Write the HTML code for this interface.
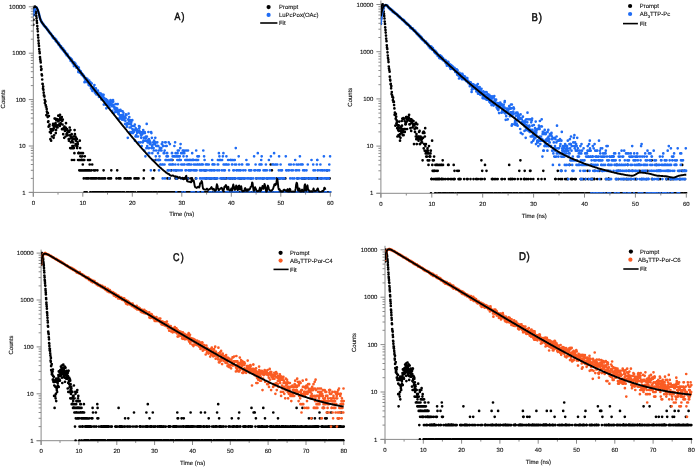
<!DOCTYPE html>
<html><head><meta charset="utf-8"><style>
html,body{margin:0;padding:0;background:#fff;}
svg{display:block;font-family:"Liberation Sans",sans-serif;will-change:transform;text-rendering:geometricPrecision;}
</style></head><body>
<svg width="696" height="467" viewBox="0 0 696 467">
<rect width="696" height="467" fill="#fff"/>
<path d="M33.3 5.5V196.7" stroke="#8a8a8a" stroke-width="1" fill="none"/><path d="M28.8 192.4H330.3" stroke="#8a8a8a" stroke-width="1" fill="none"/><path d="M28.8 192.4H33.3M30.8 178.4H33.3M30.8 170.3H33.3M30.8 164.5H33.3M30.8 160H33.3M30.8 156.3H33.3M30.8 153.2H33.3M30.8 150.5H33.3M30.8 148.1H33.3M28.8 146H33.3M30.8 132H33.3M30.8 123.9H33.3M30.8 118.1H33.3M30.8 113.6H33.3M30.8 109.9H33.3M30.8 106.8H33.3M30.8 104.1H33.3M30.8 101.7H33.3M28.8 99.6H33.3M30.8 85.6H33.3M30.8 77.5H33.3M30.8 71.7H33.3M30.8 67.2H33.3M30.8 63.5H33.3M30.8 60.4H33.3M30.8 57.7H33.3M30.8 55.3H33.3M28.8 53.2H33.3M30.8 39.2H33.3M30.8 31.1H33.3M30.8 25.3H33.3M30.8 20.8H33.3M30.8 17.1H33.3M30.8 14H33.3M30.8 11.3H33.3M30.8 8.9H33.3M28.8 6.8H33.3M33.3 192.4V196.7M58 192.4V194.6M82.8 192.4V196.7M107.5 192.4V194.6M132.3 192.4V196.7M157.1 192.4V194.6M181.8 192.4V196.7M206.6 192.4V194.6M231.3 192.4V196.7M256.1 192.4V194.6M280.8 192.4V196.7M305.6 192.4V194.6M330.3 192.4V196.7" stroke="#8a8a8a" stroke-width="1" fill="none"/><g font-size="6" fill="#111" stroke="#111" stroke-width="0.12"><text x="25.7" y="194.5" text-anchor="end">1</text><text x="25.7" y="148.1" text-anchor="end">10</text><text x="25.7" y="101.7" text-anchor="end">100</text><text x="25.7" y="55.3" text-anchor="end">1000</text><text x="25.7" y="8.9" text-anchor="end">10000</text><text x="33.3" y="204.6" text-anchor="middle">0</text><text x="82.8" y="204.6" text-anchor="middle">10</text><text x="132.3" y="204.6" text-anchor="middle">20</text><text x="181.8" y="204.6" text-anchor="middle">30</text><text x="231.3" y="204.6" text-anchor="middle">40</text><text x="280.8" y="204.6" text-anchor="middle">50</text><text x="330.3" y="204.6" text-anchor="middle">60</text><text x="181.8" y="216.1" text-anchor="middle">Time (ns)</text><text transform="translate(5.1 98.9) rotate(-90)" text-anchor="middle">Counts</text></g><clipPath id="c0"><rect x="33.3" y="2.5" width="298.5" height="189.9"/></clipPath><g clip-path="url(#c0)"><path d="M33.3 24.8h0M33.5 19.8h0M33.8 15h0M34 10.8h0M34.3 9.1h0M34.5 7.8h0M34.8 7h0M35 6.7h0M35.3 7.2h0M35.5 9h0M35.8 11.5h0M36 13.4h0M36.3 16.1h0M36.5 18.2h0M36.8 20.8h0M37 22.9h0M37.3 26.1h0M37.5 28.8h0M37.8 31.3h0M38 35.1h0M38.2 37.6h0M38.5 40.7h0M38.7 43.4h0M39 45.9h0M39.2 49.2h0M39.5 51.7h0M39.7 53.2h0M40 57.2h0M40.2 59.2h0M40.5 60.9h0M40.7 62.5h0M41 66.7h0M41.2 69.9h0M41.5 69h0M41.7 74.4h0M42 75.5h0M42.2 79.5h0M42.5 83.9h0M42.7 84.1h0M43 88.7h0M43.2 86.5h0M43.4 89.8h0M43.7 92.7h0M43.9 95.4h0M44.2 95.6h0M44.4 96.6h0M44.7 99.8h0M44.9 103.1h0M45.2 101.1h0M45.4 101.5h0M45.7 105.1h0M45.9 106.5h0M46.2 106.8h0M46.4 115.2h0M46.7 108.9h0M46.9 111.6h0M47.2 112.4h0M47.4 113.2h0M47.7 117.1h0M47.9 113.2h0M48.1 121.9h0M48.4 121.3h0M48.6 126.7h0M48.9 116.1h0M49.1 126h0M49.4 126h0M49.6 124.5h0M49.9 132h0M50.1 132h0M50.4 139.2h0M50.6 129.2h0M50.9 133.1h0M51.1 140.7h0M51.4 131h0M51.6 131h0M51.9 136.5h0M52.1 130.1h0M52.4 129.2h0M52.6 130.1h0M52.9 125.3h0M53.1 123.9h0M53.3 130.1h0M53.6 137.8h0M53.8 128.4h0M54.1 135.3h0M54.3 126.7h0M54.6 118.6h0M54.8 123.9h0M55.1 118.6h0M55.3 125.3h0M55.6 123.2h0M55.8 133.1h0M56.1 130.1h0M56.3 120.2h0M56.6 119.1h0M56.8 127.5h0M57.1 126.7h0M57.3 125.3h0M57.6 127.5h0M57.8 119.6h0M58 121.3h0M58.3 115.7h0M58.5 120.8h0M58.8 120.8h0M59 119.6h0M59.3 124.5h0M59.5 123.9h0M59.8 126h0M60 114.8h0M60.3 117.6h0M60.5 123.2h0M60.8 123.9h0M61 119.1h0M61.3 120.2h0M61.5 120.8h0M61.8 117.1h0M62 129.2h0M62.3 120.8h0M62.5 124.5h0M62.8 119.6h0M63 129.2h0M63.2 134.2h0M63.5 128.4h0M63.7 129.2h0M64 127.5h0M64.2 137.8h0M64.5 126.7h0M64.7 129.2h0M65 131h0M65.2 128.4h0M65.5 136.5h0M65.7 127.5h0M66 123.2h0M66.2 130.1h0M66.5 134.2h0M66.7 134.2h0M67 129.2h0M67.2 133.1h0M67.5 135.3h0M67.7 135.3h0M67.9 132h0M68.2 131h0M68.4 131h0M68.7 139.2h0M68.9 140.7h0M69.2 132h0M69.4 139.2h0M69.7 127.5h0M69.9 135.3h0M70.2 148.1h0M70.4 130.1h0M70.7 136.5h0M70.9 142.3h0M71.2 137.8h0M71.4 148.1h0M71.7 134.2h0M71.9 160h0M72.2 140.7h0M72.4 146h0M72.7 148.1h0M72.9 139.2h0M73.1 142.3h0M73.4 136.5h0M73.6 146h0M73.9 148.1h0M74.1 160h0M74.4 153.2h0M74.6 130.1h0M74.9 134.2h0M75.1 139.2h0M75.4 136.5h0M75.6 144.1h0M75.9 140.7h0M76.1 137.8h0M76.4 146h0M76.6 139.2h0M76.9 139.2h0M77.1 148.1h0M77.4 146h0M77.6 142.3h0M77.8 144.1h0M78.1 160h0M78.3 153.2h0M78.6 153.2h0M78.8 153.2h0M79.1 153.2h0M79.3 170.3h0M79.6 160h0M79.8 140.7h0M80.1 148.1h0M80.3 156.3h0M80.6 153.2h0M80.8 170.3h0M81.1 160h0M81.3 160h0M81.6 160h0M81.8 153.2h0M82.1 170.3h0M82.3 156.3h0M82.6 160h0M82.8 164.5h0M83 153.2h0M83.3 160h0M83.8 178.4h0M84 170.3h0M84.3 160h0M84.5 192.4h0M84.8 156.3h0M85 192.4h0M85.3 170.3h0M85.5 170.3h0M85.8 170.3h0M86 178.4h0M86.3 192.4h0M86.5 170.3h0M86.8 192.4h0M87 178.4h0M87.3 178.4h0M87.5 170.3h0M87.8 170.3h0M88 160h0M88.2 178.4h0M88.5 178.4h0M88.7 170.3h0M89 170.3h0M89.2 170.3h0M89.5 170.3h0M89.7 164.5h0M90 160h0M90.2 192.4h0M90.7 178.4h0M91 192.4h0M91.5 170.3h0M91.7 178.4h0M92 178.4h0M92.2 164.5h0M92.7 192.4h0M92.9 178.4h0M93.2 192.4h0M93.4 178.4h0M93.7 178.4h0M93.9 170.3h0M94.2 178.4h0M94.4 192.4h0M94.7 178.4h0M94.9 192.4h0M95.2 170.3h0M95.4 192.4h0M95.9 178.4h0M96.2 178.4h0M96.4 192.4h0M96.7 192.4h0M96.9 192.4h0M97.2 192.4h0M97.4 170.3h0M97.7 192.4h0M97.9 192.4h0M98.4 178.4h0M98.6 192.4h0M98.9 192.4h0M99.1 178.4h0M99.4 178.4h0M99.9 192.4h0M100.1 192.4h0M100.6 192.4h0M101.1 178.4h0M101.6 192.4h0M102.6 192.4h0M102.8 178.4h0M103.6 170.3h0M103.8 192.4h0M104.1 178.4h0M105.1 178.4h0M105.3 192.4h0M105.6 192.4h0M106.1 192.4h0M106.8 192.4h0M107.1 192.4h0M107.3 192.4h0M108.3 178.4h0M108.5 192.4h0M108.8 192.4h0M109.5 178.4h0M109.8 192.4h0M110 192.4h0M110.3 192.4h0M110.8 178.4h0M111 178.4h0M111.3 170.3h0M111.8 192.4h0M112 192.4h0M112.3 192.4h0M112.5 192.4h0M113 192.4h0M113.7 192.4h0M114 192.4h0M114.2 192.4h0M115 192.4h0M115.5 192.4h0M115.7 192.4h0M116.2 192.4h0M116.5 178.4h0M117 192.4h0M117.2 170.3h0M117.7 192.4h0M117.9 192.4h0M118.7 192.4h0M118.9 178.4h0M119.2 178.4h0M119.4 192.4h0M119.7 192.4h0M119.9 178.4h0M120.2 192.4h0M120.4 178.4h0M121.2 192.4h0M122.9 192.4h0M123.1 192.4h0M123.4 192.4h0M123.6 192.4h0M124.1 192.4h0M124.6 178.4h0M125.4 178.4h0M126.6 192.4h0M126.9 192.4h0M127.3 178.4h0M127.6 178.4h0M127.8 192.4h0M128.6 192.4h0M128.8 192.4h0M129.1 178.4h0M129.6 178.4h0M130.3 192.4h0M130.6 178.4h0M131.1 192.4h0M131.3 192.4h0M131.8 192.4h0M132.3 192.4h0M132.5 192.4h0M133.8 192.4h0M134.5 178.4h0M135.3 192.4h0M135.8 178.4h0M137 178.4h0M138 192.4h0M138.2 192.4h0M138.5 178.4h0M139.2 192.4h0M139.5 192.4h0M139.7 192.4h0M140.2 192.4h0M140.5 192.4h0M140.7 192.4h0M141.2 192.4h0M141.7 192.4h0M142.2 192.4h0M142.4 192.4h0M143.4 192.4h0M143.7 178.4h0M143.9 170.3h0M144.2 192.4h0M144.9 192.4h0M145.2 192.4h0M145.7 192.4h0M146.2 192.4h0M147.6 192.4h0M148.1 192.4h0M148.4 192.4h0M148.6 192.4h0M149.4 192.4h0M149.6 192.4h0M150.4 192.4h0M150.6 192.4h0M150.9 192.4h0M151.1 192.4h0M151.9 192.4h0M152.6 178.4h0M153.1 192.4h0M153.3 178.4h0M153.8 192.4h0M154.3 170.3h0M154.6 192.4h0M155.3 192.4h0M155.6 160h0M156.1 192.4h0M156.3 192.4h0M158.3 192.4h0M158.5 192.4h0M158.8 160h0M159.3 192.4h0M160 192.4h0M160.3 192.4h0M160.5 192.4h0M160.8 192.4h0M161 192.4h0M161.3 192.4h0M162 192.4h0M162.7 192.4h0M163 192.4h0M163.2 192.4h0M163.5 192.4h0M163.7 192.4h0M164.5 192.4h0M164.7 192.4h0M165.2 192.4h0M165.5 192.4h0M165.7 192.4h0M166.2 192.4h0M166.5 192.4h0M166.7 192.4h0M166.9 192.4h0M167.4 178.4h0M167.7 192.4h0M168.2 192.4h0M168.4 192.4h0M168.7 192.4h0M169.2 192.4h0M169.7 178.4h0M169.9 192.4h0M170.2 192.4h0M170.4 192.4h0M170.7 192.4h0M170.9 192.4h0M171.2 170.3h0M171.9 192.4h0M172.4 160h0M172.6 192.4h0M173.4 192.4h0M174.1 192.4h0M175.1 192.4h0M175.4 192.4h0M175.6 178.4h0M176.1 170.3h0M176.4 192.4h0M176.9 178.4h0M177.3 178.4h0M178.1 192.4h0M178.6 192.4h0M178.8 192.4h0M179.8 192.4h0M180.6 192.4h0M180.8 192.4h0M181.1 192.4h0M181.3 192.4h0M181.6 192.4h0M182.3 192.4h0M182.8 192.4h0M183 178.4h0M183.3 192.4h0M184 192.4h0M184.8 178.4h0M185.3 192.4h0M185.5 178.4h0M185.8 192.4h0M186.3 192.4h0M186.5 192.4h0M187.2 192.4h0M187.5 192.4h0M187.7 178.4h0M188.5 178.4h0M188.7 192.4h0M189.2 192.4h0M189.5 192.4h0M189.7 192.4h0M190 192.4h0M190.2 192.4h0M190.5 192.4h0M191.2 178.4h0M191.9 192.4h0M192.2 192.4h0M192.4 192.4h0M192.7 192.4h0M192.9 192.4h0M194.7 192.4h0M195.2 192.4h0M195.4 192.4h0M195.9 178.4h0M196.2 192.4h0M197.4 192.4h0M198.4 192.4h0M198.9 192.4h0M200.1 192.4h0M200.4 192.4h0M200.6 192.4h0M200.9 192.4h0M201.1 192.4h0M202.1 192.4h0M202.6 192.4h0M202.8 192.4h0M203.3 192.4h0M203.6 192.4h0M203.8 192.4h0M204.1 192.4h0M204.6 192.4h0M204.8 192.4h0M205.1 170.3h0M205.6 178.4h0M205.8 192.4h0M206.1 192.4h0M206.3 178.4h0M207 192.4h0M208 192.4h0M208.3 192.4h0M209 192.4h0M209.3 192.4h0M209.5 192.4h0M209.8 178.4h0M210.5 192.4h0M210.8 192.4h0M211 192.4h0M211.3 178.4h0M211.5 192.4h0M212 192.4h0M212.5 192.4h0M212.7 192.4h0M214.2 192.4h0M214.5 178.4h0M215 192.4h0M215.7 192.4h0M216 178.4h0M216.2 178.4h0M216.4 178.4h0M217.2 192.4h0M217.4 192.4h0M217.9 192.4h0M218.2 192.4h0M220.2 192.4h0M220.4 192.4h0M220.7 192.4h0M221.2 192.4h0M221.6 192.4h0M221.9 178.4h0M222.1 192.4h0M222.4 192.4h0M222.6 192.4h0M222.9 192.4h0M223.6 192.4h0M223.9 192.4h0M224.1 178.4h0M224.4 192.4h0M224.6 192.4h0M225.4 192.4h0M225.9 178.4h0M226.1 192.4h0M227.3 192.4h0M227.8 192.4h0M228.3 192.4h0M228.6 192.4h0M229.6 192.4h0M229.8 192.4h0M230.1 178.4h0M230.3 192.4h0M230.8 192.4h0M231.1 192.4h0M231.3 192.4h0M231.8 192.4h0M232.5 178.4h0M233 192.4h0M233.8 192.4h0M234.8 192.4h0M235 178.4h0M235.8 192.4h0M236 192.4h0M237.7 192.4h0M238 192.4h0M238.2 192.4h0M238.5 192.4h0M238.7 192.4h0M239 192.4h0M239.7 178.4h0M240.2 192.4h0M240.7 192.4h0M241.4 178.4h0M242.2 192.4h0M243.9 192.4h0M244.2 178.4h0M244.7 192.4h0M244.9 192.4h0M245.2 192.4h0M245.7 192.4h0M246.1 192.4h0M246.4 192.4h0M246.9 192.4h0M248.1 192.4h0M248.6 192.4h0M249.1 192.4h0M249.6 192.4h0M249.9 192.4h0M250.1 192.4h0M250.4 192.4h0M250.9 178.4h0M251.6 192.4h0M252.3 192.4h0M252.6 192.4h0M253.6 192.4h0M253.8 192.4h0M254.3 192.4h0M254.8 192.4h0M255.6 192.4h0M256.1 192.4h0M256.3 192.4h0M256.5 178.4h0M256.8 192.4h0M257.3 192.4h0M257.8 192.4h0M258 192.4h0M258.3 192.4h0M258.5 192.4h0M259.3 192.4h0M259.5 192.4h0M260 192.4h0M260.3 192.4h0M260.5 192.4h0M262 192.4h0M262.5 192.4h0M262.7 192.4h0M263 178.4h0M263.2 192.4h0M264.2 192.4h0M265 192.4h0M265.7 192.4h0M265.9 192.4h0M266.2 192.4h0M266.4 192.4h0M266.9 192.4h0M267.2 178.4h0M267.9 192.4h0M268.2 192.4h0M268.7 192.4h0M268.9 192.4h0M269.7 192.4h0M270.4 192.4h0M270.7 164.5h0M270.9 192.4h0M271.4 192.4h0M271.6 192.4h0M271.9 170.3h0M272.4 192.4h0M273.1 192.4h0M273.4 192.4h0M273.9 192.4h0M274.4 192.4h0M275.4 192.4h0M275.6 192.4h0M276.6 178.4h0M276.8 192.4h0M277.3 192.4h0M277.6 192.4h0M278.1 178.4h0M278.8 192.4h0M279.6 192.4h0M279.8 178.4h0M280.1 192.4h0M280.3 192.4h0M281.3 192.4h0M281.5 192.4h0M281.8 192.4h0M282.3 192.4h0M282.8 192.4h0M283 178.4h0M283.8 178.4h0M285.3 178.4h0M285.5 192.4h0M286 192.4h0M286.7 192.4h0M287 192.4h0M288 192.4h0M288.7 192.4h0M289 192.4h0M289.5 192.4h0M290.2 192.4h0M290.5 192.4h0M290.9 192.4h0M291.4 192.4h0M292.4 192.4h0M293.4 192.4h0M293.7 192.4h0M293.9 192.4h0M294.2 192.4h0M294.4 192.4h0M295.2 192.4h0M295.7 192.4h0M295.9 192.4h0M296.6 192.4h0M297.6 178.4h0M298.4 192.4h0M298.6 192.4h0M299.1 192.4h0M299.4 192.4h0M299.6 192.4h0M301.1 192.4h0M302.1 178.4h0M302.8 192.4h0M303.1 178.4h0M303.8 192.4h0M304.6 192.4h0M305.1 178.4h0M306.8 192.4h0M307 192.4h0M307.3 192.4h0M308 192.4h0M308.5 192.4h0M308.8 178.4h0M309 192.4h0M310 192.4h0M310.7 192.4h0M311 192.4h0M311.2 192.4h0M311.5 178.4h0M311.7 192.4h0M312 178.4h0M312.2 192.4h0M312.7 192.4h0M313 192.4h0M313.2 192.4h0M313.5 192.4h0M314 192.4h0M314.2 192.4h0M314.7 192.4h0M315 192.4h0M315.5 178.4h0M315.7 192.4h0M315.9 178.4h0M316.2 192.4h0M316.4 192.4h0M316.9 192.4h0M317.4 192.4h0M317.7 178.4h0M317.9 192.4h0M318.7 192.4h0M318.9 192.4h0M319.2 192.4h0M319.7 192.4h0M319.9 192.4h0M320.2 192.4h0M320.4 192.4h0M320.6 192.4h0M321.1 178.4h0M321.9 192.4h0M322.1 192.4h0M322.6 192.4h0M322.9 192.4h0M323.6 192.4h0M324.1 192.4h0M324.6 192.4h0M324.9 192.4h0M325.6 192.4h0M325.8 192.4h0M326.6 178.4h0M326.8 192.4h0M327.1 170.3h0M327.6 192.4h0M328.1 192.4h0M329.1 192.4h0M329.3 192.4h0M329.6 178.4h0M329.8 192.4h0M330.1 192.4h0M330.3 192.4h0" stroke="#000" stroke-width="2.7" stroke-linecap="round" fill="none"/><path d="M33.3 15.2h0M33.5 13.3h0M33.8 11.9h0M34 11.1h0M34.3 10.1h0M34.5 9.9h0M34.8 9.1h0M35 8.7h0M35.3 8.2h0M35.5 7.8h0M35.8 7.9h0M36 7.7h0M36.3 7.9h0M36.5 7.8h0M36.8 7.9h0M37 8.9h0M37.3 9.3h0M37.5 9.7h0M37.8 10.2h0M38 10.7h0M38.2 11.5h0M38.5 12.3h0M38.7 13.4h0M39 14.1h0M39.2 15h0M39.5 16.4h0M39.7 17.2h0M40 18h0M40.2 18.7h0M40.5 19.7h0M40.7 19.8h0M41 20.8h0M41.2 20.9h0M41.5 22.1h0M41.7 22.1h0M42 22.4h0M42.2 23h0M42.5 23.4h0M42.7 23.9h0M43 24.1h0M43.2 23.9h0M43.4 24.7h0M43.7 25.2h0M43.9 25.6h0M44.2 26h0M44.4 25.8h0M44.7 26.3h0M44.9 26.7h0M45.2 26.9h0M45.4 27h0M45.7 27.5h0M45.9 27.1h0M46.2 27.9h0M46.4 28.5h0M46.7 28.4h0M46.9 29.1h0M47.2 29.3h0M47.4 29.7h0M47.7 29.6h0M47.9 29.8h0M48.1 30.2h0M48.4 31.1h0M48.6 31.1h0M48.9 31.7h0M49.1 31.6h0M49.4 32.5h0M49.6 32.8h0M49.9 32.9h0M50.1 33.5h0M50.4 33.7h0M50.6 33.7h0M50.9 33.7h0M51.1 34.2h0M51.4 34.8h0M51.6 35.2h0M51.9 35.4h0M52.1 36.2h0M52.4 36.7h0M52.6 36.6h0M52.9 36h0M53.1 37.9h0M53.3 37.7h0M53.6 38.2h0M53.8 38.6h0M54.1 38.4h0M54.3 37.8h0M54.6 38.4h0M54.8 38.8h0M55.1 38.9h0M55.3 39.2h0M55.6 40.8h0M55.8 41h0M56.1 39.6h0M56.3 40.9h0M56.6 41.9h0M56.8 41h0M57.1 41.8h0M57.3 42.1h0M57.6 42.1h0M57.8 42.9h0M58 42.8h0M58.3 42.8h0M58.5 44.5h0M58.8 43.4h0M59 43.7h0M59.3 45.3h0M59.5 45h0M59.8 45.4h0M60 45.6h0M60.3 46.3h0M60.5 47.2h0M60.8 47.3h0M61 46.2h0M61.3 47.7h0M61.5 48.4h0M61.8 48.7h0M62 49.2h0M62.3 48.1h0M62.5 48.1h0M62.8 49.3h0M63 49.6h0M63.2 48.9h0M63.5 50.8h0M63.7 50.3h0M64 50.1h0M64.2 51.8h0M64.5 51.4h0M64.7 51.3h0M65 51.1h0M65.2 52.1h0M65.5 53.5h0M65.7 53.8h0M66 53.5h0M66.2 53.4h0M66.5 55.2h0M66.7 54.6h0M67 55h0M67.2 53.8h0M67.5 54.7h0M67.7 55.9h0M67.9 55.5h0M68.2 56.1h0M68.4 56.7h0M68.7 57.3h0M68.9 57.4h0M69.2 57.9h0M69.4 57.7h0M69.7 57.5h0M69.9 58.7h0M70.2 59.3h0M70.4 58.1h0M70.7 60.9h0M70.9 58.8h0M71.2 59.6h0M71.4 60.6h0M71.7 59.4h0M71.9 60.6h0M72.2 60.7h0M72.4 61.9h0M72.7 63h0M72.9 63.5h0M73.1 63h0M73.4 62.7h0M73.6 63.8h0M73.9 66.1h0M74.1 62.4h0M74.4 63.1h0M74.6 62.9h0M74.9 65.8h0M75.1 64.1h0M75.4 63.7h0M75.6 66h0M75.9 65.7h0M76.1 66.6h0M76.4 67.7h0M76.6 66.4h0M76.9 65.8h0M77.1 67.6h0M77.4 67.9h0M77.6 67h0M77.8 67.5h0M78.1 67.9h0M78.3 72.1h0M78.6 70.5h0M78.8 67.7h0M79.1 70.7h0M79.3 69.8h0M79.6 70.5h0M79.8 71.2h0M80.1 72.8h0M80.3 71.5h0M80.6 72.9h0M80.8 71.4h0M81.1 73.3h0M81.3 74.1h0M81.6 73.2h0M81.8 74.9h0M82.1 74h0M82.3 74.6h0M82.6 74.2h0M82.8 75.4h0M83 75.9h0M83.3 75.2h0M83.5 76.4h0M83.8 76.3h0M84 76h0M84.3 77.7h0M84.5 82.2h0M84.8 77.9h0M85 79.4h0M85.3 77.9h0M85.5 78.6h0M85.8 79.7h0M86 78.4h0M86.3 81.9h0M86.5 79.9h0M86.8 80.7h0M87 80.1h0M87.3 78.9h0M87.5 82h0M87.8 82h0M88 81.6h0M88.2 81.2h0M88.5 83.7h0M88.7 85h0M89 82.7h0M89.2 80.7h0M89.5 85.5h0M89.7 84.4h0M90 83.4h0M90.2 85h0M90.5 82.4h0M90.7 83.3h0M91 88.2h0M91.2 87.3h0M91.5 87.9h0M91.7 83.4h0M92 89.5h0M92.2 89h0M92.5 91h0M92.7 88.6h0M92.9 87h0M93.2 89h0M93.4 86.9h0M93.7 86.9h0M93.9 89.1h0M94.2 88.4h0M94.4 85h0M94.7 89.8h0M94.9 92.5h0M95.2 90.8h0M95.4 89.6h0M95.7 93.4h0M95.9 88.4h0M96.2 91.6h0M96.4 94.5h0M96.7 93.1h0M96.9 92h0M97.2 91.4h0M97.4 92.8h0M97.7 93.6h0M97.9 90.6h0M98.1 94.2h0M98.4 92.8h0M98.6 95.1h0M98.9 96.8h0M99.1 96.3h0M99.4 96.3h0M99.6 93.1h0M99.9 93.4h0M100.1 94.9h0M100.4 94.6h0M100.6 93.3h0M100.9 96.6h0M101.1 96.8h0M101.4 99.4h0M101.6 97.1h0M101.9 97.9h0M102.1 95.4h0M102.4 94.5h0M102.6 96.3h0M102.8 98.6h0M103.1 94.8h0M103.3 95.9h0M103.6 94.8h0M103.8 104.6h0M104.1 98h0M104.3 100.6h0M104.6 100.4h0M104.8 99h0M105.1 100.4h0M105.3 101.1h0M105.6 104.6h0M105.8 99h0M106.1 102.2h0M106.3 108.3h0M106.6 101.7h0M106.8 100.8h0M107.1 103.8h0M107.3 100.2h0M107.5 103.8h0M107.8 104.1h0M108 105.4h0M108.3 107.1h0M108.5 104.1h0M108.8 101.9h0M109 102.9h0M109.3 102.4h0M109.5 107.7h0M109.8 105.1h0M110 104.6h0M110.3 101.3h0M110.5 100h0M110.8 104.4h0M111 101.3h0M111.3 104.4h0M111.5 103.6h0M111.8 104.9h0M112 106.2h0M112.3 110.9h0M112.5 105.9h0M112.7 105.7h0M113 100h0M113.2 101.7h0M113.5 104.9h0M113.7 106.5h0M114 113.2h0M114.2 107.7h0M114.5 107.7h0M114.7 108.9h0M115 107.7h0M115.2 109.6h0M115.5 111.6h0M115.7 104.1h0M116 111.3h0M116.2 108.6h0M116.5 108h0M116.7 112h0M117 110.6h0M117.2 108.6h0M117.5 112h0M117.7 104.1h0M117.9 118.6h0M118.2 112.8h0M118.4 114h0M118.7 113.6h0M118.9 111.6h0M119.2 119.1h0M119.4 110.2h0M119.7 115.2h0M119.9 118.6h0M120.2 117.1h0M120.4 109.9h0M120.7 117.1h0M120.9 117.1h0M121.2 110.9h0M121.4 115.2h0M121.7 116.1h0M121.9 119.6h0M122.2 117.6h0M122.4 119.6h0M122.6 111.3h0M122.9 117.1h0M123.1 115.2h0M123.4 112.8h0M123.6 117.6h0M123.9 117.1h0M124.1 118.6h0M124.4 120.2h0M124.6 118.6h0M124.9 116.6h0M125.1 123.9h0M125.4 120.8h0M125.6 118.1h0M125.9 114.4h0M126.1 124.5h0M126.4 115.2h0M126.6 124.5h0M126.9 126.7h0M127.1 124.5h0M127.3 123.2h0M127.6 123.9h0M127.8 137.8h0M128.1 119.6h0M128.3 119.6h0M128.6 113.6h0M128.8 123.9h0M129.1 121.3h0M129.3 117.1h0M129.6 127.5h0M129.8 132h0M130.1 120.2h0M130.3 123.9h0M130.6 127.5h0M130.8 133.1h0M131.1 123.9h0M131.3 121.9h0M131.6 126h0M131.8 126h0M132.1 132h0M132.3 120.2h0M132.5 129.2h0M132.8 130.1h0M133 133.1h0M133.3 130.1h0M133.5 131h0M133.8 132h0M134 126h0M134.3 130.1h0M134.5 126h0M134.8 124.5h0M135 140.7h0M135.3 130.1h0M135.5 136.5h0M135.8 128.4h0M136 135.3h0M136.3 129.2h0M136.5 129.2h0M136.8 136.5h0M137 132h0M137.2 133.1h0M137.5 131h0M137.7 131h0M138 136.5h0M138.2 131h0M138.5 142.3h0M138.7 132h0M139 126h0M139.2 128.4h0M139.5 131h0M139.7 126.7h0M140 133.1h0M140.2 133.1h0M140.5 142.3h0M140.7 132h0M141 135.3h0M141.2 137.8h0M141.5 135.3h0M141.7 146h0M142 134.2h0M142.2 134.2h0M142.4 132h0M142.7 142.3h0M142.9 142.3h0M143.2 130.1h0M143.4 140.7h0M143.7 133.1h0M143.9 137.8h0M144.2 137.8h0M144.4 150.5h0M144.7 132h0M144.9 133.1h0M145.2 140.7h0M145.4 156.3h0M145.7 140.7h0M145.9 136.5h0M146.2 137.8h0M146.4 148.1h0M146.7 123.9h0M146.9 136.5h0M147.2 146h0M147.4 140.7h0M147.6 142.3h0M147.9 142.3h0M148.1 148.1h0M148.4 132h0M148.6 153.2h0M148.9 139.2h0M149.1 148.1h0M149.4 153.2h0M149.6 140.7h0M149.9 144.1h0M150.1 142.3h0M150.4 142.3h0M150.6 144.1h0M150.9 170.3h0M151.1 132h0M151.4 133.1h0M151.6 148.1h0M151.9 137.8h0M152.1 146h0M152.3 153.2h0M152.8 160h0M153.1 142.3h0M153.3 144.1h0M153.6 148.1h0M153.8 150.5h0M154.1 140.7h0M154.3 144.1h0M154.6 144.1h0M154.8 144.1h0M155.1 142.3h0M155.3 137.8h0M155.6 142.3h0M155.8 156.3h0M156.1 150.5h0M156.3 146h0M156.6 160h0M156.8 146h0M157.1 146h0M157.3 142.3h0M157.5 160h0M157.8 146h0M158 153.2h0M158.3 146h0M158.5 160h0M158.8 150.5h0M159 170.3h0M159.3 160h0M159.5 156.3h0M159.8 148.1h0M160 160h0M160.3 164.5h0M160.5 148.1h0M160.8 164.5h0M161 150.5h0M161.3 148.1h0M161.5 150.5h0M161.8 144.1h0M162 144.1h0M162.2 164.5h0M162.5 142.3h0M162.7 178.4h0M163 164.5h0M163.2 146h0M163.5 146h0M163.7 153.2h0M164 153.2h0M164.2 153.2h0M164.5 164.5h0M164.7 150.5h0M165 178.4h0M165.2 142.3h0M165.5 160h0M165.7 142.3h0M166 146h0M166.2 160h0M166.5 156.3h0M166.7 146h0M166.9 153.2h0M167.2 153.2h0M167.4 156.3h0M167.7 170.3h0M167.9 156.3h0M168.2 160h0M168.4 170.3h0M168.7 142.3h0M168.9 170.3h0M169.2 178.4h0M169.4 164.5h0M169.7 160h0M169.9 144.1h0M170.2 164.5h0M170.4 170.3h0M170.7 160h0M170.9 160h0M171.2 164.5h0M171.4 160h0M171.7 160h0M171.9 153.2h0M172.1 153.2h0M172.4 164.5h0M172.6 156.3h0M172.9 164.5h0M173.1 164.5h0M173.4 170.3h0M173.6 156.3h0M173.9 156.3h0M174.1 156.3h0M174.4 146h0M174.6 170.3h0M174.9 156.3h0M175.1 142.3h0M175.4 164.5h0M175.6 153.2h0M175.9 170.3h0M176.1 192.4h0M176.4 156.3h0M176.6 178.4h0M176.9 170.3h0M177.1 156.3h0M177.3 160h0M177.6 153.2h0M177.8 150.5h0M178.1 170.3h0M178.3 164.5h0M178.6 156.3h0M178.8 150.5h0M179.1 160h0M179.3 160h0M179.6 160h0M179.8 156.3h0M180.1 170.3h0M180.3 148.1h0M180.6 144.1h0M180.8 160h0M181.1 153.2h0M181.3 164.5h0M181.6 178.4h0M181.8 170.3h0M182 153.2h0M182.3 192.4h0M182.5 164.5h0M182.8 150.5h0M183.3 150.5h0M183.5 156.3h0M183.8 153.2h0M184 164.5h0M184.3 153.2h0M184.5 164.5h0M184.8 192.4h0M185 150.5h0M185.3 160h0M185.5 170.3h0M185.8 170.3h0M186 170.3h0M186.3 160h0M186.5 150.5h0M186.8 156.3h0M187 160h0M187.2 164.5h0M187.5 178.4h0M187.7 160h0M188 150.5h0M188.2 164.5h0M188.5 170.3h0M188.7 164.5h0M189 160h0M189.2 164.5h0M189.5 170.3h0M189.7 164.5h0M190 160h0M190.2 160h0M190.5 170.3h0M190.7 170.3h0M191 170.3h0M191.2 164.5h0M191.5 192.4h0M191.7 192.4h0M191.9 160h0M192.2 153.2h0M192.4 160h0M192.7 192.4h0M192.9 160h0M193.2 170.3h0M193.4 160h0M193.7 160h0M193.9 164.5h0M194.2 192.4h0M194.4 170.3h0M194.7 170.3h0M194.9 170.3h0M195.2 164.5h0M195.4 170.3h0M195.7 170.3h0M195.9 160h0M196.2 150.5h0M196.4 178.4h0M196.6 170.3h0M196.9 160h0M197.1 164.5h0M197.4 156.3h0M197.6 164.5h0M197.9 192.4h0M198.1 160h0M198.4 156.3h0M198.6 192.4h0M198.9 156.3h0M199.1 164.5h0M199.4 164.5h0M199.9 170.3h0M200.1 178.4h0M200.4 178.4h0M200.6 178.4h0M200.9 170.3h0M201.1 164.5h0M201.4 164.5h0M201.6 170.3h0M201.8 170.3h0M202.1 192.4h0M202.3 178.4h0M202.6 164.5h0M202.8 164.5h0M203.1 192.4h0M203.3 150.5h0M203.6 170.3h0M203.8 178.4h0M204.1 156.3h0M204.3 170.3h0M204.6 160h0M204.8 178.4h0M205.1 170.3h0M205.3 170.3h0M205.6 178.4h0M205.8 164.5h0M206.1 164.5h0M206.3 170.3h0M206.8 170.3h0M207 164.5h0M207.3 178.4h0M207.5 164.5h0M207.8 178.4h0M208.3 178.4h0M208.5 178.4h0M208.8 164.5h0M209 178.4h0M209.3 170.3h0M209.5 192.4h0M209.8 178.4h0M210 178.4h0M210.8 170.3h0M211 178.4h0M211.3 170.3h0M211.5 192.4h0M211.7 178.4h0M212 170.3h0M212.2 160h0M212.5 164.5h0M212.7 164.5h0M213.2 164.5h0M213.5 178.4h0M213.7 170.3h0M214 164.5h0M214.2 192.4h0M214.5 164.5h0M214.7 170.3h0M215 192.4h0M215.2 192.4h0M215.5 178.4h0M216 192.4h0M216.2 178.4h0M216.4 178.4h0M216.7 192.4h0M216.9 178.4h0M217.2 170.3h0M217.4 178.4h0M217.7 164.5h0M217.9 160h0M218.2 164.5h0M218.4 192.4h0M218.9 153.2h0M219.2 170.3h0M219.4 156.3h0M219.7 192.4h0M219.9 160h0M220.2 160h0M220.4 178.4h0M220.7 178.4h0M220.9 178.4h0M221.2 192.4h0M221.6 192.4h0M221.9 170.3h0M222.1 160h0M222.6 178.4h0M222.9 156.3h0M223.4 153.2h0M223.6 164.5h0M223.9 170.3h0M224.1 164.5h0M224.4 178.4h0M224.6 178.4h0M224.9 170.3h0M225.1 178.4h0M225.6 164.5h0M225.9 192.4h0M226.1 164.5h0M226.4 156.3h0M226.6 192.4h0M226.8 164.5h0M227.3 192.4h0M227.6 192.4h0M227.8 178.4h0M228.1 160h0M228.3 192.4h0M228.6 164.5h0M228.8 178.4h0M229.1 170.3h0M229.8 178.4h0M230.1 192.4h0M230.3 160h0M230.6 160h0M231.1 178.4h0M231.5 178.4h0M231.8 160h0M232 164.5h0M232.3 164.5h0M232.5 192.4h0M232.8 178.4h0M233 160h0M233.3 170.3h0M233.5 192.4h0M233.8 178.4h0M234 170.3h0M234.3 192.4h0M234.5 192.4h0M234.8 160h0M235 164.5h0M235.3 192.4h0M235.5 178.4h0M235.8 148.1h0M236.2 164.5h0M236.5 170.3h0M236.7 170.3h0M237 170.3h0M237.2 192.4h0M238 178.4h0M238.2 192.4h0M238.5 170.3h0M238.7 156.3h0M239 178.4h0M239.2 164.5h0M239.5 178.4h0M239.7 170.3h0M240 178.4h0M240.2 178.4h0M240.5 178.4h0M240.7 170.3h0M241 178.4h0M241.2 192.4h0M241.4 192.4h0M241.7 178.4h0M241.9 164.5h0M242.2 164.5h0M242.4 178.4h0M242.7 192.4h0M242.9 192.4h0M243.2 170.3h0M243.7 178.4h0M243.9 192.4h0M244.2 178.4h0M244.4 192.4h0M244.7 192.4h0M244.9 178.4h0M245.4 170.3h0M245.9 192.4h0M246.4 160h0M246.6 192.4h0M246.9 164.5h0M247.1 178.4h0M247.4 164.5h0M247.6 178.4h0M247.9 178.4h0M248.1 178.4h0M248.4 178.4h0M248.6 164.5h0M248.9 178.4h0M249.1 170.3h0M249.4 192.4h0M249.6 170.3h0M249.9 170.3h0M250.1 192.4h0M250.4 170.3h0M250.6 170.3h0M250.9 178.4h0M251.1 178.4h0M251.3 170.3h0M251.6 178.4h0M252.6 192.4h0M253.1 192.4h0M253.3 178.4h0M253.6 192.4h0M253.8 192.4h0M254.1 156.3h0M254.3 170.3h0M254.6 192.4h0M254.8 170.3h0M255.1 170.3h0M255.3 192.4h0M255.6 164.5h0M256.3 178.4h0M256.8 192.4h0M257 192.4h0M257.5 170.3h0M257.8 153.2h0M258 192.4h0M258.3 192.4h0M258.5 192.4h0M258.8 178.4h0M259 170.3h0M259.3 170.3h0M259.5 164.5h0M259.8 170.3h0M260 164.5h0M260.3 178.4h0M260.5 178.4h0M260.8 178.4h0M261 164.5h0M261.2 160h0M261.5 164.5h0M261.7 156.3h0M262 192.4h0M262.2 192.4h0M262.5 192.4h0M262.7 178.4h0M263 192.4h0M263.5 170.3h0M263.7 192.4h0M264 178.4h0M264.2 192.4h0M264.5 178.4h0M264.7 170.3h0M265.2 192.4h0M265.5 170.3h0M265.7 192.4h0M265.9 164.5h0M266.2 192.4h0M266.4 192.4h0M266.7 178.4h0M266.9 170.3h0M267.2 192.4h0M267.4 192.4h0M267.9 178.4h0M268.4 192.4h0M268.7 178.4h0M268.9 160h0M269.2 192.4h0M269.4 178.4h0M269.7 178.4h0M269.9 170.3h0M270.2 178.4h0M270.4 192.4h0M270.7 178.4h0M270.9 156.3h0M271.1 178.4h0M271.6 178.4h0M271.9 192.4h0M272.1 178.4h0M272.4 192.4h0M272.6 164.5h0M272.9 164.5h0M273.1 178.4h0M273.4 164.5h0M273.6 178.4h0M273.9 178.4h0M274.1 153.2h0M274.4 178.4h0M274.6 192.4h0M275.1 192.4h0M275.4 164.5h0M275.6 192.4h0M276.1 164.5h0M276.3 192.4h0M276.8 192.4h0M277.1 192.4h0M277.3 164.5h0M277.6 192.4h0M277.8 178.4h0M278.1 178.4h0M278.3 178.4h0M278.6 178.4h0M278.8 170.3h0M279.1 156.3h0M279.3 178.4h0M279.6 192.4h0M279.8 178.4h0M280.1 178.4h0M280.6 164.5h0M280.8 170.3h0M281.3 178.4h0M281.5 178.4h0M281.8 170.3h0M282 170.3h0M282.3 178.4h0M282.8 178.4h0M283 192.4h0M283.3 192.4h0M283.5 178.4h0M283.8 178.4h0M284 192.4h0M284.3 178.4h0M284.5 192.4h0M285 192.4h0M285.3 192.4h0M285.5 192.4h0M285.8 156.3h0M286.2 170.3h0M286.5 192.4h0M286.7 192.4h0M287 170.3h0M287.5 192.4h0M287.7 192.4h0M288 192.4h0M288.2 192.4h0M288.5 170.3h0M289 170.3h0M289.2 164.5h0M289.5 192.4h0M289.7 192.4h0M290 192.4h0M290.2 178.4h0M290.5 192.4h0M290.9 164.5h0M291.4 170.3h0M291.7 192.4h0M292.4 178.4h0M292.9 170.3h0M293.2 192.4h0M293.4 192.4h0M293.7 164.5h0M293.9 192.4h0M294.2 192.4h0M294.4 178.4h0M294.7 192.4h0M294.9 192.4h0M295.2 160h0M295.4 192.4h0M295.7 170.3h0M295.9 192.4h0M296.4 192.4h0M296.6 164.5h0M296.9 170.3h0M297.1 178.4h0M297.4 192.4h0M298.1 192.4h0M298.6 164.5h0M298.9 178.4h0M299.1 170.3h0M299.6 192.4h0M299.9 156.3h0M300.1 192.4h0M300.4 192.4h0M300.8 164.5h0M301.1 164.5h0M301.3 178.4h0M301.6 192.4h0M302.1 164.5h0M302.3 178.4h0M302.6 164.5h0M302.8 192.4h0M303.1 170.3h0M303.3 192.4h0M303.6 178.4h0M304.1 192.4h0M304.3 170.3h0M304.6 170.3h0M304.8 192.4h0M305.1 192.4h0M305.3 192.4h0M305.6 192.4h0M305.8 178.4h0M306.3 178.4h0M306.5 170.3h0M307 178.4h0M307.3 192.4h0M307.5 192.4h0M307.8 164.5h0M308.3 192.4h0M308.8 192.4h0M309.3 178.4h0M309.5 178.4h0M310 192.4h0M310.3 192.4h0M310.5 192.4h0M310.7 178.4h0M311 178.4h0M311.2 192.4h0M311.5 160h0M311.7 192.4h0M312 192.4h0M312.5 178.4h0M312.7 178.4h0M313 178.4h0M313.2 164.5h0M313.5 170.3h0M313.7 192.4h0M314 192.4h0M314.2 192.4h0M314.5 178.4h0M314.7 192.4h0M315 170.3h0M315.5 192.4h0M315.7 178.4h0M315.9 192.4h0M316.2 192.4h0M316.4 192.4h0M316.7 192.4h0M316.9 164.5h0M317.2 160h0M317.4 160h0M317.7 170.3h0M317.9 170.3h0M318.4 192.4h0M318.7 192.4h0M318.9 178.4h0M319.4 192.4h0M319.7 192.4h0M319.9 192.4h0M320.2 170.3h0M320.4 164.5h0M320.9 178.4h0M321.6 192.4h0M321.9 170.3h0M322.1 170.3h0M322.4 178.4h0M322.9 170.3h0M323.9 156.3h0M324.1 178.4h0M324.4 192.4h0M324.6 170.3h0M324.9 192.4h0M325.1 178.4h0M325.4 192.4h0M325.6 192.4h0M325.8 192.4h0M326.1 178.4h0M326.3 192.4h0M326.6 170.3h0M326.8 178.4h0M327.1 170.3h0M327.3 170.3h0M327.8 178.4h0M328.1 178.4h0M328.3 178.4h0M328.8 178.4h0M329.1 170.3h0M329.3 164.5h0M329.6 192.4h0M329.8 192.4h0M330.1 156.3h0M330.3 192.4h0" stroke="#1f6cf4" stroke-width="2.7" stroke-linecap="round" fill="none"/><path d="M33.3 8L33.8 7.5L34.3 7.2L34.8 7.1L35.3 7L35.8 7L36.3 7.1L36.8 7.8L37.3 8.9L37.8 10.1L38.2 11.4L38.7 13L39.2 15L39.7 17L40.2 18.9L40.7 20.3L41.2 21.3L41.7 22.1L42.2 22.9L42.7 23.5L43.2 24.2L43.7 24.8L44.2 25.5L44.7 26.1L45.2 26.7L45.7 27.4L46.2 28L46.7 28.6L47.2 29.3L47.7 29.9L48.1 30.5L48.6 31.2L49.1 31.8L49.6 32.4L50.1 33.1L50.6 33.7L51.1 34.3L51.6 35L52.1 35.6L52.6 36.3L53.1 36.9L53.6 37.5L54.1 38.2L54.6 38.8L55.1 39.4L55.6 40.1L56.1 40.7L56.6 41.3L57.1 42L57.6 42.6L58 43.2L58.5 43.9L59 44.5L59.5 45.1L60 45.8L60.5 46.4L61 47.1L61.5 47.7L62 48.3L62.5 49L63 49.6L63.5 50.2L64 50.9L64.5 51.5L65 52.1L65.5 52.8L66 53.4L66.5 54L67 54.7L67.5 55.3L67.9 55.9L68.4 56.6L68.9 57.2L69.4 57.8L69.9 58.5L70.4 59.1L70.9 59.8L71.4 60.4L71.9 61L72.4 61.7L72.9 62.3L73.4 62.9L73.9 63.6L74.4 64.2L74.9 64.8L75.4 65.5L75.9 66.1L76.4 66.7L76.9 67.4L77.4 68L77.8 68.6L78.3 69.3L78.8 69.9L79.3 70.5L79.8 71.2L80.3 71.8L80.8 72.4L81.3 73.1L81.8 73.7L82.3 74.3L82.8 75L83.3 75.6L83.8 76.2L84.3 76.9L84.8 77.5L85.3 78.1L85.8 78.8L86.3 79.4L86.8 80L87.3 80.7L87.8 81.3L88.2 81.9L88.7 82.6L89.2 83.2L89.7 83.8L90.2 84.5L90.7 85.1L91.2 85.7L91.7 86.4L92.2 87L92.7 87.6L93.2 88.3L93.7 88.9L94.2 89.5L94.7 90.2L95.2 90.8L95.7 91.4L96.2 92.1L96.7 92.7L97.2 93.3L97.7 94L98.1 94.6L98.6 95.2L99.1 95.8L99.6 96.5L100.1 97.1L100.6 97.7L101.1 98.4L101.6 99L102.1 99.6L102.6 100.3L103.1 100.9L103.6 101.5L104.1 102.1L104.6 102.8L105.1 103.4L105.6 104L106.1 104.7L106.6 105.3L107.1 105.9L107.5 106.5L108 107.2L108.5 107.8L109 108.4L109.5 109L110 109.7L110.5 110.3L111 110.9L111.5 111.5L112 112.2L112.5 112.8L113 113.4L113.5 114L114 114.7L114.5 115.3L115 115.9L115.5 116.5L116 117.1L116.5 117.8L117 118.4L117.5 119L117.9 119.6L118.4 120.2L118.9 120.9L119.4 121.5L119.9 122.1L120.4 122.7L120.9 123.3L121.4 123.9L121.9 124.6L122.4 125.2L122.9 125.8L123.4 126.4L123.9 127L124.4 127.6L124.9 128.2L125.4 128.8L125.9 129.4L126.4 130L126.9 130.7L127.3 131.3L127.8 131.9L128.3 132.5L128.8 133.1L129.3 133.7L129.8 134.3L130.3 134.9L130.8 135.5L131.3 136.1L131.8 136.7L132.3 137.3L132.8 137.9L133.3 138.4L133.8 139L134.3 139.6L134.8 140.2L135.3 140.8L135.8 141.4L136.3 142L136.8 142.6L137.2 143.1L137.7 143.7L138.2 144.3L138.7 144.9L139.2 145.4L139.7 146L140.2 146.6L140.7 147.2L141.2 147.7L141.7 148.3L142.2 148.9L142.7 149.4L143.2 150L143.7 150.5L144.2 151.1L144.7 151.6L145.2 152.2L145.7 152.7L146.2 153.3L146.7 153.8L147.2 154.4L147.6 154.9L148.1 155.4L148.6 156L149.1 156.5L149.6 157L150.1 157.6L150.6 158.1L151.1 158.6L151.6 159.1L152.1 159.6L152.6 160.1L153.1 160.6L153.6 161.1L154.1 161.6L154.6 162.1L155.1 162.6L155.6 163.1L156.1 163.6L156.6 164.1L157.1 164.6L157.5 165L158 165.5L158.5 166L159 166.4L159.5 166.9L160 167.3L160.5 167.8L161 168.2L161.5 168.7L162 169.1L162.5 169.6L163 170L163.5 170.4L164 170.8L164.5 171.2L165 171.6L165.5 172L166 172.5L166.5 172.7L166.9 173L167.4 173.4L167.9 173.8L168.4 173.8L168.9 174L169.4 174.8L169.9 175.2L170.4 175.4L170.9 175.6L171.4 175.9L171.9 175.9L172.4 175.4L172.9 175.4L173.4 175.7L173.9 176.2L174.4 176.5L174.9 176.4L175.4 176.3L175.9 176.5L176.4 176.7L176.9 176.8L177.3 176.7L177.8 177.3L178.3 177.9L178.8 177.9L179.3 177.3L179.8 177.1L180.3 178.2L180.8 178.6L181.3 178.1L181.8 178.1L182.3 177.7L182.8 178.4L183.3 179.3L183.8 179.3L184.3 178.5L184.8 177.9L185.3 178.2L185.8 176.4L186.3 175.7L186.8 179.5L187.2 181.2L187.7 181.3L188.2 181.5L188.7 181.6L189.2 181.8L189.7 181.9L190.2 182L190.7 182.2L191.2 182.3L191.7 178.9L192.2 178.1L192.7 180.9L193.2 181.4L193.7 180.4L194.2 183L194.7 185.9L195.2 187.2L195.7 187.3L196.2 187.5L196.6 187.9L197.1 187.6L197.6 187.1L198.1 186.6L198.6 186.7L199.1 187.6L199.6 186.6L200.1 183.2L200.6 183.4L201.1 182.4L201.6 181L202.1 181.9L202.6 186.1L203.1 188.7L203.6 189L204.1 189.4L204.6 189.5L205.1 189.6L205.6 189.6L206.1 189.7L206.6 189L207 188.6L207.5 189.6L208 190L208.5 189.8L209 189.4L209.5 189.2L210 189L210.5 188.7L211 187.8L211.5 187.1L212 188.2L212.5 189.5L213 189.5L213.5 188.8L214 189.1L214.5 190.7L215 190.7L215.5 190.8L216 190.2L216.4 186.9L216.9 184.3L217.4 185.5L217.9 188L218.4 189.7L218.9 190.3L219.4 189.3L219.9 189.1L220.4 188.6L220.9 188.2L221.4 187.7L221.9 188L222.4 189.6L222.9 190.7L223.4 190.8L223.9 189.4L224.4 186.7L224.9 187L225.4 185.8L225.9 185L226.4 185.9L226.8 188.2L227.3 189.7L227.8 188.3L228.3 186.8L228.8 189.4L229.3 190.4L229.8 190.5L230.3 190.3L230.8 189.8L231.3 188.4L231.8 190L232.3 190.4L232.8 186.4L233.3 184.4L233.8 186.6L234.3 188.5L234.8 189.8L235.3 189.6L235.8 187.5L236.2 185.5L236.7 186.3L237.2 188.9L237.7 190.1L238.2 189.4L238.7 185.9L239.2 185.6L239.7 189.3L240.2 189.6L240.7 186.8L241.2 186.2L241.7 189.2L242.2 191.3L242.7 191.6L243.2 191L243.7 191.1L244.2 191.1L244.7 189L245.2 188L245.7 189.8L246.1 191L246.6 190L247.1 189.3L247.6 190.8L248.1 190.1L248.6 189.3L249.1 189.8L249.6 189.3L250.1 188.6L250.6 186.9L251.1 186.8L251.6 185.8L252.1 182.4L252.6 183.1L253.1 187.4L253.6 190.9L254.1 190.8L254.6 188.4L255.1 187.2L255.6 188.5L256.1 189.6L256.5 190.8L257 191.2L257.5 191.3L258 190.8L258.5 191L259 190.9L259.5 189.1L260 187.6L260.5 190.4L261 190.6L261.5 189.1L262 187.9L262.5 185.9L263 187.5L263.5 188.8L264 186.9L264.5 183.9L265 185.4L265.5 188.1L265.9 190.5L266.4 192.1L266.9 191.2L267.4 187.1L267.9 185.6L268.4 187.1L268.9 188.8L269.4 190.1L269.9 190.5L270.4 190.9L270.9 190.7L271.4 190.9L271.9 190.5L272.4 189.7L272.9 189.2L273.4 187.7L273.9 186.1L274.4 184.3L274.9 184.1L275.4 185.2L275.9 184.7L276.3 183.4L276.8 180.2L277.3 178.9L277.8 182.5L278.3 187.2L278.8 189.5L279.3 188.9L279.8 189.5L280.3 191.6L280.8 192L281.3 191.1L281.8 192L282.3 192.1L282.8 191.9L283.3 190.2L283.8 189.9L284.3 189.6L284.8 190L285.3 190.8L285.8 190.5L286.2 190.9L286.7 191.2L287.2 189.6L287.7 189.1L288.2 192.1L288.7 192.1L289.2 192.1L289.7 188.7L290.2 189.2L290.7 190.8L291.2 192.1L291.7 192.1L292.2 192.1L292.7 191.5L293.2 191.4L293.7 192.1L294.2 192.2L294.7 192.1L295.2 190.5L295.7 188.4L296.1 184.8L296.6 182.7L297.1 183.3L297.6 187.2L298.1 190.8L298.6 190.7L299.1 188.4L299.6 188.9L300.1 191.4L300.6 192.2L301.1 192.2L301.6 190.5L302.1 189.5L302.6 190.7L303.1 192L303.6 192.2L304.1 190L304.6 185.2L305.1 184.3L305.6 188.6L306 190.8L306.5 190.6L307 186.8L307.5 185.3L308 189.2L308.5 190L309 190.5L309.5 192.2L310 192.2L310.5 192.2L311 191L311.5 192.2L312 192.2L312.5 192.2L313 190.5L313.5 188.4L314 189.8L314.5 190.8L315 191.2L315.5 190.9L315.9 190.8L316.4 190.7L316.9 190.1L317.4 188.7L317.9 188.5L318.4 190.8L318.9 191.2L319.4 192L319.9 192.2L320.4 192.2L320.9 191.9L321.4 191.8L321.9 191.6L322.4 190.9L322.9 191.3L323.4 190.8L323.9 189.6L324.4 187.6L324.9 188.1L325.4 189.8" stroke="#000" stroke-width="1.9" fill="none" stroke-linejoin="round"/></g><circle cx="268.6" cy="7.1" r="2.1" fill="#000"/><circle cx="268.6" cy="14.9" r="2.1" fill="#1f6cf4"/><path d="M260.2 23H277.4" stroke="#000" stroke-width="1.6"/><g font-size="6" fill="#111" stroke="#111" stroke-width="0.12"><text x="278.9" y="9.2">Prompt</text><text x="278.9" y="17">LuPcPox(OAc)</text><text x="278.9" y="25.1">Fit</text></g><g fill="#111" stroke="#111" stroke-width="0.55" font-size="10.6"><text x="0" y="19.6" transform="translate(174.6 0) scale(0.83 1)">A</text><text x="0" y="19.6" transform="translate(181.6 0) scale(0.83 1)">)</text></g>
<path d="M380.9 0.5V197.6" stroke="#8a8a8a" stroke-width="1" fill="none"/><path d="M376.4 193.3H686.3" stroke="#8a8a8a" stroke-width="1" fill="none"/><path d="M376.4 193.3H380.9M378.4 179.1H380.9M378.4 170.8H380.9M378.4 164.9H380.9M378.4 160.3H380.9M378.4 156.6H380.9M378.4 153.4H380.9M378.4 150.7H380.9M378.4 148.3H380.9M376.4 146.1H380.9M378.4 131.9H380.9M378.4 123.6H380.9M378.4 117.7H380.9M378.4 113.1H380.9M378.4 109.4H380.9M378.4 106.2H380.9M378.4 103.5H380.9M378.4 101.1H380.9M376.4 98.9H380.9M378.4 84.7H380.9M378.4 76.4H380.9M378.4 70.5H380.9M378.4 65.9H380.9M378.4 62.2H380.9M378.4 59H380.9M378.4 56.3H380.9M378.4 53.9H380.9M376.4 51.7H380.9M378.4 37.5H380.9M378.4 29.2H380.9M378.4 23.3H380.9M378.4 18.7H380.9M378.4 15H380.9M378.4 11.8H380.9M378.4 9.1H380.9M378.4 6.7H380.9M376.4 4.5H380.9M380.9 193.3V197.6M406.3 193.3V195.5M431.8 193.3V197.6M457.2 193.3V195.5M482.7 193.3V197.6M508.1 193.3V195.5M533.6 193.3V197.6M559 193.3V195.5M584.5 193.3V197.6M609.9 193.3V195.5M635.4 193.3V197.6M660.8 193.3V195.5M686.3 193.3V197.6" stroke="#8a8a8a" stroke-width="1" fill="none"/><g font-size="6" fill="#111" stroke="#111" stroke-width="0.12"><text x="373.3" y="195.4" text-anchor="end">1</text><text x="373.3" y="148.2" text-anchor="end">10</text><text x="373.3" y="101" text-anchor="end">100</text><text x="373.3" y="53.8" text-anchor="end">1000</text><text x="373.3" y="6.6" text-anchor="end">10000</text><text x="380.9" y="205.5" text-anchor="middle">0</text><text x="431.8" y="205.5" text-anchor="middle">10</text><text x="482.7" y="205.5" text-anchor="middle">20</text><text x="533.6" y="205.5" text-anchor="middle">30</text><text x="584.5" y="205.5" text-anchor="middle">40</text><text x="635.4" y="205.5" text-anchor="middle">50</text><text x="686.3" y="205.5" text-anchor="middle">60</text><text x="534.3" y="217.8" text-anchor="middle">Time (ns)</text><text transform="translate(351.9 97.2) rotate(-90)" text-anchor="middle">Counts</text></g><clipPath id="c1"><rect x="380.9" y="-2.5" width="306.9" height="195.8"/></clipPath><g clip-path="url(#c1)"><path d="M380.9 23.7h0M381.2 17.9h0M381.4 12.6h0M381.7 9.1h0M381.9 7h0M382.2 5.7h0M382.4 4.7h0M382.7 4.4h0M382.9 5.2h0M383.2 6.5h0M383.4 8.5h0M383.7 11.6h0M384 13.8h0M384.2 15.9h0M384.5 18.5h0M384.7 21.5h0M385 23.9h0M385.2 27.4h0M385.5 30.1h0M385.7 32.6h0M386 35.6h0M386.2 38.7h0M386.5 41.2h0M386.8 45.3h0M387 47.7h0M387.3 49.1h0M387.5 52.3h0M387.8 55.5h0M388 58.1h0M388.3 59.8h0M388.5 62.1h0M388.8 66.6h0M389 68.5h0M389.3 70h0M389.6 71.7h0M389.8 76.7h0M390.1 79.6h0M390.3 80.6h0M390.6 84.2h0M390.8 83.9h0M391.1 88.3h0M391.3 86.1h0M391.6 94h0M391.8 92.1h0M392.1 95.3h0M392.4 96.9h0M392.6 96.9h0M392.9 100.2h0M393.1 97.7h0M393.4 102h0M393.6 101.3h0M393.9 102h0M394.1 105.1h0M394.4 108.4h0M394.6 114.8h0M394.9 112.7h0M395.2 113.5h0M395.4 125.7h0M395.7 118.7h0M395.9 113.9h0M396.2 116.7h0M396.4 123.6h0M396.7 120.4h0M396.9 122.3h0M397.2 128.2h0M397.4 136.5h0M397.7 125h0M398 127.3h0M398.2 129.9h0M398.5 135.2h0M398.7 130.9h0M399 125.7h0M399.2 121.6h0M399.5 136.5h0M399.7 128.2h0M400 140.7h0M400.2 134.1h0M400.5 137.8h0M400.8 130.9h0M401 128.2h0M401.3 126.5h0M401.5 132.9h0M401.8 121h0M402 125.7h0M402.3 118.7h0M402.5 129h0M402.8 135.2h0M403 130.9h0M403.3 118.2h0M403.6 135.2h0M403.8 131.9h0M404.1 129h0M404.3 118.7h0M404.6 121h0M404.8 131.9h0M405.1 129h0M405.3 124.3h0M405.6 122.9h0M405.8 124.3h0M406.1 117.2h0M406.3 122.3h0M406.6 117.2h0M406.9 119.3h0M407.1 129h0M407.4 121h0M407.6 119.3h0M407.9 117.2h0M408.1 119.8h0M408.4 118.2h0M408.6 117.2h0M408.9 117.7h0M409.1 114.8h0M409.4 124.3h0M409.7 124.3h0M409.9 124.3h0M410.2 121h0M410.4 128.2h0M410.7 119.3h0M410.9 121.6h0M411.2 130.9h0M411.4 119.3h0M411.7 122.9h0M411.9 121h0M412.2 122.3h0M412.5 120.4h0M412.7 127.3h0M413 124.3h0M413.2 125.7h0M413.5 121h0M413.7 124.3h0M414 144.1h0M414.2 125h0M414.5 125h0M414.7 129h0M415 131.9h0M415.3 123.6h0M415.5 127.3h0M415.8 136.5h0M416 122.9h0M416.3 139.2h0M416.5 134.1h0M416.8 144.1h0M417 128.2h0M417.3 124.3h0M417.5 139.2h0M417.8 136.5h0M418.1 137.8h0M418.3 136.5h0M418.6 140.7h0M418.8 139.2h0M419.1 131.9h0M419.3 136.5h0M419.6 130.9h0M419.8 144.1h0M420.1 144.1h0M420.3 137.8h0M420.6 136.5h0M420.9 139.2h0M421.1 139.2h0M421.4 140.7h0M421.6 142.4h0M421.9 139.2h0M422.1 142.4h0M422.4 137.8h0M422.6 160.3h0M422.9 132.9h0M423.1 137.8h0M423.4 131.9h0M423.7 148.3h0M423.9 131.9h0M424.2 144.1h0M424.4 132.9h0M424.7 150.7h0M424.9 136.5h0M425.2 128.2h0M425.4 146.1h0M425.7 153.4h0M425.9 144.1h0M426.2 156.6h0M426.5 153.4h0M426.7 150.7h0M427 156.6h0M427.2 153.4h0M427.5 148.3h0M427.7 160.3h0M428 150.7h0M428.2 153.4h0M428.5 164.9h0M428.7 153.4h0M429 146.1h0M429.3 160.3h0M429.5 156.6h0M429.8 156.6h0M430 156.6h0M430.3 156.6h0M430.5 153.4h0M430.8 150.7h0M431 193.3h0M431.3 179.1h0M431.5 179.1h0M431.8 179.1h0M432.1 140.7h0M432.3 164.9h0M432.6 170.8h0M432.8 160.3h0M433.1 160.3h0M433.3 170.8h0M433.6 179.1h0M433.8 160.3h0M434.1 156.6h0M434.3 170.8h0M434.6 170.8h0M434.9 179.1h0M435.1 193.3h0M435.4 164.9h0M435.6 179.1h0M435.9 193.3h0M436.1 170.8h0M436.4 179.1h0M436.6 164.9h0M436.9 164.9h0M437.1 179.1h0M437.4 179.1h0M437.7 170.8h0M437.9 164.9h0M438.2 193.3h0M438.4 179.1h0M438.7 193.3h0M438.9 179.1h0M439.2 179.1h0M439.4 164.9h0M439.7 179.1h0M439.9 193.3h0M440.2 193.3h0M440.5 193.3h0M441 164.9h0M441.2 179.1h0M441.5 164.9h0M441.7 179.1h0M442 179.1h0M442.2 193.3h0M442.5 179.1h0M442.7 160.3h0M443 164.9h0M443.5 193.3h0M443.8 179.1h0M444 193.3h0M444.5 193.3h0M444.8 193.3h0M445.3 193.3h0M445.5 179.1h0M446.1 193.3h0M447.6 193.3h0M447.8 179.1h0M448.1 164.9h0M448.3 179.1h0M448.6 164.9h0M449.1 193.3h0M449.4 193.3h0M450.1 193.3h0M450.4 179.1h0M451.4 193.3h0M451.7 179.1h0M451.9 193.3h0M452.4 193.3h0M452.7 193.3h0M452.9 193.3h0M453.2 179.1h0M453.4 193.3h0M453.7 164.9h0M454.2 179.1h0M454.5 170.8h0M454.7 179.1h0M455.5 193.3h0M457.2 170.8h0M457.5 193.3h0M458 193.3h0M458.5 179.1h0M458.8 170.8h0M459 193.3h0M459.3 179.1h0M459.8 179.1h0M460 193.3h0M460.3 193.3h0M460.6 179.1h0M460.8 193.3h0M461.3 193.3h0M461.8 193.3h0M462.3 193.3h0M462.6 193.3h0M462.8 193.3h0M463.1 193.3h0M463.6 193.3h0M463.9 193.3h0M464.1 179.1h0M464.4 193.3h0M465.1 193.3h0M466.2 193.3h0M466.7 193.3h0M466.9 179.1h0M467.4 193.3h0M467.7 179.1h0M467.9 193.3h0M468.2 193.3h0M468.7 193.3h0M469 193.3h0M469.5 193.3h0M469.7 193.3h0M470.2 193.3h0M470.5 179.1h0M470.7 193.3h0M471 193.3h0M471.5 193.3h0M472 193.3h0M472.3 193.3h0M472.5 193.3h0M473.3 193.3h0M473.5 179.1h0M473.8 193.3h0M474.3 193.3h0M474.6 193.3h0M475.1 193.3h0M475.8 193.3h0M476.1 179.1h0M476.3 179.1h0M476.6 193.3h0M477.4 193.3h0M477.9 179.1h0M478.1 193.3h0M478.6 193.3h0M478.9 193.3h0M479.4 193.3h0M479.9 193.3h0M480.4 179.1h0M480.7 193.3h0M481.4 160.3h0M481.7 193.3h0M481.9 179.1h0M482.2 170.8h0M482.4 193.3h0M482.7 193.3h0M483.2 193.3h0M484.2 193.3h0M484.5 179.1h0M484.7 179.1h0M485 164.9h0M485.2 193.3h0M485.8 193.3h0M486 193.3h0M486.3 193.3h0M486.5 170.8h0M487.3 193.3h0M487.8 193.3h0M488 193.3h0M488.6 193.3h0M488.8 193.3h0M489.1 193.3h0M490.1 193.3h0M490.3 193.3h0M491.1 193.3h0M491.6 193.3h0M491.9 179.1h0M492.1 193.3h0M492.4 193.3h0M492.6 179.1h0M492.9 179.1h0M494.4 193.3h0M494.7 179.1h0M494.9 193.3h0M495.2 193.3h0M495.9 179.1h0M496.2 193.3h0M496.4 193.3h0M496.7 193.3h0M497.7 179.1h0M498.2 193.3h0M498.5 193.3h0M498.7 193.3h0M499 193.3h0M499.2 193.3h0M499.8 193.3h0M500.8 193.3h0M501.5 179.1h0M502.3 179.1h0M502.6 193.3h0M502.8 193.3h0M503.1 193.3h0M503.6 193.3h0M503.8 193.3h0M504.3 193.3h0M504.6 193.3h0M504.8 179.1h0M505.6 193.3h0M506.4 193.3h0M507.1 193.3h0M508.1 193.3h0M508.7 193.3h0M508.9 179.1h0M509.2 164.9h0M509.4 193.3h0M509.9 193.3h0M510.2 179.1h0M510.4 193.3h0M510.7 193.3h0M510.9 179.1h0M511.2 179.1h0M511.7 193.3h0M512.5 179.1h0M512.7 179.1h0M513.5 193.3h0M514.3 193.3h0M514.5 193.3h0M514.8 179.1h0M516 193.3h0M516.5 193.3h0M516.8 193.3h0M517.1 193.3h0M517.6 193.3h0M517.8 179.1h0M519.3 170.8h0M519.9 193.3h0M520.1 193.3h0M520.4 160.3h0M520.9 179.1h0M521.6 193.3h0M521.9 193.3h0M522.1 193.3h0M522.4 193.3h0M522.7 193.3h0M523.9 179.1h0M524.2 193.3h0M524.4 179.1h0M524.7 170.8h0M524.9 179.1h0M525.7 193.3h0M526.2 193.3h0M526.5 179.1h0M526.7 193.3h0M527 193.3h0M527.2 193.3h0M527.5 193.3h0M528 193.3h0M528.3 179.1h0M528.5 193.3h0M528.8 193.3h0M529.5 193.3h0M529.8 193.3h0M530 170.8h0M530.5 170.8h0M530.8 179.1h0M531.6 193.3h0M531.8 193.3h0M532.3 193.3h0M532.6 193.3h0M532.8 193.3h0M533.3 179.1h0M533.9 193.3h0M534.1 193.3h0M534.6 193.3h0M535.9 193.3h0M536.4 193.3h0M536.7 193.3h0M536.9 193.3h0M537.7 193.3h0M538.2 179.1h0M538.7 193.3h0M538.9 193.3h0M540 193.3h0M540.2 193.3h0M540.5 193.3h0M540.7 193.3h0M541 193.3h0M541.5 179.1h0M542.3 193.3h0M542.8 193.3h0M543.3 170.8h0M543.5 193.3h0M543.8 193.3h0M544 193.3h0M544.3 193.3h0M544.5 193.3h0M544.8 179.1h0M545.3 193.3h0M546.1 193.3h0M546.3 193.3h0M546.8 193.3h0M547.1 193.3h0M547.9 193.3h0M548.1 193.3h0M548.6 193.3h0M549.1 193.3h0M549.4 193.3h0M550.1 193.3h0M550.4 193.3h0M550.7 193.3h0M551.4 193.3h0M552.7 193.3h0M553.2 193.3h0M554 193.3h0M554.2 193.3h0M554.5 193.3h0M555.2 179.1h0M555.7 179.1h0M556.3 193.3h0M556.5 193.3h0M556.8 193.3h0M557.3 193.3h0M557.8 170.8h0M558.3 193.3h0M558.5 179.1h0M559 193.3h0M559.3 193.3h0M559.6 193.3h0M559.8 193.3h0M560.6 193.3h0M560.8 179.1h0M561.1 193.3h0M561.3 170.8h0M562.1 179.1h0M563.4 193.3h0M564.4 193.3h0M564.6 193.3h0M564.9 193.3h0M565.2 179.1h0M565.7 193.3h0M565.9 193.3h0M566.4 193.3h0M566.7 179.1h0M566.9 193.3h0M567.2 193.3h0M567.4 179.1h0M567.7 179.1h0M568 193.3h0M568.5 193.3h0M569 193.3h0M569.2 193.3h0M569.5 164.9h0M569.7 193.3h0M570.5 193.3h0M570.8 193.3h0M571 179.1h0M571.3 193.3h0M571.5 193.3h0M571.8 179.1h0M572.3 193.3h0M572.5 179.1h0M573 193.3h0M573.3 193.3h0M573.6 193.3h0M573.8 193.3h0M574.3 193.3h0M574.8 179.1h0M575.1 193.3h0M575.3 193.3h0M575.6 193.3h0M575.8 179.1h0M576.6 193.3h0M576.9 193.3h0M577.1 193.3h0M577.4 193.3h0M578.6 193.3h0M578.9 193.3h0M579.7 193.3h0M579.9 193.3h0M580.4 193.3h0M580.7 179.1h0M580.9 193.3h0M581.2 193.3h0M581.4 193.3h0M582 179.1h0M582.5 193.3h0M583 193.3h0M583.5 179.1h0M583.7 193.3h0M585.5 179.1h0M586 193.3h0M586.5 193.3h0M586.8 193.3h0M587.6 170.8h0M587.8 193.3h0M588.1 179.1h0M588.3 193.3h0M588.6 193.3h0M589.3 193.3h0M589.6 193.3h0M590.4 193.3h0M590.6 179.1h0M590.9 193.3h0M591.1 193.3h0M591.4 164.9h0M591.6 179.1h0M591.9 193.3h0M592.1 179.1h0M592.6 179.1h0M592.9 193.3h0M593.7 193.3h0M593.9 179.1h0M594.2 179.1h0M594.4 179.1h0M594.7 170.8h0M594.9 193.3h0M595.7 193.3h0M597.2 179.1h0M597.5 193.3h0M598.2 193.3h0M598.5 193.3h0M599 193.3h0M599.3 193.3h0M599.5 170.8h0M600 193.3h0M600.3 193.3h0M600.5 193.3h0M600.8 193.3h0M601 179.1h0M601.3 193.3h0M601.8 193.3h0M602.3 170.8h0M603.1 193.3h0M604.4 193.3h0M604.6 193.3h0M604.9 193.3h0M605.1 193.3h0M605.4 193.3h0M605.9 179.1h0M606.6 193.3h0M606.9 193.3h0M607.2 193.3h0M607.4 193.3h0M607.7 193.3h0M607.9 170.8h0M608.2 179.1h0M608.4 179.1h0M608.7 179.1h0M608.9 179.1h0M609.2 179.1h0M609.4 193.3h0M609.7 193.3h0M610.2 193.3h0M610.7 193.3h0M611.7 193.3h0M612 193.3h0M612.2 193.3h0M612.7 193.3h0M613 193.3h0M613.3 193.3h0M613.8 193.3h0M614.3 193.3h0M615.3 193.3h0M615.8 193.3h0M616.1 179.1h0M616.8 164.9h0M617.6 193.3h0M618.1 193.3h0M618.6 179.1h0M618.9 170.8h0M619.6 193.3h0M620.9 193.3h0M621.1 193.3h0M621.9 193.3h0M622.2 193.3h0M622.4 193.3h0M622.7 193.3h0M622.9 193.3h0M623.9 179.1h0M624.2 193.3h0M624.5 193.3h0M624.7 193.3h0M625 193.3h0M625.7 193.3h0M626 179.1h0M626.5 179.1h0M626.7 193.3h0M627.3 193.3h0M627.5 164.9h0M627.8 193.3h0M628 179.1h0M628.3 193.3h0M628.8 170.8h0M629 193.3h0M629.8 193.3h0M630.3 193.3h0M630.6 179.1h0M630.8 193.3h0M631.1 179.1h0M631.6 193.3h0M632.3 170.8h0M632.9 193.3h0M633.1 193.3h0M633.4 193.3h0M633.9 193.3h0M634.1 193.3h0M634.4 193.3h0M634.9 179.1h0M635.1 193.3h0M635.4 193.3h0M635.7 179.1h0M635.9 193.3h0M636.4 179.1h0M636.7 193.3h0M636.9 193.3h0M637.2 193.3h0M637.4 193.3h0M637.7 193.3h0M638.7 193.3h0M639.2 193.3h0M639.5 193.3h0M639.7 170.8h0M640 193.3h0M640.2 193.3h0M640.7 193.3h0M641.8 179.1h0M643.3 193.3h0M643.8 193.3h0M644.6 193.3h0M645.1 193.3h0M645.3 193.3h0M645.8 193.3h0M646.1 193.3h0M646.3 179.1h0M646.6 193.3h0M646.9 193.3h0M647.6 170.8h0M649.1 193.3h0M649.4 193.3h0M649.7 193.3h0M649.9 193.3h0M650.2 193.3h0M650.7 193.3h0M651.7 160.3h0M651.9 179.1h0M652.2 179.1h0M652.7 193.3h0M653.5 193.3h0M654 193.3h0M654.2 193.3h0M655 193.3h0M655.3 193.3h0M655.5 193.3h0M656 193.3h0M656.3 164.9h0M657 193.3h0M657.3 193.3h0M658.3 193.3h0M658.6 193.3h0M658.8 179.1h0M659.3 193.3h0M659.6 193.3h0M659.8 193.3h0M660.1 179.1h0M660.8 193.3h0M661.1 193.3h0M661.6 193.3h0M662.1 193.3h0M662.4 193.3h0M662.6 193.3h0M663.4 193.3h0M663.6 193.3h0M664.9 193.3h0M665.2 193.3h0M665.7 193.3h0M665.9 193.3h0M666.2 179.1h0M666.4 193.3h0M666.7 193.3h0M667 179.1h0M667.2 193.3h0M667.5 193.3h0M668.2 179.1h0M668.5 193.3h0M668.7 193.3h0M669 193.3h0M669.2 193.3h0M669.5 193.3h0M669.8 193.3h0M670.3 179.1h0M670.5 179.1h0M670.8 193.3h0M671 179.1h0M671.3 193.3h0M671.5 193.3h0M672.8 179.1h0M673.1 179.1h0M673.6 193.3h0M674.1 193.3h0M674.3 193.3h0M675.4 193.3h0M675.9 193.3h0M677.1 193.3h0M677.6 193.3h0M677.9 193.3h0M678.7 193.3h0M679.2 179.1h0M679.7 193.3h0M679.9 193.3h0M680.2 179.1h0M680.4 193.3h0M680.7 193.3h0M681.5 170.8h0M682 193.3h0M682.2 164.9h0M682.7 170.8h0M683 193.3h0M684.8 193.3h0M685 179.1h0M685.3 193.3h0M685.5 193.3h0M685.8 193.3h0M686 193.3h0M686.3 193.3h0" stroke="#000" stroke-width="2.7" stroke-linecap="round" fill="none"/><path d="M380.9 23.7h0M381.1 21.3h0M381.4 18.9h0M381.6 16.8h0M381.8 14.9h0M382 13.9h0M382.3 12.4h0M382.5 10.9h0M382.7 10.3h0M383 9.6h0M383.2 8.7h0M383.4 7.9h0M383.6 7.3h0M383.9 7h0M384.1 6.8h0M384.3 6.2h0M384.6 5.6h0M384.8 6h0M385 5.7h0M385.3 5.5h0M385.5 5.5h0M385.7 5.1h0M385.9 5.3h0M386.2 5.5h0M386.4 5.4h0M386.6 5.4h0M386.9 5.5h0M387.1 5.6h0M387.3 5.6h0M387.5 6.3h0M387.8 6.6h0M388 7h0M388.2 7.1h0M388.5 7.2h0M388.7 7.9h0M388.9 7.9h0M389.1 8.1h0M389.4 8.1h0M389.6 8.7h0M389.8 8.9h0M390.1 8.6h0M390.3 9.4h0M390.5 9.3h0M390.7 9.2h0M391 9.9h0M391.2 9.5h0M391.4 9.7h0M391.7 10.5h0M391.9 10.3h0M392.1 10.3h0M392.4 10.3h0M392.6 10.8h0M392.8 12h0M393 11.4h0M393.3 11.4h0M393.5 12h0M393.7 11.6h0M394 12.3h0M394.2 12.7h0M394.4 12h0M394.6 12.8h0M394.9 13h0M395.1 13.6h0M395.3 13.2h0M395.6 13.8h0M395.8 14h0M396 14h0M396.2 14.1h0M396.5 14h0M396.7 14.2h0M396.9 14.6h0M397.2 14.6h0M397.4 15h0M397.6 15.2h0M397.8 16h0M398.1 15.5h0M398.3 15.9h0M398.5 16.3h0M398.8 16h0M399 16.1h0M399.2 16.7h0M399.5 16.7h0M399.7 17.5h0M399.9 17.6h0M400.1 17.2h0M400.4 18h0M400.6 18h0M400.8 18.2h0M401.1 18.5h0M401.3 18.8h0M401.5 19.1h0M401.7 18.8h0M402 19.3h0M402.2 19.7h0M402.4 19.9h0M402.7 19.9h0M402.9 20.2h0M403.1 19.7h0M403.3 20.2h0M403.6 20.6h0M403.8 21h0M404 20.2h0M404.3 21h0M404.5 21.8h0M404.7 21.6h0M405 21.6h0M405.2 22.1h0M405.4 22.3h0M405.6 22.5h0M405.9 23.5h0M406.1 22.8h0M406.3 22.8h0M406.6 23.6h0M406.8 23.5h0M407 23.6h0M407.2 24.4h0M407.5 23.9h0M407.7 24.3h0M407.9 24.3h0M408.2 24.9h0M408.4 25h0M408.6 24.9h0M408.8 25h0M409.1 25.5h0M409.3 25.9h0M409.5 26h0M409.8 26.8h0M410 26.1h0M410.2 26.9h0M410.4 27.9h0M410.7 26.8h0M410.9 27.7h0M411.1 28.3h0M411.4 28.1h0M411.6 28.1h0M411.8 28.2h0M412.1 28.9h0M412.3 28.8h0M412.5 28.6h0M412.7 29.3h0M413 28.7h0M413.2 29.8h0M413.4 30.2h0M413.7 30h0M413.9 30h0M414.1 30h0M414.3 30.9h0M414.6 31.2h0M414.8 31h0M415 31h0M415.3 30.9h0M415.5 31.9h0M415.7 32.2h0M415.9 32.2h0M416.2 32.6h0M416.4 33.2h0M416.6 33.1h0M416.9 34.1h0M417.1 33.3h0M417.3 33.1h0M417.5 34.1h0M417.8 34h0M418 34.7h0M418.2 34.3h0M418.5 34.4h0M418.7 35.8h0M418.9 35.6h0M419.2 34.9h0M419.4 36.5h0M419.6 36.7h0M419.8 36.6h0M420.1 37.2h0M420.3 37.4h0M420.5 36.9h0M420.8 36.6h0M421 38.4h0M421.2 37.3h0M421.4 37.4h0M421.7 37.7h0M421.9 38.2h0M422.1 38.7h0M422.4 39.8h0M422.6 39.4h0M422.8 39.7h0M423 40.3h0M423.3 39.8h0M423.5 40.1h0M423.7 40.3h0M424 40.7h0M424.2 41.1h0M424.4 41h0M424.6 41.7h0M424.9 42.3h0M425.1 41.4h0M425.3 42.7h0M425.6 42.7h0M425.8 42.6h0M426 41.7h0M426.3 42.9h0M426.5 43.2h0M426.7 43h0M426.9 43.9h0M427.2 43.2h0M427.4 44.2h0M427.6 44.7h0M427.9 44.7h0M428.1 45.3h0M428.3 44.3h0M428.5 45.3h0M428.8 46.5h0M429 46h0M429.2 45.9h0M429.5 46.7h0M429.7 46.4h0M429.9 47.9h0M430.1 46.2h0M430.4 46.7h0M430.6 48.4h0M430.8 47h0M431.1 47.5h0M431.3 46.5h0M431.5 47.2h0M431.7 48.6h0M432 49.6h0M432.2 48.6h0M432.4 48.4h0M432.7 49.8h0M432.9 48.2h0M433.1 49.2h0M433.4 50.1h0M433.6 50.3h0M433.8 50.2h0M434 51h0M434.3 51.9h0M434.5 50.8h0M434.7 51.2h0M435 53h0M435.2 50.8h0M435.4 52h0M435.6 51.5h0M435.9 51.9h0M436.1 53.7h0M436.3 54.1h0M436.6 52.5h0M436.8 54h0M437 54h0M437.2 53.6h0M437.5 54.7h0M437.7 55.9h0M437.9 54.6h0M438.2 54.6h0M438.4 56h0M438.6 55.4h0M438.8 55.3h0M439.1 56.9h0M439.3 58.1h0M439.5 56.1h0M439.8 56.6h0M440 57.7h0M440.2 55.4h0M440.5 57.2h0M440.7 57.2h0M440.9 58.6h0M441.1 57.1h0M441.4 58h0M441.6 56.7h0M441.8 58.3h0M442.1 58.6h0M442.3 59.4h0M442.5 59.3h0M442.7 59.2h0M443 58.2h0M443.2 59.7h0M443.4 60.4h0M443.7 59.7h0M443.9 59.9h0M444.1 59.9h0M444.3 60.2h0M444.6 60.5h0M444.8 61.3h0M445 60.4h0M445.3 61.5h0M445.5 60.2h0M445.7 63h0M446 63.5h0M446.2 61h0M446.4 62.4h0M446.6 62.9h0M446.9 65.7h0M447.1 63.2h0M447.3 62.4h0M447.6 64.2h0M447.8 63.7h0M448 64.6h0M448.2 61.8h0M448.5 62.7h0M448.7 64.1h0M448.9 65.5h0M449.2 64.7h0M449.4 66.4h0M449.6 65.1h0M449.8 64.4h0M450.1 66.3h0M450.3 68.6h0M450.5 67.6h0M450.8 68.9h0M451 66.7h0M451.2 65h0M451.4 68.7h0M451.7 66.4h0M451.9 67.7h0M452.1 66.6h0M452.4 67.9h0M452.6 67h0M452.8 66.7h0M453.1 67.7h0M453.3 68.9h0M453.5 69.4h0M453.7 68.7h0M454 69.2h0M454.2 70h0M454.4 67.9h0M454.7 69.8h0M454.9 68.7h0M455.1 70.7h0M455.3 72h0M455.6 70.2h0M455.8 71.5h0M456 71.5h0M456.3 71.2h0M456.5 72h0M456.7 69.3h0M456.9 72.8h0M457.2 74.7h0M457.4 70.7h0M457.6 70.3h0M457.9 73h0M458.1 72.6h0M458.3 75.4h0M458.5 73.3h0M458.8 73.5h0M459 78.5h0M459.2 74.8h0M459.5 72.8h0M459.7 76.4h0M459.9 75.6h0M460.2 77.4h0M460.4 74.3h0M460.6 75.6h0M460.8 76.8h0M461.1 77.4h0M461.3 75.9h0M461.5 73.8h0M461.8 76.1h0M462 79.2h0M462.2 75.8h0M462.4 73.9h0M462.7 77.6h0M462.9 75.3h0M463.1 77.9h0M463.4 77.6h0M463.6 79.2h0M463.8 78.5h0M464 77.1h0M464.3 78.3h0M464.5 79.1h0M464.7 76.4h0M465 79.6h0M465.2 78.9h0M465.4 79.9h0M465.6 77.5h0M465.9 80.7h0M466.1 78.3h0M466.3 80.6h0M466.6 81.3h0M466.8 79h0M467 80.5h0M467.3 78.2h0M467.5 80.4h0M467.7 81.6h0M467.9 80.8h0M468.2 81.4h0M468.4 83.2h0M468.6 81.7h0M468.9 83.3h0M469.1 81.8h0M469.3 82.5h0M469.5 83.2h0M469.8 86.2h0M470 83.4h0M470.2 83.2h0M470.5 84.7h0M470.7 82.6h0M470.9 82.7h0M471.1 83.9h0M471.4 84.7h0M471.6 91.9h0M471.8 89.5h0M472.1 85.5h0M472.3 87.5h0M472.5 84.4h0M472.7 89.1h0M473 84.3h0M473.2 84.3h0M473.4 84.6h0M473.7 85h0M473.9 86.4h0M474.1 84.9h0M474.4 85.4h0M474.6 86.1h0M474.8 88.5h0M475 87.7h0M475.3 88.3h0M475.5 86.6h0M475.7 86.2h0M476 89.3h0M476.2 85.5h0M476.4 91.4h0M476.6 87.5h0M476.9 86.6h0M477.1 89.9h0M477.3 86.9h0M477.6 88.3h0M477.8 84.1h0M478 93.7h0M478.2 92.7h0M478.5 87.4h0M478.7 89.5h0M478.9 93.5h0M479.2 89.1h0M479.4 91.9h0M479.6 87.1h0M479.8 92.1h0M480.1 91.3h0M480.3 94.8h0M480.5 92.7h0M480.8 90h0M481 92.7h0M481.2 92h0M481.5 88.8h0M481.7 92h0M481.9 94.2h0M482.1 94.3h0M482.4 93.5h0M482.6 98.1h0M482.8 96.2h0M483.1 95.9h0M483.3 91.4h0M483.5 94.3h0M483.7 95.2h0M484 98.3h0M484.2 95.7h0M484.4 97.1h0M484.7 98.5h0M484.9 92.4h0M485.1 97.3h0M485.3 98.5h0M485.6 95.9h0M485.8 95h0M486 92h0M486.3 98.9h0M486.5 99.7h0M486.7 92.3h0M487 98.9h0M487.2 97.5h0M487.4 99.7h0M487.6 96.4h0M487.9 94.3h0M488.1 98.9h0M488.3 99.5h0M488.6 95.5h0M488.8 96.4h0M489 100.4h0M489.2 94.8h0M489.5 102h0M489.7 97.9h0M489.9 95.9h0M490.2 102.7h0M490.4 99.3h0M490.6 100.6h0M490.8 98.7h0M491.1 101.5h0M491.3 97.7h0M491.5 105.1h0M491.8 98.7h0M492 96.4h0M492.2 97.5h0M492.4 102.7h0M492.7 101.5h0M492.9 97.3h0M493.1 97.5h0M493.4 104.3h0M493.6 105.6h0M493.8 96.9h0M494.1 104.8h0M494.3 96h0M494.5 101.8h0M494.7 99.5h0M495 99.7h0M495.2 101.8h0M495.4 101.1h0M495.7 100h0M495.9 104.5h0M496.1 99.7h0M496.3 104.3h0M496.6 107.4h0M496.8 103.5h0M497 106.2h0M497.3 104.8h0M497.5 109h0M497.7 103.2h0M497.9 108h0M498.2 110.1h0M498.4 109.7h0M498.6 107.1h0M498.9 107.7h0M499.1 113.1h0M499.3 103h0M499.5 104.5h0M499.8 107.1h0M500 105.4h0M500.2 102.5h0M500.5 105.4h0M500.7 103.5h0M500.9 105.1h0M501.2 104h0M501.4 104.3h0M501.6 112.7h0M501.8 104.3h0M502.1 111.2h0M502.3 108.4h0M502.5 105.6h0M502.8 109.7h0M503 110.4h0M503.2 110.8h0M503.4 107.1h0M503.7 104.8h0M503.9 112.3h0M504.1 108.4h0M504.4 107.4h0M504.6 102.2h0M504.8 101.1h0M505 112.3h0M505.3 113.5h0M505.5 111.2h0M505.7 119.8h0M506 111.5h0M506.2 116.2h0M506.4 108.7h0M506.6 111.2h0M506.9 112.3h0M507.1 111.9h0M507.3 108.7h0M507.6 113.1h0M507.8 119.3h0M508 109.7h0M508.3 110.8h0M508.5 108.7h0M508.7 113.5h0M508.9 108.7h0M509.2 106.2h0M509.4 113.5h0M509.6 107.4h0M509.9 116.2h0M510.1 108h0M510.3 108.7h0M510.5 114.8h0M510.8 112.3h0M511 104.5h0M511.2 112.3h0M511.5 108.4h0M511.7 125.7h0M511.9 104.5h0M512.1 124.3h0M512.4 112.7h0M512.6 114.8h0M512.8 112.3h0M513.1 112.3h0M513.3 111.5h0M513.5 107.7h0M513.7 107.7h0M514 108.7h0M514.2 113.5h0M514.4 124.3h0M514.7 118.2h0M514.9 122.9h0M515.1 121h0M515.4 124.3h0M515.6 121h0M515.8 125h0M516 115.7h0M516.3 112.7h0M516.5 120.4h0M516.7 123.6h0M517 119.8h0M517.2 125h0M517.4 112.7h0M517.6 125.7h0M517.9 113.9h0M518.1 117.7h0M518.3 116.2h0M518.6 117.2h0M518.8 117.7h0M519 118.7h0M519.2 115.3h0M519.5 119.3h0M519.7 118.2h0M519.9 118.2h0M520.2 129h0M520.4 118.2h0M520.6 114.4h0M520.8 132.9h0M521.1 118.7h0M521.3 122.9h0M521.5 122.3h0M521.8 119.3h0M522 123.6h0M522.2 122.9h0M522.5 134.1h0M522.7 122.3h0M522.9 116.7h0M523.1 121.6h0M523.4 121.6h0M523.6 124.3h0M523.8 122.3h0M524.1 125h0M524.3 123.6h0M524.5 130.9h0M524.7 126.5h0M525 122.3h0M525.2 122.3h0M525.4 120.4h0M525.7 137.8h0M525.9 125h0M526.1 129h0M526.3 119.3h0M526.6 129.9h0M526.8 129h0M527 125.7h0M527.3 122.3h0M527.5 112.7h0M527.7 129.9h0M528 119.3h0M528.2 126.5h0M528.4 129.9h0M528.6 130.9h0M528.9 127.3h0M529.1 130.9h0M529.3 125.7h0M529.6 126.5h0M529.8 131.9h0M530 119.3h0M530.2 129.9h0M530.5 131.9h0M530.7 136.5h0M530.9 129.9h0M531.2 122.3h0M531.4 136.5h0M531.6 142.4h0M531.8 120.4h0M532.1 118.7h0M532.3 125.7h0M532.5 129.9h0M532.8 135.2h0M533 132.9h0M533.2 140.7h0M533.4 136.5h0M533.7 135.2h0M533.9 125h0M534.1 139.2h0M534.4 131.9h0M534.6 134.1h0M534.8 137.8h0M535.1 128.2h0M535.3 129.9h0M535.5 137.8h0M535.7 121.6h0M536 144.1h0M536.2 134.1h0M536.4 131.9h0M536.7 129.9h0M536.9 136.5h0M537.1 142.4h0M537.3 140.7h0M537.6 129h0M537.8 140.7h0M538 142.4h0M538.3 146.1h0M538.5 140.7h0M538.7 128.2h0M538.9 125.7h0M539.2 137.8h0M539.4 136.5h0M539.6 129h0M539.9 121h0M540.1 137.8h0M540.3 144.1h0M540.5 140.7h0M540.8 126.5h0M541 136.5h0M541.2 140.7h0M541.5 126.5h0M541.7 119.3h0M541.9 126.5h0M542.2 139.2h0M542.4 156.6h0M542.6 134.1h0M542.8 131.9h0M543.1 140.7h0M543.3 150.7h0M543.5 140.7h0M543.8 150.7h0M544 134.1h0M544.2 132.9h0M544.4 146.1h0M544.7 129.9h0M544.9 142.4h0M545.1 140.7h0M545.4 134.1h0M545.6 144.1h0M545.8 134.1h0M546 132.9h0M546.3 146.1h0M546.5 139.2h0M546.7 140.7h0M547 140.7h0M547.2 144.1h0M547.4 150.7h0M547.6 131.9h0M547.9 137.8h0M548.1 146.1h0M548.3 129.9h0M548.6 136.5h0M548.8 140.7h0M549 146.1h0M549.3 139.2h0M549.5 142.4h0M549.7 142.4h0M549.9 134.1h0M550.2 146.1h0M550.4 135.2h0M550.6 134.1h0M550.9 134.1h0M551.1 146.1h0M551.3 135.2h0M551.5 132.9h0M551.8 136.5h0M552 139.2h0M552.2 150.7h0M552.5 139.2h0M552.7 150.7h0M552.9 164.9h0M553.1 137.8h0M553.4 153.4h0M553.6 148.3h0M553.8 142.4h0M554.1 148.3h0M554.3 156.6h0M554.5 148.3h0M554.7 137.8h0M555 146.1h0M555.2 150.7h0M555.4 139.2h0M555.7 148.3h0M555.9 148.3h0M556.1 156.6h0M556.4 142.4h0M556.6 136.5h0M556.8 153.4h0M557 125.7h0M557.3 153.4h0M557.5 153.4h0M557.7 140.7h0M558 148.3h0M558.2 140.7h0M558.4 156.6h0M558.6 140.7h0M558.9 148.3h0M559.1 140.7h0M559.3 164.9h0M559.6 153.4h0M559.8 153.4h0M560 139.2h0M560.2 146.1h0M560.5 144.1h0M560.7 170.8h0M560.9 153.4h0M561.2 156.6h0M561.4 140.7h0M561.6 170.8h0M561.8 131.9h0M562.1 148.3h0M562.3 150.7h0M562.5 153.4h0M562.8 156.6h0M563 146.1h0M563.2 150.7h0M563.5 148.3h0M563.7 150.7h0M563.9 150.7h0M564.1 146.1h0M564.4 156.6h0M564.6 153.4h0M564.8 164.9h0M565.1 144.1h0M565.3 150.7h0M565.5 170.8h0M565.7 148.3h0M566 150.7h0M566.2 153.4h0M566.4 146.1h0M566.7 164.9h0M566.9 146.1h0M567.1 146.1h0M567.3 150.7h0M567.6 148.3h0M567.8 140.7h0M568 156.6h0M568.3 179.1h0M568.5 150.7h0M568.7 153.4h0M569 156.6h0M569.2 164.9h0M569.4 144.1h0M569.6 153.4h0M569.9 139.2h0M570.1 148.3h0M570.3 160.3h0M570.6 144.1h0M570.8 144.1h0M571 136.5h0M571.2 160.3h0M571.5 150.7h0M571.7 146.1h0M571.9 146.1h0M572.2 164.9h0M572.4 170.8h0M572.6 170.8h0M572.8 156.6h0M573.1 160.3h0M573.3 142.4h0M573.5 170.8h0M573.8 137.8h0M574 160.3h0M574.2 146.1h0M574.4 135.2h0M574.7 148.3h0M574.9 160.3h0M575.1 142.4h0M575.4 160.3h0M575.6 146.1h0M575.8 150.7h0M576.1 144.1h0M576.3 150.7h0M576.5 164.9h0M576.7 146.1h0M577 160.3h0M577.2 137.8h0M577.4 150.7h0M577.7 156.6h0M577.9 148.3h0M578.1 156.6h0M578.3 164.9h0M578.6 164.9h0M578.8 153.4h0M579 156.6h0M579.3 164.9h0M579.5 164.9h0M579.7 150.7h0M579.9 153.4h0M580.2 170.8h0M580.4 146.1h0M580.6 179.1h0M580.9 160.3h0M581.1 179.1h0M581.3 153.4h0M581.5 144.1h0M581.8 164.9h0M582 150.7h0M582.2 179.1h0M582.5 164.9h0M582.7 160.3h0M582.9 164.9h0M583.2 164.9h0M583.4 170.8h0M583.6 148.3h0M583.8 164.9h0M584.1 164.9h0M584.3 160.3h0M584.5 160.3h0M584.8 164.9h0M585 170.8h0M585.2 153.4h0M585.4 164.9h0M585.7 179.1h0M585.9 153.4h0M586.1 156.6h0M586.4 153.4h0M586.6 153.4h0M586.8 164.9h0M587 153.4h0M587.3 156.6h0M587.5 150.7h0M587.7 146.1h0M588 164.9h0M588.2 150.7h0M588.4 156.6h0M588.6 156.6h0M588.9 179.1h0M589.1 144.1h0M589.3 150.7h0M589.6 170.8h0M589.8 140.7h0M590 148.3h0M590.3 156.6h0M590.5 164.9h0M590.7 150.7h0M590.9 156.6h0M591.2 193.3h0M591.4 179.1h0M591.6 160.3h0M591.9 164.9h0M592.1 179.1h0M592.3 156.6h0M592.5 156.6h0M592.8 146.1h0M593 156.6h0M593.2 170.8h0M593.5 193.3h0M593.7 148.3h0M593.9 164.9h0M594.1 160.3h0M594.4 160.3h0M594.6 144.1h0M594.8 193.3h0M595.1 170.8h0M595.3 150.7h0M595.5 156.6h0M595.7 164.9h0M596 160.3h0M596.2 156.6h0M596.4 156.6h0M596.7 193.3h0M596.9 150.7h0M597.1 150.7h0M597.4 170.8h0M597.6 164.9h0M597.8 193.3h0M598 156.6h0M598.3 160.3h0M598.5 170.8h0M598.7 156.6h0M599 140.7h0M599.2 160.3h0M599.4 179.1h0M599.9 150.7h0M600.1 193.3h0M600.3 153.4h0M600.6 160.3h0M600.8 148.3h0M601 156.6h0M601.2 164.9h0M601.5 164.9h0M601.7 170.8h0M601.9 193.3h0M602.2 148.3h0M602.4 160.3h0M602.6 170.8h0M602.8 156.6h0M603.1 153.4h0M603.3 156.6h0M603.5 164.9h0M603.8 170.8h0M604 170.8h0M604.2 170.8h0M604.5 193.3h0M604.7 156.6h0M604.9 153.4h0M605.1 164.9h0M605.4 153.4h0M605.6 153.4h0M605.8 150.7h0M606.1 179.1h0M606.3 170.8h0M606.5 146.1h0M606.7 179.1h0M607 156.6h0M607.2 160.3h0M607.4 179.1h0M607.7 146.1h0M607.9 193.3h0M608.1 164.9h0M608.3 170.8h0M608.6 164.9h0M608.8 160.3h0M609 164.9h0M609.3 170.8h0M609.5 156.6h0M609.7 179.1h0M609.9 156.6h0M610.2 193.3h0M610.4 170.8h0M610.6 164.9h0M610.9 179.1h0M611.1 179.1h0M611.3 156.6h0M611.6 164.9h0M611.8 160.3h0M612 156.6h0M612.2 156.6h0M612.5 156.6h0M612.7 156.6h0M612.9 160.3h0M613.2 160.3h0M613.4 156.6h0M613.6 170.8h0M613.8 156.6h0M614.1 153.4h0M614.3 160.3h0M614.5 164.9h0M614.8 193.3h0M615 164.9h0M615.2 153.4h0M615.4 193.3h0M615.7 160.3h0M615.9 179.1h0M616.1 164.9h0M616.4 170.8h0M616.6 179.1h0M616.8 164.9h0M617.1 170.8h0M617.3 170.8h0M617.5 164.9h0M617.7 179.1h0M618 193.3h0M618.2 170.8h0M618.4 170.8h0M618.7 156.6h0M618.9 193.3h0M619.1 153.4h0M619.3 164.9h0M619.6 164.9h0M619.8 160.3h0M620 156.6h0M620.3 170.8h0M620.5 179.1h0M620.7 170.8h0M620.9 170.8h0M621.2 179.1h0M621.4 164.9h0M621.6 150.7h0M621.9 164.9h0M622.1 179.1h0M622.3 156.6h0M622.5 179.1h0M622.8 170.8h0M623 170.8h0M623.2 156.6h0M623.5 164.9h0M623.7 193.3h0M623.9 179.1h0M624.2 150.7h0M624.4 179.1h0M624.6 170.8h0M624.8 160.3h0M625.1 164.9h0M625.3 164.9h0M625.5 193.3h0M625.8 170.8h0M626 153.4h0M626.2 170.8h0M626.7 179.1h0M626.9 170.8h0M627.1 153.4h0M627.4 160.3h0M627.6 164.9h0M627.8 164.9h0M628 164.9h0M628.3 193.3h0M628.5 153.4h0M628.7 179.1h0M629 160.3h0M629.2 170.8h0M629.4 156.6h0M629.6 179.1h0M629.9 170.8h0M630.1 193.3h0M630.3 193.3h0M630.6 164.9h0M630.8 153.4h0M631 156.6h0M631.3 170.8h0M631.5 156.6h0M631.7 179.1h0M631.9 164.9h0M632.2 146.1h0M632.6 170.8h0M632.9 156.6h0M633.1 170.8h0M633.5 160.3h0M633.8 179.1h0M634 193.3h0M634.2 153.4h0M634.5 164.9h0M634.7 160.3h0M634.9 170.8h0M635.1 156.6h0M635.6 170.8h0M635.8 160.3h0M636.1 170.8h0M636.3 156.6h0M636.5 164.9h0M636.7 156.6h0M637 179.1h0M637.2 153.4h0M637.4 164.9h0M637.7 156.6h0M637.9 160.3h0M638.1 170.8h0M638.4 164.9h0M638.6 193.3h0M638.8 164.9h0M639 164.9h0M639.3 164.9h0M639.5 164.9h0M639.7 179.1h0M640 156.6h0M640.2 193.3h0M640.6 160.3h0M640.9 164.9h0M641.1 146.1h0M641.3 179.1h0M641.6 144.1h0M641.8 179.1h0M642 170.8h0M642.2 156.6h0M642.5 193.3h0M642.7 179.1h0M642.9 170.8h0M643.2 179.1h0M643.4 164.9h0M643.6 179.1h0M643.8 170.8h0M644.1 164.9h0M644.3 156.6h0M644.5 179.1h0M644.8 170.8h0M645 164.9h0M645.2 153.4h0M645.5 170.8h0M645.7 160.3h0M645.9 164.9h0M646.1 170.8h0M646.4 179.1h0M646.6 193.3h0M646.8 156.6h0M647.1 160.3h0M647.3 164.9h0M647.5 150.7h0M647.7 179.1h0M648 179.1h0M648.2 193.3h0M648.4 179.1h0M648.7 179.1h0M648.9 153.4h0M649.1 193.3h0M649.3 193.3h0M649.6 160.3h0M649.8 170.8h0M650 153.4h0M650.3 164.9h0M650.5 153.4h0M650.7 160.3h0M650.9 193.3h0M651.2 170.8h0M651.4 170.8h0M651.6 156.6h0M651.9 156.6h0M652.1 164.9h0M652.3 179.1h0M652.6 179.1h0M652.8 193.3h0M653 170.8h0M653.2 193.3h0M653.5 193.3h0M653.7 150.7h0M653.9 193.3h0M654.2 170.8h0M654.4 160.3h0M654.6 179.1h0M654.8 164.9h0M655.1 193.3h0M655.5 193.3h0M655.8 193.3h0M656 160.3h0M656.2 170.8h0M656.4 170.8h0M656.7 164.9h0M656.9 179.1h0M657.1 170.8h0M657.4 179.1h0M657.6 193.3h0M657.8 170.8h0M658.1 170.8h0M658.3 179.1h0M658.5 164.9h0M658.7 170.8h0M659 170.8h0M659.2 170.8h0M659.4 164.9h0M659.7 170.8h0M659.9 156.6h0M660.1 193.3h0M660.3 170.8h0M660.6 170.8h0M660.8 170.8h0M661 160.3h0M661.3 160.3h0M661.5 160.3h0M661.7 164.9h0M661.9 170.8h0M662.2 164.9h0M662.4 179.1h0M662.6 156.6h0M662.9 193.3h0M663.1 193.3h0M663.3 153.4h0M663.5 193.3h0M663.8 193.3h0M664 170.8h0M664.2 164.9h0M664.5 164.9h0M664.7 160.3h0M664.9 160.3h0M665.2 193.3h0M665.4 170.8h0M665.6 164.9h0M665.8 164.9h0M666.1 193.3h0M666.3 179.1h0M666.5 160.3h0M666.8 170.8h0M667 170.8h0M667.2 164.9h0M667.4 170.8h0M667.7 150.7h0M667.9 164.9h0M668.1 170.8h0M668.4 170.8h0M668.6 193.3h0M668.8 146.1h0M669 170.8h0M669.3 164.9h0M669.5 170.8h0M669.7 160.3h0M670 179.1h0M670.2 179.1h0M670.4 164.9h0M670.6 170.8h0M670.9 148.3h0M671.1 164.9h0M671.3 179.1h0M671.6 193.3h0M671.8 193.3h0M672 156.6h0M672.3 160.3h0M672.5 160.3h0M672.7 193.3h0M672.9 170.8h0M673.2 156.6h0M673.4 156.6h0M673.6 179.1h0M673.9 179.1h0M674.1 153.4h0M674.3 170.8h0M674.5 164.9h0M675 160.3h0M675.2 164.9h0M675.5 179.1h0M675.7 164.9h0M675.9 179.1h0M676.1 164.9h0M676.4 164.9h0M676.6 179.1h0M676.8 160.3h0M677.1 179.1h0M677.3 179.1h0M677.5 193.3h0M677.7 148.3h0M678 170.8h0M678.2 193.3h0M678.4 193.3h0M678.7 193.3h0M678.9 170.8h0M679.4 193.3h0M679.6 179.1h0M679.8 170.8h0M680 170.8h0M680.3 153.4h0M680.5 179.1h0M680.7 164.9h0M681 160.3h0M681.2 153.4h0M681.4 160.3h0M681.6 160.3h0M681.9 179.1h0M682.3 179.1h0M682.6 170.8h0M682.8 160.3h0M683 160.3h0M683.2 179.1h0M683.5 170.8h0M683.9 179.1h0M684.2 170.8h0M684.4 170.8h0M684.6 170.8h0M684.8 170.8h0M685.1 179.1h0M685.5 170.8h0M685.8 148.3h0M686 170.8h0M686.2 170.8h0" stroke="#1f6cf4" stroke-width="2.7" stroke-linecap="round" fill="none"/><path d="M380.9 16.3L381.5 12.9L382.1 10.2L382.7 8.3L383.3 6.8L384 5.9L384.6 5.5L385.2 5.1L385.8 5L386.4 5.1L387 5.6L387.6 6.2L388.2 6.9L388.8 7.6L389.5 8.2L390.1 8.7L390.7 9.2L391.3 9.8L391.9 10.3L392.5 10.9L393.1 11.4L393.7 11.9L394.3 12.5L394.9 13L395.6 13.5L396.2 14L396.8 14.6L397.4 15.1L398 15.6L398.6 16.2L399.2 16.7L399.8 17.2L400.4 17.8L401.1 18.3L401.7 18.9L402.3 19.4L402.9 19.9L403.5 20.5L404.1 21L404.7 21.6L405.3 22.2L405.9 22.7L406.6 23.3L407.2 23.9L407.8 24.4L408.4 25L409 25.6L409.6 26.2L410.2 26.8L410.8 27.4L411.4 27.9L412.1 28.5L412.7 29.1L413.3 29.7L413.9 30.4L414.5 31L415.1 31.6L415.7 32.2L416.3 32.8L416.9 33.4L417.5 34L418.2 34.6L418.8 35.3L419.4 35.9L420 36.5L420.6 37.1L421.2 37.7L421.8 38.4L422.4 39L423 39.6L423.7 40.2L424.3 40.9L424.9 41.5L425.5 42.1L426.1 42.7L426.7 43.4L427.3 44L427.9 44.6L428.5 45.2L429.2 45.9L429.8 46.5L430.4 47.1L431 47.7L431.6 48.3L432.2 49L432.8 49.6L433.4 50.2L434 50.8L434.7 51.4L435.3 52L435.9 52.6L436.5 53.2L437.1 53.8L437.7 54.4L438.3 55L438.9 55.6L439.5 56.2L440.1 56.8L440.8 57.3L441.4 57.9L442 58.5L442.6 59.1L443.2 59.6L443.8 60.2L444.4 60.8L445 61.4L445.6 61.9L446.3 62.5L446.9 63.1L447.5 63.6L448.1 64.2L448.7 64.8L449.3 65.3L449.9 65.9L450.5 66.4L451.1 67L451.8 67.6L452.4 68.1L453 68.7L453.6 69.2L454.2 69.8L454.8 70.4L455.4 70.9L456 71.5L456.6 72L457.2 72.6L457.9 73.1L458.5 73.7L459.1 74.2L459.7 74.8L460.3 75.3L460.9 75.9L461.5 76.4L462.1 77L462.7 77.5L463.4 78L464 78.6L464.6 79.1L465.2 79.6L465.8 80.2L466.4 80.7L467 81.3L467.6 81.8L468.2 82.3L468.9 82.8L469.5 83.4L470.1 83.9L470.7 84.4L471.3 84.9L471.9 85.5L472.5 86L473.1 86.5L473.7 87L474.4 87.5L475 88L475.6 88.5L476.2 89.1L476.8 89.6L477.4 90.1L478 90.6L478.6 91.1L479.2 91.6L479.8 92.1L480.5 92.6L481.1 93.1L481.7 93.6L482.3 94L482.9 94.5L483.5 95L484.1 95.5L484.7 96L485.3 96.4L486 96.9L486.6 97.4L487.2 97.9L487.8 98.3L488.4 98.8L489 99.3L489.6 99.7L490.2 100.2L490.8 100.6L491.5 101.1L492.1 101.5L492.7 102L493.3 102.5L493.9 102.9L494.5 103.4L495.1 103.8L495.7 104.3L496.3 104.7L497 105.2L497.6 105.6L498.2 106.1L498.8 106.5L499.4 106.9L500 107.4L500.6 107.8L501.2 108.3L501.8 108.7L502.4 109.2L503.1 109.6L503.7 110.1L504.3 110.5L504.9 111L505.5 111.4L506.1 111.9L506.7 112.3L507.3 112.8L507.9 113.2L508.6 113.7L509.2 114.1L509.8 114.6L510.4 115L511 115.5L511.6 115.9L512.2 116.4L512.8 116.9L513.4 117.3L514.1 117.8L514.7 118.3L515.3 118.7L515.9 119.2L516.5 119.7L517.1 120.1L517.7 120.6L518.3 121.1L518.9 121.6L519.6 122.1L520.2 122.6L520.8 123L521.4 123.5L522 124L522.6 124.5L523.2 125L523.8 125.5L524.4 126L525 126.5L525.7 127L526.3 127.5L526.9 128L527.5 128.5L528.1 129L528.7 129.5L529.3 130L529.9 130.5L530.5 131L531.2 131.5L531.8 132L532.4 132.5L533 133L533.6 133.5L534.2 134L534.8 134.5L535.4 135L536 135.4L536.7 135.9L537.3 136.4L537.9 136.9L538.5 137.3L539.1 137.8L539.7 138.3L540.3 138.7L540.9 139.2L541.5 139.7L542.2 140.1L542.8 140.6L543.4 141.1L544 141.5L544.6 142L545.2 142.5L545.8 142.9L546.4 143.4L547 143.9L547.6 144.3L548.3 144.8L548.9 145.2L549.5 145.7L550.1 146.1L550.7 146.6L551.3 147L551.9 147.5L552.5 147.9L553.1 148.3L553.8 148.8L554.4 149.2L555 149.6L555.6 150L556.2 150.4L556.8 150.8L557.4 151.2L558 151.5L558.6 151.9L559.3 152.2L559.9 152.6L560.5 152.9L561.1 153.3L561.7 153.6L562.3 153.9L562.9 154.2L563.5 154.6L564.1 154.9L564.8 155.2L565.4 155.5L566 155.8L566.6 156.1L567.2 156.4L567.8 156.7L568.4 157L569 157.3L569.6 157.6L570.2 157.8L570.9 158.1L571.5 158.4L572.1 158.7L572.7 158.9L573.3 159.2L573.9 159.5L574.5 159.7L575.1 160L575.7 160.2L576.4 160.5L577 160.7L577.6 161L578.2 161.2L578.8 161.5L579.4 161.7L580 162L580.6 162.2L581.2 162.4L581.9 162.7L582.5 162.9L583.1 163.1L583.7 163.4L584.3 163.6L584.9 163.8L585.5 164L586.1 164.3L586.7 164.5L587.4 164.7L588 164.9L588.6 165.1L589.2 165.3L589.8 165.5L590.4 165.7L591 165.9L591.6 166.2L592.2 166.4L592.8 166.6L593.5 166.8L594.1 166.9L594.7 167.1L595.3 167.3L595.9 167.5L596.5 167.7L597.1 167.9L597.7 168.1L598.3 168.3L599 168.5L599.6 168.6L600.2 168.8L600.8 169L601.4 169.2L602 169.4L602.6 169.5L603.2 169.7L603.8 169.9L604.5 170L605.1 170.2L605.7 170.4L606.3 170.5L606.9 170.7L607.5 170.9L608.1 171L608.7 171.2L609.3 171.4L609.9 171.5L610.6 171.7L611.2 171.8L611.8 172L612.4 172.1L613 172.3L613.6 172.4L614.2 172.6L614.8 172.8L615.4 172.9L616.1 173L616.7 173.2L617.3 173.3L617.9 173.5L618.5 173.6L619.1 173.7L619.7 173.9L620.3 174L620.9 174.1L621.6 174.2L622.2 174.3L622.8 174.4L623.4 174.5L624 174.6L624.6 174.8L625.2 174.9L625.8 175L626.4 175.1L627.1 175.2L627.7 175.3L628.3 175.4L628.9 175.5L629.5 175.5L630.1 175.6L630.7 175.6L631.3 175.7L631.9 175.7L632.5 175.7L633.2 175.6L633.8 175.4L634.4 175.1L635 174.8L635.6 174.5L636.2 174.1L636.8 173.7L637.4 173.4L638 173L638.7 172.8L639.3 172.6L639.9 172.5L640.5 172.5L641.1 172.6L641.7 172.6L642.3 172.6L642.9 172.7L643.5 172.8L644.2 172.9L644.8 172.9L645.4 173L646 173.1L646.6 173.2L647.2 173.3L647.8 173.4L648.4 173.5L649 173.6L649.7 173.8L650.3 173.9L650.9 174.1L651.5 174.2L652.1 174.4L652.7 174.6L653.3 174.7L653.9 174.9L654.5 175.1L655.1 175.2L655.8 175.4L656.4 175.5L657 175.6L657.6 175.7L658.2 175.7L658.8 175.8L659.4 175.8L660 175.9L660.6 175.9L661.3 176L661.9 176L662.5 176L663.1 176.1L663.7 176.1L664.3 176.2L664.9 176.2L665.5 176.3L666.1 176.3L666.8 176.4L667.4 176.5L668 176.6L668.6 176.8L669.2 176.9L669.8 177.1L670.4 177.2L671 177.3L671.6 177.4L672.3 177.5L672.9 177.6L673.5 177.6L674.1 177.5L674.7 177.4L675.3 177.2L675.9 177L676.5 176.7L677.1 176.4L677.7 176.2L678.4 175.9L679 175.7L679.6 175.6L680.2 175.5L680.8 175.4L681.4 175.3L682 175.2L682.6 175.1L683.2 175L683.9 174.9L684.5 174.8L685.1 174.8L685.7 174.7L686.3 174.7" stroke="#000" stroke-width="1.9" fill="none" stroke-linejoin="round"/></g><circle cx="630.1" cy="6" r="2.1" fill="#000"/><circle cx="630.1" cy="14" r="2.1" fill="#1f6cf4"/><path d="M623 23.6H637.9" stroke="#000" stroke-width="1.6"/><g font-size="6" fill="#111" stroke="#111" stroke-width="0.12"><text x="639.7" y="8.1">Prompt</text><text x="639.7" y="16.1">AB<tspan font-size="4" dy="1.5">3</tspan><tspan dy="-1.5">TTP-Pc</tspan></text><text x="639.7" y="25.7">Fit</text></g><g fill="#111" stroke="#111" stroke-width="0.55" font-size="11.4"><text x="0" y="20.8" transform="translate(531.6 0) scale(0.84 1)">B</text><text x="0" y="20.8" transform="translate(538.7 0) scale(0.84 1)">)</text></g>
<path d="M41.1 249.6V445" stroke="#8a8a8a" stroke-width="1" fill="none"/><path d="M36.6 440.7H343.8" stroke="#8a8a8a" stroke-width="1" fill="none"/><path d="M36.6 440.7H41.1M38.6 426.6H41.1M38.6 418.3H41.1M38.6 412.5H41.1M38.6 407.9H41.1M38.6 404.2H41.1M38.6 401.1H41.1M38.6 398.3H41.1M38.6 395.9H41.1M36.6 393.8H41.1M38.6 379.7H41.1M38.6 371.4H41.1M38.6 365.6H41.1M38.6 361H41.1M38.6 357.3H41.1M38.6 354.2H41.1M38.6 351.4H41.1M38.6 349H41.1M36.6 346.9H41.1M38.6 332.8H41.1M38.6 324.5H41.1M38.6 318.7H41.1M38.6 314.1H41.1M38.6 310.4H41.1M38.6 307.3H41.1M38.6 304.5H41.1M38.6 302.1H41.1M36.6 300H41.1M38.6 285.9H41.1M38.6 277.6H41.1M38.6 271.8H41.1M38.6 267.2H41.1M38.6 263.5H41.1M38.6 260.4H41.1M38.6 257.6H41.1M38.6 255.2H41.1M36.6 253.1H41.1M41.1 440.7V445M60 440.7V442.9M78.9 440.7V445M97.9 440.7V442.9M116.8 440.7V445M135.7 440.7V442.9M154.6 440.7V445M173.5 440.7V442.9M192.5 440.7V445M211.4 440.7V442.9M230.3 440.7V445M249.2 440.7V442.9M268.1 440.7V445M287.1 440.7V442.9M306 440.7V445M324.9 440.7V442.9M343.8 440.7V445" stroke="#8a8a8a" stroke-width="1" fill="none"/><g font-size="6" fill="#111" stroke="#111" stroke-width="0.12"><text x="33.5" y="442.8" text-anchor="end">1</text><text x="33.5" y="395.9" text-anchor="end">10</text><text x="33.5" y="349" text-anchor="end">100</text><text x="33.5" y="302.1" text-anchor="end">1000</text><text x="33.5" y="255.2" text-anchor="end">10000</text><text x="41.1" y="452.9" text-anchor="middle">0</text><text x="78.9" y="452.9" text-anchor="middle">10</text><text x="116.8" y="452.9" text-anchor="middle">20</text><text x="154.6" y="452.9" text-anchor="middle">30</text><text x="192.5" y="452.9" text-anchor="middle">40</text><text x="230.3" y="452.9" text-anchor="middle">50</text><text x="268.1" y="452.9" text-anchor="middle">60</text><text x="306" y="452.9" text-anchor="middle">70</text><text x="343.8" y="452.9" text-anchor="middle">80</text><text x="192.6" y="464.7" text-anchor="middle">Time (ns)</text><text transform="translate(12.7 345) rotate(-90)" text-anchor="middle">Counts</text></g><clipPath id="c2"><rect x="41.1" y="246.6" width="304.2" height="194.7"/></clipPath><g clip-path="url(#c2)"><path d="M41.1 264.6h0M41.3 260.6h0M41.4 256.6h0M41.6 253.7h0M41.7 253.1h0M41.9 253.1h0M42 253.5h0M42.2 253.8h0M42.3 254.5h0M42.5 255.4h0M42.6 255.9h0M42.8 256.5h0M42.9 257.6h0M43.1 258.6h0M43.2 259.8h0M43.4 262h0M43.5 263h0M43.7 264.3h0M43.8 265.8h0M44 268.1h0M44.1 270.5h0M44.3 272.5h0M44.4 275.7h0M44.6 277.3h0M44.7 279.9h0M44.9 280.9h0M45 282.9h0M45.2 285.4h0M45.3 285.8h0M45.5 289h0M45.6 290.7h0M45.8 292.7h0M45.9 294.4h0M46.1 298.1h0M46.2 299.2h0M46.4 302.7h0M46.5 304.4h0M46.7 306.3h0M46.9 308.7h0M47 312.2h0M47.2 313.1h0M47.3 315.3h0M47.5 317.8h0M47.6 320.6h0M47.8 322.4h0M47.9 325.9h0M48.1 326.7h0M48.2 331.6h0M48.4 332.8h0M48.5 333.6h0M48.7 334.2h0M48.8 337.3h0M49 339.3h0M49.1 343.2h0M49.3 343.7h0M49.4 346.1h0M49.6 348.6h0M49.7 350.2h0M49.9 348.8h0M50 350.9h0M50.2 353.3h0M50.3 355.1h0M50.5 356.6h0M50.6 360.6h0M50.8 361.8h0M50.9 358h0M51.1 366.1h0M51.2 370.1h0M51.4 365.6h0M51.5 371.4h0M51.7 364.1h0M51.8 374.3h0M52 373.6h0M52.1 373.6h0M52.3 372.1h0M52.5 375.1h0M52.6 371.4h0M52.8 379.7h0M52.9 369.5h0M53.1 376h0M53.2 379.7h0M53.4 381.8h0M53.5 380.7h0M53.7 376.8h0M53.8 376.8h0M54 381.8h0M54.1 395.9h0M54.3 385.5h0M54.4 395.9h0M54.6 407.9h0M54.7 381.8h0M54.9 380.7h0M55 395.9h0M55.2 395.9h0M55.3 380.7h0M55.5 386.9h0M55.6 398.3h0M55.8 386.9h0M55.9 393.8h0M56.1 378.7h0M56.2 401.1h0M56.4 381.8h0M56.5 381.8h0M56.7 388.5h0M56.8 390.1h0M57 380.7h0M57.1 391.9h0M57.3 379.7h0M57.4 386.9h0M57.6 381.8h0M57.7 383h0M57.9 385.5h0M58.1 378.7h0M58.2 386.9h0M58.4 375.1h0M58.5 376.8h0M58.7 386.9h0M58.8 371.4h0M59 375.1h0M59.1 379.7h0M59.3 376h0M59.4 372.1h0M59.6 379.7h0M59.7 371.4h0M59.9 380.7h0M60 376h0M60.2 370.8h0M60.3 370.1h0M60.5 371.4h0M60.6 373.6h0M60.8 371.4h0M60.9 366.6h0M61.1 375.1h0M61.2 372.8h0M61.4 367.7h0M61.5 370.1h0M61.7 367.7h0M61.8 365.6h0M62 377.7h0M62.1 371.4h0M62.3 383h0M62.4 368.9h0M62.6 368.3h0M62.7 368.3h0M62.9 374.3h0M63 369.5h0M63.2 370.8h0M63.3 364.6h0M63.5 372.8h0M63.7 368.9h0M63.8 376.8h0M64 370.1h0M64.1 376h0M64.3 367.2h0M64.4 375.1h0M64.6 377.7h0M64.7 366.6h0M64.9 372.1h0M65 381.8h0M65.2 371.4h0M65.3 373.6h0M65.5 367.7h0M65.6 372.1h0M65.8 372.1h0M65.9 372.8h0M66.1 377.7h0M66.2 378.7h0M66.4 375.1h0M66.5 378.7h0M66.7 370.8h0M66.8 376.8h0M67 378.7h0M67.1 377.7h0M67.3 375.1h0M67.4 376h0M67.6 376h0M67.7 388.5h0M67.9 372.8h0M68 376h0M68.2 383h0M68.3 391.9h0M68.5 370.8h0M68.6 370.8h0M68.8 381.8h0M69 380.7h0M69.1 377.7h0M69.3 384.2h0M69.4 391.9h0M69.6 378.7h0M69.7 386.9h0M69.9 386.9h0M70 379.7h0M70.2 380.7h0M70.3 398.3h0M70.5 390.1h0M70.6 384.2h0M70.8 388.5h0M70.9 393.8h0M71.1 390.1h0M71.2 386.9h0M71.4 388.5h0M71.5 391.9h0M71.7 404.2h0M71.8 398.3h0M72 391.9h0M72.1 398.3h0M72.3 404.2h0M72.4 391.9h0M72.6 404.2h0M72.7 404.2h0M72.9 395.9h0M73 407.9h0M73.2 401.1h0M73.3 398.3h0M73.5 407.9h0M73.6 395.9h0M73.8 407.9h0M73.9 385.5h0M74.1 398.3h0M74.2 407.9h0M74.4 412.5h0M74.6 398.3h0M74.7 404.2h0M74.9 407.9h0M75 426.6h0M75.2 412.5h0M75.3 391.9h0M75.5 393.8h0M75.6 440.7h0M75.8 418.3h0M75.9 407.9h0M76.1 412.5h0M76.2 404.2h0M76.4 401.1h0M76.5 412.5h0M76.7 407.9h0M76.8 401.1h0M77 391.9h0M77.1 412.5h0M77.3 390.1h0M77.4 407.9h0M77.6 418.3h0M77.7 418.3h0M77.9 407.9h0M78 398.3h0M78.2 407.9h0M78.3 395.9h0M78.5 412.5h0M78.6 418.3h0M78.8 401.1h0M78.9 407.9h0M79.1 418.3h0M79.2 440.7h0M79.4 407.9h0M79.5 426.6h0M79.7 401.1h0M79.8 440.7h0M80 412.5h0M80.2 407.9h0M80.3 404.2h0M80.5 412.5h0M80.6 426.6h0M80.8 404.2h0M80.9 412.5h0M81.1 412.5h0M81.2 418.3h0M81.4 440.7h0M81.5 407.9h0M81.7 418.3h0M81.8 440.7h0M82.1 426.6h0M82.3 426.6h0M82.4 412.5h0M82.6 412.5h0M82.7 412.5h0M82.9 426.6h0M83 418.3h0M83.2 412.5h0M83.3 440.7h0M83.5 418.3h0M83.6 418.3h0M83.9 404.2h0M84.1 412.5h0M84.2 440.7h0M84.4 440.7h0M84.5 418.3h0M85 426.6h0M85.1 426.6h0M85.3 440.7h0M85.4 440.7h0M85.6 418.3h0M85.8 426.6h0M85.9 440.7h0M86.1 418.3h0M86.2 426.6h0M86.4 440.7h0M86.5 440.7h0M86.7 440.7h0M86.8 426.6h0M87 426.6h0M87.1 426.6h0M87.3 418.3h0M87.6 440.7h0M87.7 440.7h0M87.9 440.7h0M88 426.6h0M88.2 440.7h0M88.3 426.6h0M88.5 440.7h0M88.6 426.6h0M88.8 426.6h0M89.1 440.7h0M89.2 418.3h0M89.4 426.6h0M89.7 426.6h0M89.8 426.6h0M90 426.6h0M90.3 426.6h0M90.6 440.7h0M90.7 426.6h0M91 440.7h0M91.2 440.7h0M91.4 440.7h0M91.5 418.3h0M91.7 426.6h0M91.8 440.7h0M92 440.7h0M92.4 418.3h0M92.6 407.9h0M92.7 440.7h0M93 412.5h0M93.2 440.7h0M93.3 440.7h0M93.5 440.7h0M93.6 440.7h0M93.8 440.7h0M93.9 426.6h0M94.2 426.6h0M94.4 440.7h0M94.5 440.7h0M95 440.7h0M95.3 440.7h0M95.4 440.7h0M95.9 412.5h0M96 426.6h0M96.2 440.7h0M96.3 426.6h0M96.5 440.7h0M96.6 440.7h0M96.8 440.7h0M97.1 440.7h0M97.3 404.2h0M97.4 418.3h0M97.6 407.9h0M97.7 440.7h0M97.9 440.7h0M98.3 418.3h0M98.6 440.7h0M98.8 440.7h0M98.9 426.6h0M99.1 440.7h0M99.2 440.7h0M99.4 440.7h0M99.5 440.7h0M99.7 440.7h0M100.1 440.7h0M100.4 440.7h0M100.7 426.6h0M101 440.7h0M101.2 426.6h0M101.3 426.6h0M101.5 440.7h0M101.9 440.7h0M102.2 426.6h0M102.4 440.7h0M102.7 440.7h0M102.9 426.6h0M103 440.7h0M103.3 426.6h0M103.5 440.7h0M103.6 426.6h0M103.9 440.7h0M104.1 426.6h0M104.2 426.6h0M104.4 440.7h0M104.5 426.6h0M104.7 440.7h0M104.8 440.7h0M105 440.7h0M105.1 426.6h0M105.3 440.7h0M105.6 426.6h0M106 426.6h0M106.5 426.6h0M106.6 426.6h0M106.9 426.6h0M107.2 426.6h0M107.4 440.7h0M107.7 440.7h0M107.8 426.6h0M108 440.7h0M108.2 440.7h0M108.3 426.6h0M108.5 426.6h0M108.6 440.7h0M108.8 426.6h0M109.1 440.7h0M109.2 440.7h0M109.5 440.7h0M109.7 440.7h0M109.8 440.7h0M110 440.7h0M110.1 426.6h0M110.4 440.7h0M111 440.7h0M111.2 426.6h0M111.3 440.7h0M111.5 440.7h0M111.8 440.7h0M111.9 426.6h0M112.7 440.7h0M112.8 440.7h0M113 440.7h0M113.1 440.7h0M113.5 440.7h0M113.6 440.7h0M113.8 440.7h0M114.2 440.7h0M114.5 440.7h0M114.8 440.7h0M115 440.7h0M115.1 440.7h0M115.3 426.6h0M115.4 440.7h0M115.6 440.7h0M115.7 426.6h0M115.9 440.7h0M116 440.7h0M116.2 440.7h0M116.3 440.7h0M116.6 426.6h0M116.8 440.7h0M116.9 440.7h0M117.2 426.6h0M117.7 440.7h0M117.8 440.7h0M118.1 440.7h0M118.4 440.7h0M118.6 407.9h0M118.9 440.7h0M119.2 426.6h0M119.4 440.7h0M119.7 426.6h0M120 440.7h0M120.1 426.6h0M120.3 440.7h0M120.4 426.6h0M120.6 440.7h0M120.7 426.6h0M120.9 440.7h0M121 440.7h0M121.3 426.6h0M121.8 426.6h0M122.1 426.6h0M122.2 440.7h0M122.4 440.7h0M122.8 440.7h0M123.1 426.6h0M123.3 440.7h0M123.4 440.7h0M123.9 440.7h0M124 440.7h0M124.2 440.7h0M124.3 440.7h0M124.5 426.6h0M124.7 440.7h0M125 426.6h0M125.1 418.3h0M125.4 440.7h0M125.6 440.7h0M125.7 440.7h0M126 440.7h0M126.2 440.7h0M126.5 440.7h0M126.6 440.7h0M126.8 440.7h0M126.9 440.7h0M127.1 426.6h0M127.4 426.6h0M127.7 440.7h0M127.8 440.7h0M128.1 440.7h0M128.3 418.3h0M128.9 426.6h0M129 440.7h0M129.2 440.7h0M129.3 426.6h0M129.5 440.7h0M129.6 440.7h0M129.8 440.7h0M129.9 440.7h0M130.3 440.7h0M130.4 440.7h0M130.6 426.6h0M130.7 440.7h0M130.9 440.7h0M131 440.7h0M131.2 440.7h0M131.3 440.7h0M131.5 440.7h0M131.6 440.7h0M131.8 440.7h0M131.9 440.7h0M132.2 440.7h0M132.5 440.7h0M133 426.6h0M133.3 440.7h0M133.6 440.7h0M133.9 440.7h0M134 412.5h0M134.2 440.7h0M134.5 440.7h0M134.6 440.7h0M134.9 440.7h0M135.2 426.6h0M135.4 440.7h0M135.5 440.7h0M135.9 440.7h0M136.2 440.7h0M136.5 440.7h0M136.6 440.7h0M136.8 426.6h0M136.9 426.6h0M137.1 440.7h0M137.2 440.7h0M137.4 440.7h0M137.5 440.7h0M137.7 440.7h0M137.8 440.7h0M138.1 440.7h0M138.3 440.7h0M138.7 440.7h0M138.9 440.7h0M139 440.7h0M139.2 440.7h0M139.3 440.7h0M139.6 426.6h0M139.8 440.7h0M139.9 426.6h0M140.1 426.6h0M140.2 440.7h0M140.5 440.7h0M140.7 426.6h0M140.8 426.6h0M141 440.7h0M141.3 440.7h0M141.5 440.7h0M141.8 440.7h0M141.9 440.7h0M142.1 440.7h0M142.4 440.7h0M142.5 426.6h0M142.7 440.7h0M143 440.7h0M143.3 440.7h0M143.4 440.7h0M143.7 440.7h0M143.9 426.6h0M144 440.7h0M144.2 440.7h0M144.3 440.7h0M144.6 440.7h0M144.9 440.7h0M145.5 426.6h0M145.7 440.7h0M145.8 426.6h0M146 440.7h0M146.1 440.7h0M146.3 440.7h0M146.4 412.5h0M146.6 426.6h0M146.7 440.7h0M146.9 440.7h0M147.1 426.6h0M147.2 426.6h0M147.5 440.7h0M147.7 426.6h0M147.8 404.2h0M148 440.7h0M148.1 426.6h0M148.4 440.7h0M148.9 440.7h0M149.2 440.7h0M149.3 440.7h0M149.5 418.3h0M149.6 440.7h0M149.8 426.6h0M149.9 440.7h0M150.1 426.6h0M150.5 440.7h0M150.7 440.7h0M150.8 426.6h0M151 426.6h0M151.1 440.7h0M151.3 426.6h0M151.7 426.6h0M151.9 440.7h0M152.2 440.7h0M152.3 440.7h0M152.5 440.7h0M152.7 440.7h0M152.8 412.5h0M153 426.6h0M153.4 440.7h0M153.6 426.6h0M153.9 440.7h0M154 440.7h0M154.2 440.7h0M154.5 426.6h0M154.6 440.7h0M154.8 440.7h0M154.9 440.7h0M155.2 426.6h0M155.4 426.6h0M155.7 440.7h0M155.8 440.7h0M156 440.7h0M156.3 440.7h0M156.4 440.7h0M156.6 440.7h0M156.7 440.7h0M157 440.7h0M157.3 440.7h0M157.5 426.6h0M157.8 440.7h0M157.9 426.6h0M158.3 426.6h0M158.6 440.7h0M158.7 440.7h0M159.2 440.7h0M159.3 440.7h0M159.5 426.6h0M159.6 426.6h0M159.8 440.7h0M159.9 426.6h0M160.1 426.6h0M160.2 440.7h0M160.7 426.6h0M160.8 440.7h0M161.1 440.7h0M161.3 440.7h0M161.6 426.6h0M161.7 426.6h0M162.2 440.7h0M162.5 426.6h0M163.1 440.7h0M163.2 440.7h0M163.4 426.6h0M163.7 426.6h0M163.9 440.7h0M164 440.7h0M164.3 440.7h0M164.8 426.6h0M165.2 440.7h0M165.4 440.7h0M165.5 440.7h0M165.7 440.7h0M165.8 426.6h0M166 440.7h0M166.1 440.7h0M166.3 440.7h0M166.6 440.7h0M166.9 440.7h0M167 440.7h0M167.2 440.7h0M167.3 440.7h0M167.6 440.7h0M167.9 440.7h0M168.1 440.7h0M168.4 426.6h0M168.5 426.6h0M168.8 440.7h0M169.2 426.6h0M169.3 440.7h0M169.6 426.6h0M169.8 426.6h0M169.9 426.6h0M170.2 440.7h0M170.4 426.6h0M170.5 440.7h0M170.7 440.7h0M170.8 440.7h0M171 440.7h0M171.1 440.7h0M171.3 440.7h0M171.6 440.7h0M171.9 440.7h0M172.2 440.7h0M172.6 440.7h0M172.8 426.6h0M172.9 440.7h0M173.1 440.7h0M173.2 440.7h0M173.5 440.7h0M173.7 426.6h0M173.8 426.6h0M174.1 426.6h0M174.8 426.6h0M174.9 440.7h0M175.1 426.6h0M175.4 426.6h0M175.5 440.7h0M175.7 426.6h0M176 440.7h0M176.3 440.7h0M176.4 426.6h0M176.6 426.6h0M176.7 440.7h0M176.9 440.7h0M177 440.7h0M177.2 426.6h0M177.3 412.5h0M177.6 418.3h0M177.8 440.7h0M177.9 440.7h0M178.1 418.3h0M178.2 440.7h0M178.4 426.6h0M178.5 440.7h0M178.8 440.7h0M179.1 440.7h0M179.6 426.6h0M179.7 440.7h0M179.9 440.7h0M180 440.7h0M180.2 440.7h0M180.4 440.7h0M180.5 440.7h0M180.7 426.6h0M181 440.7h0M181.1 440.7h0M181.4 426.6h0M181.6 418.3h0M181.7 440.7h0M181.9 440.7h0M182.2 440.7h0M182.3 440.7h0M182.6 440.7h0M182.8 426.6h0M183.1 426.6h0M183.2 426.6h0M183.4 426.6h0M183.7 440.7h0M183.8 418.3h0M184 426.6h0M184.3 440.7h0M184.4 440.7h0M184.6 440.7h0M184.7 440.7h0M185 440.7h0M185.2 426.6h0M185.3 440.7h0M185.6 440.7h0M185.8 426.6h0M186.1 440.7h0M186.6 440.7h0M186.7 426.6h0M186.9 426.6h0M187 426.6h0M187.2 440.7h0M187.3 426.6h0M187.6 440.7h0M187.8 440.7h0M187.9 440.7h0M188.1 440.7h0M188.2 426.6h0M188.4 426.6h0M188.5 426.6h0M188.7 440.7h0M188.8 440.7h0M189 440.7h0M189.1 440.7h0M189.3 440.7h0M189.4 426.6h0M190 426.6h0M190.2 440.7h0M190.3 440.7h0M190.5 440.7h0M190.6 412.5h0M190.8 426.6h0M191.1 426.6h0M191.2 440.7h0M191.4 426.6h0M191.6 440.7h0M191.7 440.7h0M191.9 440.7h0M192.2 426.6h0M192.3 440.7h0M192.5 440.7h0M192.8 426.6h0M192.9 440.7h0M193.1 440.7h0M193.2 426.6h0M193.4 426.6h0M193.5 440.7h0M193.8 440.7h0M194.1 440.7h0M194.3 440.7h0M194.6 440.7h0M194.7 440.7h0M194.9 426.6h0M195 426.6h0M195.2 440.7h0M195.3 440.7h0M195.5 440.7h0M195.9 440.7h0M196.1 440.7h0M196.2 440.7h0M196.4 440.7h0M196.5 440.7h0M196.7 426.6h0M196.8 440.7h0M197.3 426.6h0M197.5 440.7h0M197.6 426.6h0M197.9 440.7h0M198.1 426.6h0M198.2 426.6h0M198.4 426.6h0M198.5 440.7h0M198.7 440.7h0M199 426.6h0M199.1 440.7h0M199.3 426.6h0M199.7 440.7h0M199.9 426.6h0M200 426.6h0M200.2 426.6h0M200.3 440.7h0M200.6 426.6h0M200.8 426.6h0M200.9 412.5h0M201.1 440.7h0M201.2 426.6h0M201.4 440.7h0M201.7 440.7h0M201.8 440.7h0M202 440.7h0M202.1 440.7h0M202.3 440.7h0M202.6 440.7h0M202.9 440.7h0M203.1 440.7h0M203.2 426.6h0M203.4 426.6h0M203.7 426.6h0M203.8 426.6h0M204.3 440.7h0M204.4 440.7h0M204.6 426.6h0M204.7 440.7h0M204.9 440.7h0M205 412.5h0M205.2 440.7h0M205.5 440.7h0M205.6 440.7h0M205.8 440.7h0M205.9 440.7h0M206.1 426.6h0M206.4 440.7h0M206.5 426.6h0M206.7 426.6h0M206.8 440.7h0M207 440.7h0M207.1 440.7h0M207.3 426.6h0M207.4 440.7h0M207.6 440.7h0M208.1 426.6h0M208.4 440.7h0M208.7 418.3h0M208.8 440.7h0M209 440.7h0M209.3 426.6h0M209.4 426.6h0M209.6 440.7h0M209.7 440.7h0M210 440.7h0M210.2 440.7h0M210.3 440.7h0M210.5 440.7h0M210.6 440.7h0M210.8 440.7h0M210.9 440.7h0M211.2 440.7h0M211.4 440.7h0M211.7 440.7h0M212.1 426.6h0M213.2 426.6h0M213.3 440.7h0M213.5 426.6h0M213.8 440.7h0M214 440.7h0M214.1 440.7h0M214.3 440.7h0M214.4 426.6h0M214.6 440.7h0M214.7 440.7h0M214.9 440.7h0M215.5 426.6h0M215.6 440.7h0M215.9 426.6h0M216.1 426.6h0M216.4 426.6h0M216.5 440.7h0M216.7 440.7h0M217 440.7h0M217.1 412.5h0M217.3 440.7h0M217.4 440.7h0M217.6 440.7h0M217.7 440.7h0M217.9 440.7h0M218 426.6h0M218.2 404.2h0M218.3 440.7h0M218.5 440.7h0M218.6 440.7h0M218.9 440.7h0M219.1 418.3h0M219.3 440.7h0M219.4 426.6h0M219.6 426.6h0M219.7 426.6h0M219.9 426.6h0M220.2 440.7h0M220.3 440.7h0M220.5 426.6h0M220.6 440.7h0M220.8 426.6h0M221.1 440.7h0M221.2 440.7h0M221.4 440.7h0M221.5 440.7h0M221.7 440.7h0M221.8 426.6h0M222 440.7h0M222.1 440.7h0M222.3 426.6h0M222.4 440.7h0M222.7 440.7h0M223 440.7h0M223.2 440.7h0M223.3 440.7h0M223.5 426.6h0M223.6 426.6h0M224.4 440.7h0M225.2 440.7h0M225.3 440.7h0M225.5 440.7h0M225.8 440.7h0M225.9 426.6h0M226.2 440.7h0M226.5 440.7h0M226.7 440.7h0M226.8 440.7h0M227.3 440.7h0M227.4 440.7h0M228 440.7h0M228.6 426.6h0M228.8 440.7h0M228.9 440.7h0M229.1 426.6h0M229.2 426.6h0M229.4 440.7h0M229.5 440.7h0M229.8 440.7h0M230 440.7h0M230.1 440.7h0M230.3 426.6h0M230.5 440.7h0M230.6 440.7h0M230.8 440.7h0M231.1 440.7h0M231.2 440.7h0M231.5 440.7h0M231.7 440.7h0M231.8 418.3h0M232.1 426.6h0M232.6 440.7h0M232.7 440.7h0M232.9 440.7h0M233 426.6h0M233.2 440.7h0M233.3 426.6h0M233.5 440.7h0M233.6 440.7h0M233.8 426.6h0M233.9 440.7h0M234.1 426.6h0M234.2 426.6h0M234.4 440.7h0M234.5 440.7h0M235 440.7h0M235.1 440.7h0M235.4 440.7h0M235.6 440.7h0M235.7 426.6h0M235.9 440.7h0M236.7 426.6h0M236.8 440.7h0M237 426.6h0M237.1 426.6h0M237.3 440.7h0M237.4 440.7h0M237.7 426.6h0M237.9 440.7h0M238 440.7h0M238.2 426.6h0M238.3 440.7h0M238.5 418.3h0M238.9 440.7h0M239.1 440.7h0M239.2 412.5h0M239.4 440.7h0M239.5 440.7h0M239.7 440.7h0M239.8 426.6h0M240 440.7h0M240.1 426.6h0M240.3 440.7h0M240.4 426.6h0M240.6 440.7h0M240.9 440.7h0M241 440.7h0M241.2 440.7h0M241.5 440.7h0M242 440.7h0M242.1 440.7h0M242.3 440.7h0M242.4 440.7h0M242.7 440.7h0M243 440.7h0M243.2 426.6h0M243.5 426.6h0M243.6 440.7h0M243.8 440.7h0M243.9 440.7h0M244.2 440.7h0M244.4 426.6h0M244.5 440.7h0M244.7 426.6h0M244.8 440.7h0M245.3 426.6h0M245.4 440.7h0M245.6 426.6h0M245.7 440.7h0M246 426.6h0M246.2 440.7h0M246.5 440.7h0M246.6 440.7h0M246.9 440.7h0M247.1 440.7h0M247.6 440.7h0M247.7 440.7h0M247.9 426.6h0M248.2 440.7h0M248.5 440.7h0M248.6 426.6h0M248.8 426.6h0M248.9 440.7h0M249.2 440.7h0M249.4 440.7h0M249.7 440.7h0M250 426.6h0M250.1 426.6h0M250.3 426.6h0M250.6 440.7h0M250.7 440.7h0M250.9 426.6h0M251.2 440.7h0M251.3 440.7h0M251.5 407.9h0M251.6 440.7h0M251.9 426.6h0M252.1 426.6h0M252.2 440.7h0M252.4 440.7h0M252.7 440.7h0M252.9 440.7h0M253.3 440.7h0M253.6 412.5h0M253.8 440.7h0M254.4 412.5h0M254.5 440.7h0M254.7 440.7h0M254.8 412.5h0M255.3 440.7h0M255.4 426.6h0M255.7 440.7h0M255.9 418.3h0M256.5 440.7h0M256.9 440.7h0M257.1 440.7h0M257.7 440.7h0M257.8 440.7h0M258 426.6h0M258.2 426.6h0M258.3 440.7h0M258.5 440.7h0M258.6 440.7h0M258.9 440.7h0M259.2 426.6h0M259.5 440.7h0M259.8 426.6h0M260.3 440.7h0M260.4 426.6h0M260.6 440.7h0M260.7 440.7h0M261 440.7h0M261.2 440.7h0M261.3 440.7h0M261.6 426.6h0M261.8 440.7h0M261.9 426.6h0M262.1 426.6h0M262.2 426.6h0M262.4 440.7h0M262.5 426.6h0M262.7 440.7h0M262.8 440.7h0M263 440.7h0M263.1 426.6h0M263.3 407.9h0M263.8 440.7h0M263.9 440.7h0M264.2 426.6h0M264.4 440.7h0M264.5 440.7h0M264.7 440.7h0M264.8 440.7h0M265 418.3h0M265.1 426.6h0M265.3 440.7h0M265.6 440.7h0M265.7 440.7h0M265.9 440.7h0M266 440.7h0M266.2 426.6h0M266.5 440.7h0M266.6 426.6h0M266.8 440.7h0M266.9 440.7h0M267.2 440.7h0M267.4 426.6h0M267.5 426.6h0M267.8 440.7h0M268 440.7h0M268.1 440.7h0M268.4 440.7h0M268.6 440.7h0M268.9 440.7h0M269.2 440.7h0M269.4 440.7h0M269.5 440.7h0M269.8 440.7h0M270 426.6h0M270.1 426.6h0M270.3 440.7h0M270.4 440.7h0M270.6 440.7h0M270.9 426.6h0M271 440.7h0M271.2 440.7h0M271.3 426.6h0M271.5 440.7h0M271.6 426.6h0M272.2 440.7h0M272.4 440.7h0M272.5 440.7h0M272.8 440.7h0M273 426.6h0M273.1 426.6h0M273.3 412.5h0M273.4 440.7h0M273.6 440.7h0M273.7 440.7h0M274 426.6h0M274.2 440.7h0M274.6 440.7h0M275 440.7h0M275.3 440.7h0M275.7 426.6h0M275.9 440.7h0M276 426.6h0M276.3 440.7h0M276.5 426.6h0M276.8 426.6h0M276.9 426.6h0M277.1 426.6h0M277.4 426.6h0M277.7 440.7h0M278 418.3h0M278.3 426.6h0M278.4 440.7h0M278.6 440.7h0M278.7 440.7h0M278.9 440.7h0M279 440.7h0M279.2 426.6h0M279.3 426.6h0M279.5 440.7h0M279.6 426.6h0M279.8 440.7h0M280.1 440.7h0M280.6 440.7h0M280.7 440.7h0M281.3 440.7h0M281.5 426.6h0M281.6 426.6h0M281.8 426.6h0M281.9 440.7h0M282.1 440.7h0M282.4 426.6h0M282.5 440.7h0M282.7 426.6h0M282.8 426.6h0M283.1 440.7h0M283.4 426.6h0M283.6 440.7h0M283.7 440.7h0M283.9 426.6h0M284.2 440.7h0M284.3 440.7h0M284.6 440.7h0M284.8 426.6h0M284.9 440.7h0M285.4 440.7h0M285.5 426.6h0M285.7 440.7h0M285.8 426.6h0M286 440.7h0M286.2 440.7h0M286.3 426.6h0M286.5 440.7h0M286.6 440.7h0M286.8 440.7h0M286.9 440.7h0M287.1 426.6h0M287.4 440.7h0M288 426.6h0M288.3 426.6h0M288.6 440.7h0M288.9 440.7h0M289 440.7h0M289.3 440.7h0M289.8 440.7h0M289.9 426.6h0M290.1 440.7h0M290.2 426.6h0M290.5 440.7h0M290.7 426.6h0M291 426.6h0M291.1 440.7h0M291.8 440.7h0M291.9 440.7h0M292.2 426.6h0M292.4 426.6h0M292.5 426.6h0M292.7 426.6h0M292.8 426.6h0M293 440.7h0M293.1 440.7h0M293.3 440.7h0M293.4 440.7h0M293.6 440.7h0M293.7 426.6h0M293.9 426.6h0M294.2 440.7h0M294.3 426.6h0M295.1 440.7h0M295.2 426.6h0M295.4 426.6h0M295.5 440.7h0M295.7 440.7h0M295.8 426.6h0M296 440.7h0M296.3 440.7h0M296.6 407.9h0M296.7 440.7h0M296.9 440.7h0M297 426.6h0M297.2 440.7h0M297.4 426.6h0M297.7 440.7h0M297.8 440.7h0M298 440.7h0M298.1 426.6h0M298.3 440.7h0M298.4 440.7h0M298.6 440.7h0M298.7 440.7h0M299.2 426.6h0M299.3 440.7h0M299.5 440.7h0M299.6 440.7h0M299.9 440.7h0M300.1 426.6h0M300.4 440.7h0M300.5 440.7h0M300.7 426.6h0M300.8 440.7h0M301.1 440.7h0M301.4 426.6h0M301.6 440.7h0M301.7 440.7h0M301.9 426.6h0M302 440.7h0M302.3 426.6h0M302.5 407.9h0M302.7 440.7h0M302.8 440.7h0M303.4 440.7h0M303.6 440.7h0M303.9 440.7h0M304 426.6h0M304.2 440.7h0M304.5 440.7h0M304.6 440.7h0M304.8 440.7h0M304.9 440.7h0M305.1 426.6h0M305.2 426.6h0M305.4 440.7h0M305.5 440.7h0M305.7 440.7h0M305.8 440.7h0M306 426.6h0M306.1 440.7h0M306.4 426.6h0M306.6 426.6h0M306.7 426.6h0M306.9 440.7h0M307 440.7h0M307.3 426.6h0M307.5 440.7h0M307.8 440.7h0M308.1 440.7h0M308.6 440.7h0M308.9 418.3h0M309 426.6h0M309.2 440.7h0M309.3 426.6h0M309.5 440.7h0M309.6 440.7h0M309.9 440.7h0M310.1 440.7h0M310.2 440.7h0M310.7 440.7h0M310.8 426.6h0M311 426.6h0M311.3 440.7h0M311.6 418.3h0M311.7 440.7h0M311.9 440.7h0M312 440.7h0M312.2 426.6h0M312.5 426.6h0M312.6 440.7h0M312.9 440.7h0M313.1 440.7h0M313.4 440.7h0M313.5 440.7h0M313.7 426.6h0M313.9 426.6h0M314.2 440.7h0M314.3 440.7h0M314.5 440.7h0M314.6 426.6h0M314.9 418.3h0M315.1 440.7h0M315.2 426.6h0M315.4 440.7h0M315.5 426.6h0M315.7 440.7h0M315.8 440.7h0M316 440.7h0M316.1 426.6h0M316.4 440.7h0M316.6 426.6h0M316.9 426.6h0M317 426.6h0M317.2 426.6h0M317.3 440.7h0M317.5 426.6h0M317.6 440.7h0M317.9 440.7h0M318.4 426.6h0M318.5 440.7h0M318.7 426.6h0M318.8 440.7h0M319 440.7h0M319.3 440.7h0M319.5 412.5h0M319.6 440.7h0M319.9 418.3h0M320.1 440.7h0M320.4 440.7h0M320.7 440.7h0M320.8 440.7h0M321 440.7h0M321.3 426.6h0M321.9 426.6h0M322 440.7h0M322.3 426.6h0M322.5 440.7h0M322.6 440.7h0M322.8 426.6h0M323.1 440.7h0M323.2 426.6h0M323.4 407.9h0M323.5 440.7h0M323.8 440.7h0M324 440.7h0M324.1 440.7h0M324.4 440.7h0M324.6 426.6h0M324.7 440.7h0M324.9 440.7h0M325.1 440.7h0M325.2 418.3h0M325.4 440.7h0M325.5 440.7h0M325.7 426.6h0M325.8 440.7h0M326 440.7h0M326.1 440.7h0M326.3 426.6h0M326.4 440.7h0M326.6 440.7h0M326.7 418.3h0M327.3 412.5h0M327.5 426.6h0M327.9 440.7h0M328.1 440.7h0M328.2 426.6h0M328.4 426.6h0M328.8 440.7h0M329.1 426.6h0M329.3 440.7h0M329.6 440.7h0M329.7 440.7h0M329.9 426.6h0M330 440.7h0M330.2 426.6h0M330.3 440.7h0M330.7 440.7h0M331 426.6h0M331.1 412.5h0M331.3 440.7h0M331.4 426.6h0M331.6 426.6h0M331.7 426.6h0M331.9 440.7h0M332 440.7h0M332.3 426.6h0M332.5 440.7h0M332.6 440.7h0M332.8 440.7h0M332.9 440.7h0M333.2 440.7h0M333.4 426.6h0M333.7 440.7h0M333.8 440.7h0M334.1 440.7h0M334.3 426.6h0M334.6 440.7h0M334.7 440.7h0M334.9 440.7h0M335 440.7h0M335.2 426.6h0M335.5 426.6h0M335.6 440.7h0M335.8 426.6h0M335.9 426.6h0M336.3 440.7h0M336.6 440.7h0M336.9 426.6h0M337.2 440.7h0M337.3 440.7h0M337.5 426.6h0M337.6 440.7h0M337.9 440.7h0M338.2 426.6h0M338.4 418.3h0M338.5 440.7h0M338.7 440.7h0M338.8 440.7h0M339 440.7h0M339.1 426.6h0M339.3 440.7h0M339.4 426.6h0M339.6 426.6h0M339.7 426.6h0M340 440.7h0M340.2 440.7h0M340.3 440.7h0M340.5 426.6h0M340.6 440.7h0M340.8 440.7h0M340.9 426.6h0M341.1 412.5h0M341.2 440.7h0M341.4 440.7h0M341.5 426.6h0M341.7 440.7h0M342 440.7h0M342.5 440.7h0M342.9 426.6h0M343.1 440.7h0M343.2 440.7h0M343.5 440.7h0M343.8 426.6h0" stroke="#000" stroke-width="2.7" stroke-linecap="round" fill="none"/><path d="M41.1 264h0M41.3 261.7h0M41.6 260.7h0M41.8 258.9h0M42 257.7h0M42.2 257.1h0M42.5 256.3h0M42.7 255.8h0M42.9 255.2h0M43.1 254.9h0M43.4 254.3h0M43.6 254.2h0M43.8 253.8h0M44.1 254h0M44.3 254h0M44.5 253.4h0M44.7 253.6h0M45 253.2h0M45.2 254h0M45.4 253.2h0M45.6 253.9h0M45.9 253.7h0M46.1 253.5h0M46.3 253.9h0M46.5 254.4h0M46.8 254.4h0M47 254.5h0M47.2 254.1h0M47.5 254.5h0M47.7 254.6h0M47.9 254.3h0M48.1 254.5h0M48.4 254.8h0M48.6 254.6h0M48.8 255h0M49 255h0M49.3 255.2h0M49.5 255.5h0M49.7 255.5h0M50 255.6h0M50.2 255.5h0M50.4 255.9h0M50.6 255.9h0M50.9 255.9h0M51.1 256.1h0M51.3 256.3h0M51.5 256.8h0M51.8 256.7h0M52 256.8h0M52.2 257.2h0M52.5 257h0M52.7 257.1h0M52.9 257.7h0M53.1 257.8h0M53.4 257.4h0M53.6 257.9h0M53.8 258h0M54 257.8h0M54.3 258.3h0M54.5 258.3h0M54.7 258.5h0M54.9 258.8h0M55.2 258.5h0M55.4 258.7h0M55.6 259.2h0M55.9 259.1h0M56.1 259.6h0M56.3 259.3h0M56.5 259h0M56.8 259.4h0M57 259.3h0M57.2 259.9h0M57.4 259.9h0M57.7 260.2h0M57.9 260.8h0M58.1 260.5h0M58.4 260.9h0M58.6 260.7h0M58.8 261.1h0M59 260.7h0M59.3 261.2h0M59.5 261.1h0M59.7 261.3h0M59.9 261.8h0M60.2 261.7h0M60.4 261.5h0M60.6 261.9h0M60.9 261.6h0M61.1 262.2h0M61.3 262.7h0M61.5 262.2h0M61.8 262.9h0M62 262.9h0M62.2 262.9h0M62.4 262.8h0M62.7 263.2h0M62.9 262.9h0M63.1 263.3h0M63.3 263.5h0M63.6 263.7h0M63.8 263.6h0M64 263.9h0M64.3 263.9h0M64.5 264h0M64.7 264.4h0M64.9 264.6h0M65.2 264.8h0M65.4 264.8h0M65.6 265.2h0M65.8 265h0M66.1 265.5h0M66.3 265.4h0M66.5 265.9h0M66.8 265.4h0M67 265.3h0M67.2 266.2h0M67.4 266.3h0M67.7 266.3h0M67.9 266.2h0M68.1 266.6h0M68.3 266.8h0M68.6 266.5h0M68.8 267h0M69 267h0M69.3 267.6h0M69.5 267.8h0M69.7 268h0M69.9 267.4h0M70.2 267.5h0M70.4 268h0M70.6 267.7h0M70.8 268.1h0M71.1 268.5h0M71.3 268.9h0M71.5 268.5h0M71.8 268.8h0M72 268.1h0M72.2 269.1h0M72.4 268.9h0M72.7 269.3h0M72.9 269.3h0M73.1 270h0M73.3 269.1h0M73.6 269.1h0M73.8 270.1h0M74 269.9h0M74.2 270.3h0M74.5 270h0M74.7 270.1h0M74.9 270.3h0M75.2 270.1h0M75.4 271h0M75.6 270.7h0M75.8 271.4h0M76.1 271.8h0M76.3 271.1h0M76.5 271.4h0M76.7 272.6h0M77 271.5h0M77.2 271.9h0M77.4 271.8h0M77.7 272.3h0M77.9 272h0M78.1 272.9h0M78.3 272.5h0M78.6 272.3h0M78.8 272.6h0M79 273.4h0M79.2 273.5h0M79.5 273h0M79.7 272.1h0M79.9 273.6h0M80.2 273.8h0M80.4 273.6h0M80.6 274.1h0M80.8 274.2h0M81.1 273.9h0M81.3 274.3h0M81.5 274.4h0M81.7 274.7h0M82 274.1h0M82.2 275.3h0M82.4 274.3h0M82.6 275h0M82.9 275.3h0M83.1 275.7h0M83.3 275.8h0M83.6 275.3h0M83.8 275.6h0M84 275.7h0M84.2 275.8h0M84.5 276.6h0M84.7 276.4h0M84.9 276.4h0M85.1 276.7h0M85.4 276.6h0M85.6 276.6h0M85.8 277.8h0M86.1 277h0M86.3 277.6h0M86.5 277.7h0M86.7 278.2h0M87 278.1h0M87.2 277.4h0M87.4 278.3h0M87.6 278.1h0M87.9 278.4h0M88.1 278.5h0M88.3 277.6h0M88.6 278.3h0M88.8 278.5h0M89 280h0M89.2 279.4h0M89.5 279.7h0M89.7 279.9h0M89.9 279.1h0M90.1 280.3h0M90.4 280.5h0M90.6 280.2h0M90.8 280.4h0M91 281.3h0M91.3 279.8h0M91.5 280.6h0M91.7 280.9h0M92 281.1h0M92.2 281.1h0M92.4 281.6h0M92.6 282.3h0M92.9 280.9h0M93.1 280.8h0M93.3 281.9h0M93.5 282.1h0M93.8 281.8h0M94 281.8h0M94.2 281.9h0M94.5 281.2h0M94.7 281.8h0M94.9 282.8h0M95.1 283h0M95.4 283h0M95.6 283.5h0M95.8 283.1h0M96 283h0M96.3 283.5h0M96.5 284.3h0M96.7 283h0M97 283.4h0M97.2 283.4h0M97.4 283.9h0M97.6 284h0M97.9 285.3h0M98.1 285h0M98.3 284.3h0M98.5 285.1h0M98.8 284.8h0M99 285.1h0M99.2 285.4h0M99.4 285.5h0M99.7 285.9h0M99.9 285.5h0M100.1 285.2h0M100.4 286.3h0M100.6 285.6h0M100.8 286.1h0M101 287h0M101.3 286.2h0M101.5 286.6h0M101.7 286.3h0M101.9 287.3h0M102.2 285.8h0M102.4 287.5h0M102.6 287.6h0M102.9 287.8h0M103.1 287.6h0M103.3 287.8h0M103.5 288h0M103.8 287.1h0M104 288.5h0M104.2 288.6h0M104.4 288.6h0M104.7 288.7h0M104.9 287.2h0M105.1 289.3h0M105.4 288.7h0M105.6 289.7h0M105.8 288.7h0M106 290.1h0M106.3 289.5h0M106.5 289.5h0M106.7 290.5h0M106.9 290.1h0M107.2 289.6h0M107.4 288.8h0M107.6 291.4h0M107.8 288.8h0M108.1 290.3h0M108.3 290.4h0M108.5 289.8h0M108.8 291.3h0M109 291h0M109.2 292.2h0M109.4 290.2h0M109.7 291.5h0M109.9 290.2h0M110.1 291.3h0M110.3 292.2h0M110.6 291.3h0M110.8 292.2h0M111 292.2h0M111.3 292.4h0M111.5 293.1h0M111.7 292.5h0M111.9 292.3h0M112.2 293.1h0M112.4 292.8h0M112.6 292h0M112.8 293.5h0M113.1 292.3h0M113.3 292.5h0M113.5 294.3h0M113.8 295.4h0M114 294.6h0M114.2 293.1h0M114.4 294.5h0M114.7 293.7h0M114.9 295.2h0M115.1 295.2h0M115.3 295.9h0M115.6 293.9h0M115.8 294.6h0M116 296.8h0M116.3 294.6h0M116.5 294.9h0M116.7 295.7h0M116.9 296.7h0M117.2 295.7h0M117.4 295.2h0M117.6 295.6h0M117.8 297h0M118.1 298.5h0M118.3 296.6h0M118.5 296.1h0M118.7 295.9h0M119 296.6h0M119.2 298.1h0M119.4 297.3h0M119.7 298h0M119.9 298.7h0M120.1 297.7h0M120.3 297.5h0M120.6 297.6h0M120.8 297.2h0M121 298.8h0M121.2 298.5h0M121.5 297.9h0M121.7 298.8h0M121.9 299.7h0M122.2 299.1h0M122.4 299h0M122.6 298.1h0M122.8 300h0M123.1 298.6h0M123.3 299.8h0M123.5 300.2h0M123.7 299.4h0M124 299.6h0M124.2 298.3h0M124.4 300.5h0M124.7 300.3h0M124.9 300.8h0M125.1 301.7h0M125.3 301.8h0M125.6 301h0M125.8 300h0M126 303.6h0M126.2 302.7h0M126.5 301.1h0M126.7 301.9h0M126.9 301h0M127.1 301.9h0M127.4 300.9h0M127.6 304.5h0M127.8 302h0M128.1 302.9h0M128.3 303.6h0M128.5 302.5h0M128.7 302h0M129 302.2h0M129.2 303.8h0M129.4 304h0M129.6 302.9h0M129.9 303.8h0M130.1 303.5h0M130.3 304.7h0M130.6 304.9h0M130.8 304.4h0M131 303.5h0M131.2 305.3h0M131.5 304.6h0M131.7 303.8h0M131.9 304.3h0M132.1 306.1h0M132.4 304.4h0M132.6 303.5h0M132.8 306.2h0M133.1 305.6h0M133.3 305.4h0M133.5 305.5h0M133.7 306.6h0M134 305.9h0M134.2 306.1h0M134.4 307.5h0M134.6 307h0M134.9 307.5h0M135.1 307h0M135.3 307h0M135.5 306.6h0M135.8 308.4h0M136 307.3h0M136.2 306.3h0M136.5 307.9h0M136.7 305.9h0M136.9 308.1h0M137.1 309.5h0M137.4 308.3h0M137.6 308.1h0M137.8 308h0M138 307.3h0M138.3 308.1h0M138.5 309h0M138.7 309.6h0M139 307.7h0M139.2 308.2h0M139.4 309.6h0M139.6 308.1h0M139.9 309.9h0M140.1 309.5h0M140.3 310.4h0M140.5 309.9h0M140.8 311.6h0M141 310.1h0M141.2 311.4h0M141.5 312.1h0M141.7 309.5h0M141.9 311.4h0M142.1 311.6h0M142.4 310.4h0M142.6 310h0M142.8 311h0M143 312.6h0M143.3 312.7h0M143.5 313h0M143.7 312h0M143.9 310.4h0M144.2 309.9h0M144.4 310.1h0M144.6 310.9h0M144.9 312.5h0M145.1 312h0M145.3 313.4h0M145.5 313h0M145.8 313.2h0M146 312.7h0M146.2 311.3h0M146.4 312.7h0M146.7 313.2h0M146.9 313.4h0M147.1 312.3h0M147.4 312.8h0M147.6 313h0M147.8 313.2h0M148 313.4h0M148.3 314.1h0M148.5 314.7h0M148.7 313.4h0M148.9 314.9h0M149.2 312.4h0M149.4 317.5h0M149.6 315.8h0M149.9 315.9h0M150.1 317.1h0M150.3 318h0M150.5 315.8h0M150.8 316.6h0M151 315.4h0M151.2 315.9h0M151.4 314.1h0M151.7 316.4h0M151.9 314.7h0M152.1 315.7h0M152.3 317h0M152.6 318.1h0M152.8 317.5h0M153 316.5h0M153.3 317.7h0M153.5 317.7h0M153.7 316.5h0M153.9 317.1h0M154.2 318.4h0M154.4 319.4h0M154.6 320.8h0M154.8 319.1h0M155.1 318.9h0M155.3 318.9h0M155.5 318.5h0M155.8 318.5h0M156 321h0M156.2 319.3h0M156.4 317h0M156.7 318.7h0M156.9 318.9h0M157.1 319.9h0M157.3 319.4h0M157.6 319.2h0M157.8 320.1h0M158 320.9h0M158.3 321h0M158.5 320.9h0M158.7 320.2h0M158.9 319.9h0M159.2 318.5h0M159.4 321.4h0M159.6 319.5h0M159.8 321.4h0M160.1 322.2h0M160.3 318.5h0M160.5 321.3h0M160.8 322.4h0M161 322.7h0M161.2 321.6h0M161.4 324.1h0M161.7 324.4h0M161.9 321.4h0M162.1 324.5h0M162.3 323.9h0M162.6 323.5h0M162.8 321.7h0M163 324.8h0M163.2 323.1h0M163.5 324.9h0M163.7 322.8h0M163.9 324.7h0M164.2 324.1h0M164.4 323.6h0M164.6 322.4h0M164.8 324h0M165.1 322.5h0M165.3 323.7h0M165.5 325.9h0M165.7 324.7h0M166 325.2h0M166.2 323.9h0M166.4 322.1h0M166.7 325.1h0M166.9 321.6h0M167.1 326.2h0M167.3 324.9h0M167.6 324.9h0M167.8 324.5h0M168 328.1h0M168.2 324.6h0M168.5 327h0M168.7 327.5h0M168.9 326.2h0M169.2 330.7h0M169.4 326.4h0M169.6 326.4h0M169.8 326.4h0M170.1 327.8h0M170.3 326.9h0M170.5 327.9h0M170.7 326h0M171 328.4h0M171.2 331.4h0M171.4 328.2h0M171.6 327.8h0M171.9 328.9h0M172.1 328.2h0M172.3 328.3h0M172.6 332.3h0M172.8 328.9h0M173 329.2h0M173.2 329.8h0M173.5 328.6h0M173.7 328.2h0M173.9 330.3h0M174.1 331.8h0M174.4 328.9h0M174.6 329.5h0M174.8 327.1h0M175.1 330.2h0M175.3 331.9h0M175.5 330.1h0M175.7 331.5h0M176 329.4h0M176.2 332.5h0M176.4 328.3h0M176.6 331.8h0M176.9 332.2h0M177.1 333.5h0M177.3 330.2h0M177.6 336.6h0M177.8 330.1h0M178 332.8h0M178.2 332.3h0M178.5 331.2h0M178.7 336.3h0M178.9 331h0M179.1 335.4h0M179.4 333.6h0M179.6 334.5h0M179.8 333.7h0M180 333.3h0M180.3 332.5h0M180.5 331.7h0M180.7 333.8h0M181 334.9h0M181.2 336h0M181.4 334.8h0M181.6 332.3h0M181.9 335.5h0M182.1 338.4h0M182.3 335.7h0M182.5 334.2h0M182.8 332.3h0M183 338.8h0M183.2 333.9h0M183.5 334.8h0M183.7 337.2h0M183.9 334h0M184.1 335.2h0M184.4 333.8h0M184.6 334.2h0M184.8 337.1h0M185 339.3h0M185.3 336.2h0M185.5 334.6h0M185.7 336h0M186 338.8h0M186.2 336.7h0M186.4 338.4h0M186.6 335.9h0M186.9 337.2h0M187.1 338.8h0M187.3 338.9h0M187.5 336.8h0M187.8 339.3h0M188 334.7h0M188.2 338.8h0M188.4 335.6h0M188.7 333.2h0M188.9 339.3h0M189.1 341.6h0M189.4 337.1h0M189.6 339.3h0M189.8 340.2h0M190 334.8h0M190.3 343.4h0M190.5 339.3h0M190.7 338.1h0M190.9 339.9h0M191.2 339.2h0M191.4 340.8h0M191.6 340.2h0M191.9 341.2h0M192.1 338.8h0M192.3 338.6h0M192.5 344.8h0M192.8 340.9h0M193 341.2h0M193.2 339.6h0M193.4 346.1h0M193.7 339.2h0M193.9 341.6h0M194.1 340.2h0M194.4 344.4h0M194.6 339.5h0M194.8 342h0M195 340h0M195.3 340.9h0M195.5 341.9h0M195.7 343.4h0M195.9 341.6h0M196.2 340.9h0M196.4 345h0M196.6 343.7h0M196.8 343.7h0M197.1 340.8h0M197.3 340.9h0M197.5 341.7h0M197.8 345.3h0M198 343h0M198.2 343.4h0M198.4 344.1h0M198.7 343.7h0M198.9 343.4h0M199.1 341.6h0M199.3 346.7h0M199.6 346.9h0M199.8 342.4h0M200 345.9h0M200.3 345.7h0M200.5 349h0M200.7 347.9h0M200.9 344.4h0M201.2 346.9h0M201.4 345h0M201.6 347.5h0M201.8 345h0M202.1 342.4h0M202.3 345.9h0M202.5 342.8h0M202.8 350.7h0M203 347.7h0M203.2 348.2h0M203.4 350.2h0M203.7 345.7h0M203.9 348.4h0M204.1 345h0M204.3 349.5h0M204.6 345.7h0M204.8 348.4h0M205 348.4h0M205.2 348.6h0M205.5 348.2h0M205.7 354.5h0M205.9 348.8h0M206.2 349.7h0M206.4 345.5h0M206.6 348.4h0M206.8 352.5h0M207.1 348.2h0M207.3 351.2h0M207.5 348.2h0M207.7 351.4h0M208 350.9h0M208.2 350.5h0M208.4 353.6h0M208.7 350.9h0M208.9 351.7h0M209.1 350.2h0M209.3 350.9h0M209.6 350.7h0M209.8 349.5h0M210 349.3h0M210.2 356.6h0M210.5 350.2h0M210.7 353.3h0M210.9 353.3h0M211.2 355.1h0M211.4 348.6h0M211.6 348.6h0M211.8 347.5h0M212.1 352h0M212.3 351.2h0M212.5 353.6h0M212.7 350.9h0M213 354.5h0M213.2 356.3h0M213.4 354.5h0M213.7 351.4h0M213.9 352.5h0M214.1 349h0M214.3 351.4h0M214.6 352.8h0M214.8 355.7h0M215 355.1h0M215.2 346.7h0M215.5 354.5h0M215.7 358.7h0M215.9 351.7h0M216.1 352.8h0M216.4 355.4h0M216.6 353.6h0M216.8 354.2h0M217.1 353.6h0M217.3 353.9h0M217.5 355.1h0M217.7 356.6h0M218 357.3h0M218.2 359.5h0M218.4 347.7h0M218.6 356.3h0M218.9 362.3h0M219.1 353h0M219.3 353.6h0M219.6 362.3h0M219.8 359.5h0M220 352.8h0M220.2 352.2h0M220.5 354.8h0M220.7 361h0M220.9 355.1h0M221.1 350.9h0M221.4 358.7h0M221.6 359.5h0M221.8 357.3h0M222.1 364.1h0M222.3 355.4h0M222.5 355.1h0M222.7 353.6h0M223 359.5h0M223.2 355.7h0M223.4 359.8h0M223.6 361h0M223.9 356h0M224.1 357.6h0M224.3 359.8h0M224.5 358.3h0M224.8 359.5h0M225 359.8h0M225.2 356.3h0M225.5 362.7h0M225.7 357h0M225.9 358h0M226.1 355.1h0M226.4 361.8h0M226.6 359.5h0M226.8 363.2h0M227 361h0M227.3 358.7h0M227.5 366.1h0M227.7 357.6h0M228 359.5h0M228.2 359.5h0M228.4 366.6h0M228.6 364.6h0M228.9 361h0M229.1 361h0M229.3 358.7h0M229.5 367.2h0M229.8 359.8h0M230 361h0M230.2 361h0M230.5 361.4h0M230.7 361h0M230.9 365.1h0M231.1 368.3h0M231.4 359.5h0M231.6 365.1h0M231.8 362.3h0M232 363.6h0M232.3 361.8h0M232.5 357.3h0M232.7 361.8h0M232.9 365.6h0M233.2 357.3h0M233.4 363.6h0M233.6 361.4h0M233.9 363.2h0M234.1 356.6h0M234.3 361.8h0M234.5 365.1h0M234.8 361.8h0M235 361.4h0M235.2 361.4h0M235.4 361.4h0M235.7 365.6h0M235.9 371.4h0M236.1 367.7h0M236.4 356h0M236.6 361.4h0M236.8 366.1h0M237 369.5h0M237.3 362.3h0M237.5 361.4h0M237.7 365.1h0M237.9 367.2h0M238.2 363.6h0M238.4 371.4h0M238.6 363.2h0M238.9 366.6h0M239.1 364.6h0M239.3 371.4h0M239.5 368.3h0M239.8 357.6h0M240 370.1h0M240.2 367.2h0M240.4 362.7h0M240.7 364.1h0M240.9 364.1h0M241.1 360.2h0M241.3 361.4h0M241.6 368.3h0M241.8 364.1h0M242 366.1h0M242.3 372.8h0M242.5 361.4h0M242.7 369.5h0M242.9 364.1h0M243.2 372.8h0M243.4 372.8h0M243.6 370.8h0M243.8 370.1h0M244.1 365.1h0M244.3 362.3h0M244.5 368.3h0M244.8 363.6h0M245 369.5h0M245.2 369.5h0M245.4 372.1h0M245.7 370.1h0M245.9 370.1h0M246.1 372.8h0M246.3 370.1h0M246.6 371.4h0M246.8 366.1h0M247 368.3h0M247.3 368.9h0M247.5 366.1h0M247.7 360.6h0M247.9 370.8h0M248.2 366.6h0M248.4 370.8h0M248.6 366.1h0M248.8 370.8h0M249.1 367.7h0M249.3 368.9h0M249.5 370.8h0M249.7 372.8h0M250 372.1h0M250.2 368.3h0M250.4 365.1h0M250.7 366.1h0M250.9 371.4h0M251.1 369.5h0M251.3 370.1h0M251.6 372.1h0M251.8 372.1h0M252 385.5h0M252.2 368.9h0M252.5 372.8h0M252.7 372.1h0M252.9 369.5h0M253.2 364.6h0M253.4 364.6h0M253.6 368.9h0M253.8 373.6h0M254.1 370.8h0M254.3 369.5h0M254.5 375.1h0M254.7 372.8h0M255 370.8h0M255.2 375.1h0M255.4 373.6h0M255.7 372.1h0M255.9 370.8h0M256.1 368.3h0M256.3 383h0M256.6 371.4h0M256.8 374.3h0M257 377.7h0M257.2 373.6h0M257.5 383h0M257.7 373.6h0M257.9 378.7h0M258.2 379.7h0M258.4 376h0M258.6 379.7h0M258.8 372.1h0M259.1 366.6h0M259.3 370.1h0M259.5 370.8h0M259.7 373.6h0M260 380.7h0M260.2 376h0M260.4 376.8h0M260.6 376.8h0M260.9 373.6h0M261.1 380.7h0M261.3 372.8h0M261.6 372.1h0M261.8 370.8h0M262 372.1h0M262.2 373.6h0M262.5 390.1h0M262.7 374.3h0M262.9 374.3h0M263.1 378.7h0M263.4 372.1h0M263.6 372.1h0M263.8 375.1h0M264.1 372.8h0M264.3 371.4h0M264.5 372.1h0M264.7 370.1h0M265 372.1h0M265.2 381.8h0M265.4 373.6h0M265.6 373.6h0M265.9 372.8h0M266.1 374.3h0M266.3 372.1h0M266.6 374.3h0M266.8 371.4h0M267 373.6h0M267.2 384.2h0M267.5 370.1h0M267.7 384.2h0M267.9 375.1h0M268.1 375.1h0M268.4 373.6h0M268.6 373.6h0M268.8 377.7h0M269 386.9h0M269.3 374.3h0M269.5 383h0M269.7 368.9h0M270 379.7h0M270.2 374.3h0M270.4 372.1h0M270.6 372.1h0M270.9 375.1h0M271.1 390.1h0M271.3 372.1h0M271.5 376.8h0M271.8 375.1h0M272 374.3h0M272.2 376.8h0M272.5 377.7h0M272.7 378.7h0M272.9 375.1h0M273.1 386.9h0M273.4 384.2h0M273.6 377.7h0M273.8 385.5h0M274 376h0M274.3 372.8h0M274.5 378.7h0M274.7 384.2h0M275 384.2h0M275.2 375.1h0M275.4 393.8h0M275.6 385.5h0M275.9 372.8h0M276.1 372.1h0M276.3 376.8h0M276.5 383h0M276.8 390.1h0M277 373.6h0M277.2 376.8h0M277.4 377.7h0M277.7 384.2h0M277.9 380.7h0M278.1 376h0M278.4 386.9h0M278.6 380.7h0M278.8 377.7h0M279 379.7h0M279.3 380.7h0M279.5 378.7h0M279.7 381.8h0M279.9 374.3h0M280.2 383h0M280.4 376h0M280.6 377.7h0M280.9 391.9h0M281.1 395.9h0M281.3 376.8h0M281.5 379.7h0M281.8 376.8h0M282 385.5h0M282.2 386.9h0M282.4 388.5h0M282.7 378.7h0M282.9 386.9h0M283.1 391.9h0M283.4 376.8h0M283.6 383h0M283.8 380.7h0M284 386.9h0M284.3 393.8h0M284.5 381.8h0M284.7 383h0M284.9 383h0M285.2 398.3h0M285.4 388.5h0M285.6 390.1h0M285.8 378.7h0M286.1 385.5h0M286.3 383h0M286.5 388.5h0M286.8 384.2h0M287 379.7h0M287.2 388.5h0M287.4 381.8h0M287.7 391.9h0M287.9 386.9h0M288.1 398.3h0M288.3 386.9h0M288.6 383h0M288.8 393.8h0M289 383h0M289.3 388.5h0M289.5 390.1h0M289.7 391.9h0M289.9 383h0M290.2 386.9h0M290.4 395.9h0M290.6 386.9h0M290.8 393.8h0M291.1 395.9h0M291.3 401.1h0M291.5 386.9h0M291.8 395.9h0M292 386.9h0M292.2 395.9h0M292.4 385.5h0M292.7 393.8h0M292.9 390.1h0M293.1 386.9h0M293.3 386.9h0M293.6 395.9h0M293.8 390.1h0M294 390.1h0M294.2 395.9h0M294.5 386.9h0M294.7 384.2h0M294.9 391.9h0M295.2 380.7h0M295.4 391.9h0M295.6 386.9h0M295.8 391.9h0M296.1 390.1h0M296.3 393.8h0M296.5 385.5h0M296.7 390.1h0M297 386.9h0M297.2 378.7h0M297.4 393.8h0M297.7 393.8h0M297.9 381.8h0M298.1 391.9h0M298.3 385.5h0M298.6 401.1h0M298.8 385.5h0M299 384.2h0M299.2 395.9h0M299.5 395.9h0M299.7 381.8h0M299.9 391.9h0M300.2 398.3h0M300.4 404.2h0M300.6 383h0M300.8 391.9h0M301.1 393.8h0M301.3 390.1h0M301.5 412.5h0M301.7 390.1h0M302 390.1h0M302.2 404.2h0M302.4 395.9h0M302.7 380.7h0M302.9 386.9h0M303.1 393.8h0M303.3 404.2h0M303.6 386.9h0M303.8 393.8h0M304 393.8h0M304.2 391.9h0M304.5 407.9h0M304.7 391.9h0M304.9 395.9h0M305.1 386.9h0M305.4 393.8h0M305.6 388.5h0M305.8 393.8h0M306.1 391.9h0M306.3 379.7h0M306.5 385.5h0M306.7 407.9h0M307 401.1h0M307.2 391.9h0M307.4 386.9h0M307.6 393.8h0M307.9 391.9h0M308.1 384.2h0M308.3 407.9h0M308.6 388.5h0M308.8 390.1h0M309 390.1h0M309.2 384.2h0M309.5 391.9h0M309.7 391.9h0M309.9 390.1h0M310.1 391.9h0M310.4 391.9h0M310.6 398.3h0M310.8 395.9h0M311.1 388.5h0M311.3 418.3h0M311.5 388.5h0M311.7 393.8h0M312 390.1h0M312.2 386.9h0M312.4 398.3h0M312.6 395.9h0M312.9 390.1h0M313.1 390.1h0M313.3 388.5h0M313.5 384.2h0M313.8 407.9h0M314 407.9h0M314.2 395.9h0M314.5 407.9h0M314.7 381.8h0M314.9 388.5h0M315.1 401.1h0M315.4 398.3h0M315.6 379.7h0M315.8 407.9h0M316 390.1h0M316.3 395.9h0M316.5 404.2h0M316.7 407.9h0M317 395.9h0M317.2 401.1h0M317.4 407.9h0M317.6 388.5h0M317.9 395.9h0M318.1 391.9h0M318.3 404.2h0M318.5 395.9h0M318.8 401.1h0M319 398.3h0M319.2 388.5h0M319.5 404.2h0M319.7 401.1h0M319.9 391.9h0M320.1 393.8h0M320.4 395.9h0M320.6 395.9h0M320.8 395.9h0M321 388.5h0M321.3 391.9h0M321.5 418.3h0M321.7 401.1h0M321.9 418.3h0M322.2 393.8h0M322.4 395.9h0M322.6 407.9h0M322.9 395.9h0M323.1 390.1h0M323.3 398.3h0M323.5 404.2h0M323.8 401.1h0M324 401.1h0M324.2 407.9h0M324.4 404.2h0M324.7 390.1h0M324.9 398.3h0M325.1 401.1h0M325.4 391.9h0M325.6 401.1h0M325.8 404.2h0M326 395.9h0M326.3 391.9h0M326.5 401.1h0M326.7 412.5h0M326.9 395.9h0M327.2 401.1h0M327.4 395.9h0M327.6 407.9h0M327.9 404.2h0M328.1 398.3h0M328.3 398.3h0M328.5 401.1h0M328.8 404.2h0M329 412.5h0M329.2 390.1h0M329.4 391.9h0M329.7 390.1h0M329.9 393.8h0M330.1 390.1h0M330.3 393.8h0M330.6 398.3h0M330.8 401.1h0M331 426.6h0M331.3 393.8h0M331.5 407.9h0M331.7 407.9h0M331.9 401.1h0M332.2 398.3h0M332.4 391.9h0M332.6 412.5h0M332.8 404.2h0M333.1 418.3h0M333.3 401.1h0M333.5 395.9h0M333.8 407.9h0M334 401.1h0M334.2 404.2h0M334.4 398.3h0M334.7 407.9h0M334.9 391.9h0M335.1 401.1h0M335.3 407.9h0M335.6 412.5h0M335.8 404.2h0M336 393.8h0M336.3 404.2h0M336.5 398.3h0M336.7 395.9h0M336.9 426.6h0M337.2 398.3h0M337.4 391.9h0M337.6 418.3h0M337.8 412.5h0M338.1 393.8h0M338.3 390.1h0M338.5 418.3h0M338.7 412.5h0M339 388.5h0M339.2 418.3h0M339.4 407.9h0M339.7 412.5h0M339.9 412.5h0M340.1 393.8h0M340.3 395.9h0M340.6 404.2h0M340.8 393.8h0M341 407.9h0M341.2 404.2h0M341.5 401.1h0M341.7 418.3h0M341.9 398.3h0M342.2 407.9h0M342.4 407.9h0M342.6 412.5h0M342.8 401.1h0M343.1 404.2h0M343.3 412.5h0M343.5 388.5h0M343.7 401.1h0" stroke="#fa5b23" stroke-width="2.7" stroke-linecap="round" fill="none"/><path d="M41.1 264.4L41.7 259.6L42.2 257L42.8 255.4L43.4 254.5L43.9 254L44.5 253.7L45.1 253.7L45.6 253.7L46.2 253.9L46.8 254L47.3 254.3L47.9 254.5L48.5 254.8L49 255.1L49.6 255.5L50.2 255.8L50.7 256.1L51.3 256.4L51.9 256.8L52.5 257.1L53 257.4L53.6 257.8L54.2 258.1L54.7 258.5L55.3 258.8L55.9 259.1L56.4 259.5L57 259.8L57.6 260.1L58.1 260.5L58.7 260.8L59.3 261.2L59.8 261.5L60.4 261.9L61 262.2L61.5 262.5L62.1 262.9L62.7 263.2L63.2 263.6L63.8 263.9L64.4 264.2L64.9 264.6L65.5 264.9L66.1 265.3L66.6 265.6L67.2 265.9L67.8 266.3L68.3 266.6L68.9 267L69.5 267.3L70 267.6L70.6 268L71.2 268.3L71.8 268.7L72.3 269L72.9 269.3L73.5 269.7L74 270L74.6 270.4L75.2 270.7L75.7 271L76.3 271.4L76.9 271.7L77.4 272.1L78 272.4L78.6 272.7L79.1 273.1L79.7 273.4L80.3 273.8L80.8 274.1L81.4 274.4L82 274.8L82.5 275.1L83.1 275.5L83.7 275.8L84.2 276.1L84.8 276.5L85.4 276.8L85.9 277.2L86.5 277.5L87.1 277.8L87.6 278.2L88.2 278.5L88.8 278.9L89.3 279.2L89.9 279.5L90.5 279.9L91 280.2L91.6 280.6L92.2 280.9L92.8 281.2L93.3 281.6L93.9 281.9L94.5 282.3L95 282.6L95.6 282.9L96.2 283.3L96.7 283.6L97.3 284L97.9 284.3L98.4 284.6L99 285L99.6 285.3L100.1 285.7L100.7 286L101.3 286.3L101.8 286.7L102.4 287L103 287.4L103.5 287.7L104.1 288L104.7 288.4L105.2 288.7L105.8 289.1L106.4 289.4L106.9 289.7L107.5 290.1L108.1 290.4L108.6 290.8L109.2 291.1L109.8 291.4L110.3 291.8L110.9 292.1L111.5 292.5L112.1 292.8L112.6 293.1L113.2 293.5L113.8 293.8L114.3 294.2L114.9 294.5L115.5 294.8L116 295.2L116.6 295.5L117.2 295.9L117.7 296.2L118.3 296.5L118.9 296.9L119.4 297.2L120 297.6L120.6 297.9L121.1 298.2L121.7 298.6L122.3 298.9L122.8 299.3L123.4 299.6L124 299.9L124.5 300.3L125.1 300.6L125.7 300.9L126.2 301.3L126.8 301.6L127.4 302L127.9 302.3L128.5 302.6L129.1 303L129.6 303.3L130.2 303.7L130.8 304L131.3 304.3L131.9 304.7L132.5 305L133.1 305.4L133.6 305.7L134.2 306L134.8 306.4L135.3 306.7L135.9 307L136.5 307.4L137 307.7L137.6 308.1L138.2 308.4L138.7 308.7L139.3 309.1L139.9 309.4L140.4 309.8L141 310.1L141.6 310.4L142.1 310.8L142.7 311.1L143.3 311.4L143.8 311.8L144.4 312.1L145 312.5L145.5 312.8L146.1 313.1L146.7 313.5L147.2 313.8L147.8 314.2L148.4 314.5L148.9 314.8L149.5 315.2L150.1 315.5L150.6 315.8L151.2 316.2L151.8 316.5L152.3 316.9L152.9 317.2L153.5 317.5L154.1 317.9L154.6 318.2L155.2 318.5L155.8 318.9L156.3 319.2L156.9 319.6L157.5 319.9L158 320.2L158.6 320.6L159.2 320.9L159.7 321.2L160.3 321.6L160.9 321.9L161.4 322.3L162 322.6L162.6 322.9L163.1 323.3L163.7 323.6L164.3 323.9L164.8 324.3L165.4 324.6L166 324.9L166.5 325.3L167.1 325.6L167.7 326L168.2 326.3L168.8 326.6L169.4 327L169.9 327.3L170.5 327.6L171.1 328L171.6 328.3L172.2 328.6L172.8 329L173.4 329.3L173.9 329.6L174.5 330L175.1 330.3L175.6 330.6L176.2 331L176.8 331.3L177.3 331.7L177.9 332L178.5 332.3L179 332.7L179.6 333L180.2 333.3L180.7 333.7L181.3 334L181.9 334.3L182.4 334.7L183 335L183.6 335.3L184.1 335.7L184.7 336L185.3 336.3L185.8 336.7L186.4 337L187 337.3L187.5 337.7L188.1 338L188.7 338.3L189.2 338.6L189.8 339L190.4 339.3L190.9 339.6L191.5 340L192.1 340.3L192.6 340.6L193.2 341L193.8 341.3L194.4 341.6L194.9 342L195.5 342.3L196.1 342.6L196.6 343L197.2 343.3L197.8 343.6L198.3 343.9L198.9 344.3L199.5 344.6L200 344.9L200.6 345.3L201.2 345.6L201.7 345.9L202.3 346.2L202.9 346.6L203.4 346.9L204 347.2L204.6 347.6L205.1 347.9L205.7 348.2L206.3 348.5L206.8 348.9L207.4 349.2L208 349.5L208.5 349.8L209.1 350.2L209.7 350.5L210.2 350.8L210.8 351.1L211.4 351.5L211.9 351.8L212.5 352.1L213.1 352.4L213.7 352.8L214.2 353.1L214.8 353.4L215.4 353.7L215.9 354L216.5 354.4L217.1 354.7L217.6 355L218.2 355.3L218.8 355.7L219.3 356L219.9 356.3L220.5 356.6L221 356.9L221.6 357.3L222.2 357.6L222.7 357.9L223.3 358.2L223.9 358.5L224.4 358.8L225 359.2L225.6 359.5L226.1 359.8L226.7 360.1L227.3 360.4L227.8 360.7L228.4 361.1L229 361.4L229.5 361.7L230.1 362L230.7 362.3L231.2 362.6L231.8 362.9L232.4 363.3L232.9 363.6L233.5 363.9L234.1 364.2L234.7 364.5L235.2 364.8L235.8 365.1L236.4 365.4L236.9 365.7L237.5 366L238.1 366.3L238.6 366.7L239.2 367L239.8 367.3L240.3 367.6L240.9 367.9L241.5 368.2L242 368.5L242.6 368.8L243.2 369.1L243.7 369.4L244.3 369.7L244.9 370L245.4 370.3L246 370.6L246.6 370.9L247.1 371.2L247.7 371.5L248.3 371.8L248.8 372.1L249.4 372.4L250 372.7L250.5 373L251.1 373.3L251.7 373.6L252.2 373.8L252.8 374.1L253.4 374.4L253.9 374.7L254.5 375L255.1 375.3L255.7 375.6L256.2 375.9L256.8 376.2L257.4 376.4L257.9 376.7L258.5 377L259.1 377.3L259.6 377.6L260.2 377.9L260.8 378.1L261.3 378.4L261.9 378.7L262.5 379L263 379.3L263.6 379.5L264.2 379.8L264.7 380.1L265.3 380.4L265.9 380.6L266.4 380.9L267 381.2L267.6 381.5L268.1 381.7L268.7 382L269.3 382.3L269.8 382.5L270.4 382.8L271 383.1L271.5 383.3L272.1 383.6L272.7 383.8L273.2 384.1L273.8 384.4L274.4 384.6L275 384.9L275.5 385.1L276.1 385.4L276.7 385.6L277.2 385.9L277.8 386.2L278.4 386.4L278.9 386.7L279.5 386.9L280.1 387.2L280.6 387.4L281.2 387.6L281.8 387.9L282.3 388.1L282.9 388.4L283.5 388.6L284 388.9L284.6 389.1L285.2 389.3L285.7 389.6L286.3 389.8L286.9 390L287.4 390.3L288 390.5L288.6 390.7L289.1 391L289.7 391.2L290.3 391.4L290.8 391.6L291.4 391.9L292 392.1L292.5 392.3L293.1 392.5L293.7 392.7L294.2 393L294.8 393.2L295.4 393.4L296 393.6L296.5 393.8L297.1 394L297.7 394.2L298.2 394.4L298.8 394.7L299.4 394.9L299.9 395.1L300.5 395.3L301.1 395.5L301.6 395.7L302.2 395.9L302.8 396.1L303.3 396.3L303.9 396.5L304.5 396.6L305 396.8L305.6 397L306.2 397.2L306.7 397.4L307.3 397.6L307.9 397.8L308.4 398L309 398.1L309.6 398.3L310.1 398.5L310.7 398.7L311.3 398.9L311.8 399L312.4 399.2L313 399.4L313.5 399.5L314.1 399.7L314.7 399.9L315.3 400L315.8 400.2L316.4 400.4L317 400.5L317.5 400.7L318.1 400.8L318.7 401L319.2 401.2L319.8 401.3L320.4 401.5L320.9 401.6L321.5 401.8L322.1 401.9L322.6 402.1L323.2 402.2L323.8 402.4L324.3 402.5L324.9 402.6L325.5 402.8L326 402.9L326.6 403.1L327.2 403.2L327.7 403.3L328.3 403.5L328.9 403.6L329.4 403.7L330 403.9L330.6 404L331.1 404.1L331.7 404.2L332.3 404.4L332.8 404.5L333.4 404.6L334 404.7L334.5 404.9L335.1 405L335.7 405.1L336.3 405.2L336.8 405.3L337.4 405.4L338 405.5L338.5 405.7L339.1 405.8L339.7 405.9L340.2 406L340.8 406.1L341.4 406.2L341.9 406.3L342.5 406.4L343.1 406.5L343.6 406.6" stroke="#000" stroke-width="1.9" fill="none" stroke-linejoin="round"/></g><circle cx="280.6" cy="252.8" r="2.1" fill="#000"/><circle cx="280.6" cy="260.6" r="2.1" fill="#fa5b23"/><path d="M273.5 269.4H288.6" stroke="#000" stroke-width="1.6"/><g font-size="6" fill="#111" stroke="#111" stroke-width="0.12"><text x="290.1" y="254.9">Prompt</text><text x="290.1" y="262.7">AB<tspan font-size="4" dy="1.5">3</tspan><tspan dy="-1.5">TTP-Por-C4</tspan></text><text x="290.1" y="271.5">Fit</text></g><g fill="#111" stroke="#111" stroke-width="0.55" font-size="11.2"><text x="0" y="260.9" transform="translate(173 0) scale(0.8 1)">C</text><text x="0" y="260.9" transform="translate(180.7 0) scale(0.8 1)">)</text></g>
<path d="M385 245.8V443.7" stroke="#8a8a8a" stroke-width="1" fill="none"/><path d="M380.5 439.4H691.4" stroke="#8a8a8a" stroke-width="1" fill="none"/><path d="M380.5 439.4H385M382.5 425.1H385M382.5 416.8H385M382.5 410.9H385M382.5 406.3H385M382.5 402.5H385M382.5 399.3H385M382.5 396.6H385M382.5 394.2H385M380.5 392H385M382.5 377.7H385M382.5 369.4H385M382.5 363.5H385M382.5 358.9H385M382.5 355.1H385M382.5 351.9H385M382.5 349.2H385M382.5 346.8H385M380.5 344.6H385M382.5 330.3H385M382.5 322H385M382.5 316.1H385M382.5 311.5H385M382.5 307.7H385M382.5 304.5H385M382.5 301.8H385M382.5 299.4H385M380.5 297.2H385M382.5 282.9H385M382.5 274.6H385M382.5 268.7H385M382.5 264.1H385M382.5 260.3H385M382.5 257.1H385M382.5 254.4H385M382.5 252H385M380.5 249.8H385M385 439.4V443.7M404.1 439.4V441.6M423.3 439.4V443.7M442.4 439.4V441.6M461.6 439.4V443.7M480.8 439.4V441.6M499.9 439.4V443.7M519 439.4V441.6M538.2 439.4V443.7M557.4 439.4V441.6M576.5 439.4V443.7M595.6 439.4V441.6M614.8 439.4V443.7M634 439.4V441.6M653.1 439.4V443.7M672.2 439.4V441.6M691.4 439.4V443.7" stroke="#8a8a8a" stroke-width="1" fill="none"/><g font-size="6" fill="#111" stroke="#111" stroke-width="0.12"><text x="377.4" y="441.5" text-anchor="end">1</text><text x="377.4" y="394.1" text-anchor="end">10</text><text x="377.4" y="346.7" text-anchor="end">100</text><text x="377.4" y="299.3" text-anchor="end">1000</text><text x="377.4" y="251.9" text-anchor="end">10000</text><text x="385" y="451.6" text-anchor="middle">0</text><text x="423.3" y="451.6" text-anchor="middle">10</text><text x="461.6" y="451.6" text-anchor="middle">20</text><text x="499.9" y="451.6" text-anchor="middle">30</text><text x="538.2" y="451.6" text-anchor="middle">40</text><text x="576.5" y="451.6" text-anchor="middle">50</text><text x="614.8" y="451.6" text-anchor="middle">60</text><text x="653.1" y="451.6" text-anchor="middle">70</text><text x="691.4" y="451.6" text-anchor="middle">80</text><text x="538.4" y="464.1" text-anchor="middle">Time (ns)</text><text transform="translate(355.6 342.5) rotate(-90)" text-anchor="middle">Counts</text></g><clipPath id="c3"><rect x="385" y="242.8" width="307.9" height="197.2"/></clipPath><g clip-path="url(#c3)"><path d="M385 261.4h0M385.2 257.4h0M385.3 253.4h0M385.5 250.4h0M385.6 249.8h0M385.8 249.8h0M385.9 250.2h0M386.1 250.5h0M386.2 251.2h0M386.4 252.1h0M386.5 252.6h0M386.7 253.2h0M386.8 254.3h0M387 255.3h0M387.1 256.5h0M387.3 258.8h0M387.5 259.8h0M387.6 261.1h0M387.8 262.6h0M387.9 264.9h0M388.1 267.4h0M388.2 269.4h0M388.4 272.6h0M388.5 274.3h0M388.7 276.9h0M388.8 277.9h0M389 279.9h0M389.1 282.4h0M389.3 282.9h0M389.4 286.1h0M389.6 287.8h0M389.7 289.9h0M389.9 291.5h0M390.1 295.2h0M390.2 296.4h0M390.4 299.9h0M390.5 301.6h0M390.7 303.5h0M390.8 306h0M391 309.5h0M391.1 310.4h0M391.3 312.7h0M391.4 315.2h0M391.6 318.1h0M391.7 319.8h0M391.9 323.4h0M392 324.2h0M392.2 329.1h0M392.4 330.3h0M392.5 331.2h0M392.7 331.7h0M392.8 334.9h0M393 337h0M393.1 340.8h0M393.3 341.4h0M393.4 343.8h0M393.6 346.3h0M393.7 347.9h0M393.9 346.5h0M394 348.7h0M394.2 351.1h0M394.3 352.8h0M394.5 354.4h0M394.7 358.5h0M394.8 359.7h0M395 355.8h0M395.1 364h0M395.3 368.1h0M395.4 363.5h0M395.6 369.4h0M395.7 362h0M395.9 372.3h0M396 371.6h0M396.2 371.6h0M396.3 370.1h0M396.5 373.1h0M396.6 369.4h0M396.8 377.7h0M396.9 367.4h0M397.1 374h0M397.3 377.7h0M397.4 379.9h0M397.6 378.8h0M397.7 374.9h0M397.9 374.9h0M398 379.9h0M398.2 394.2h0M398.3 383.7h0M398.5 394.2h0M398.6 406.3h0M398.8 379.9h0M398.9 378.8h0M399.1 394.2h0M399.2 394.2h0M399.4 378.8h0M399.6 385.1h0M399.7 396.6h0M399.9 385.1h0M400 392h0M400.2 376.7h0M400.3 399.3h0M400.5 379.9h0M400.6 379.9h0M400.8 386.6h0M400.9 388.2h0M401.1 378.8h0M401.2 390h0M401.4 377.7h0M401.5 385.1h0M401.7 379.9h0M401.9 381.1h0M402 383.7h0M402.2 376.7h0M402.3 385.1h0M402.5 373.1h0M402.6 374.9h0M402.8 385.1h0M402.9 369.4h0M403.1 373.1h0M403.2 377.7h0M403.4 374h0M403.5 370.1h0M403.7 377.7h0M403.8 369.4h0M404 378.8h0M404.1 374h0M404.3 368.7h0M404.5 368.1h0M404.6 369.4h0M404.8 371.6h0M404.9 369.4h0M405.1 364.5h0M405.2 373.1h0M405.4 370.8h0M405.5 365.6h0M405.7 368.1h0M405.8 365.6h0M406 363.5h0M406.1 375.8h0M406.3 369.4h0M406.4 381.1h0M406.6 366.8h0M406.8 366.2h0M406.9 366.2h0M407.1 372.3h0M407.2 367.4h0M407.4 368.7h0M407.5 362.5h0M407.7 370.8h0M407.8 366.8h0M408 374.9h0M408.1 368.1h0M408.3 374h0M408.4 365.1h0M408.6 373.1h0M408.7 375.8h0M408.9 364.5h0M409.1 370.1h0M409.2 379.9h0M409.4 369.4h0M409.5 371.6h0M409.7 365.6h0M409.8 370.1h0M410 370.1h0M410.1 370.8h0M410.3 375.8h0M410.4 376.7h0M410.6 373.1h0M410.7 376.7h0M410.9 368.7h0M411 374.9h0M411.2 376.7h0M411.4 375.8h0M411.5 373.1h0M411.7 374h0M411.8 374h0M412 386.6h0M412.1 370.8h0M412.3 374h0M412.4 381.1h0M412.6 390h0M412.7 368.7h0M412.9 368.7h0M413 379.9h0M413.2 378.8h0M413.3 375.8h0M413.5 382.3h0M413.6 390h0M413.8 376.7h0M414 385.1h0M414.1 385.1h0M414.3 377.7h0M414.4 378.8h0M414.6 396.6h0M414.7 388.2h0M414.9 382.3h0M415 386.6h0M415.2 392h0M415.3 388.2h0M415.5 385.1h0M415.6 386.6h0M415.8 390h0M415.9 402.5h0M416.1 396.6h0M416.3 390h0M416.4 396.6h0M416.6 402.5h0M416.7 390h0M416.9 402.5h0M417 402.5h0M417.2 394.2h0M417.3 406.3h0M417.5 399.3h0M417.6 396.6h0M417.8 406.3h0M417.9 394.2h0M418.1 406.3h0M418.2 383.7h0M418.4 396.6h0M418.6 406.3h0M418.7 410.9h0M418.9 396.6h0M419 402.5h0M419.2 406.3h0M419.3 425.1h0M419.5 410.9h0M419.6 390h0M419.8 392h0M419.9 439.4h0M420.1 416.8h0M420.2 406.3h0M420.4 410.9h0M420.5 402.5h0M420.7 399.3h0M420.8 410.9h0M421 406.3h0M421.2 399.3h0M421.3 390h0M421.5 410.9h0M421.6 388.2h0M421.8 406.3h0M421.9 416.8h0M422.1 416.8h0M422.2 406.3h0M422.4 396.6h0M422.5 406.3h0M422.7 394.2h0M422.8 410.9h0M423 416.8h0M423.1 399.3h0M423.3 406.3h0M423.5 416.8h0M423.6 439.4h0M423.8 406.3h0M423.9 425.1h0M424.1 399.3h0M424.2 439.4h0M424.4 410.9h0M424.5 406.3h0M424.7 402.5h0M424.8 410.9h0M425 425.1h0M425.1 402.5h0M425.3 410.9h0M425.4 410.9h0M425.6 416.8h0M425.8 439.4h0M425.9 406.3h0M426.1 416.8h0M426.2 439.4h0M426.5 425.1h0M426.7 425.1h0M426.8 410.9h0M427 410.9h0M427.1 410.9h0M427.3 425.1h0M427.4 416.8h0M427.6 410.9h0M427.7 439.4h0M427.9 416.8h0M428 416.8h0M428.4 402.5h0M428.5 410.9h0M428.7 439.4h0M428.8 439.4h0M429 416.8h0M429.4 425.1h0M429.6 425.1h0M429.7 439.4h0M429.9 439.4h0M430 416.8h0M430.2 425.1h0M430.3 439.4h0M430.5 416.8h0M430.7 425.1h0M430.8 439.4h0M431 439.4h0M431.1 439.4h0M431.3 425.1h0M431.4 425.1h0M431.6 425.1h0M431.7 416.8h0M432 439.4h0M432.2 439.4h0M432.3 439.4h0M432.5 425.1h0M432.6 439.4h0M432.8 425.1h0M433 439.4h0M433.1 425.1h0M433.3 425.1h0M433.6 439.4h0M433.7 416.8h0M433.9 425.1h0M434.2 425.1h0M434.3 425.1h0M434.5 425.1h0M434.8 425.1h0M435.1 439.4h0M435.2 425.1h0M435.6 439.4h0M435.7 439.4h0M435.9 439.4h0M436 416.8h0M436.2 425.1h0M436.3 439.4h0M436.5 439.4h0M436.9 416.8h0M437.1 406.3h0M437.2 439.4h0M437.5 410.9h0M437.7 439.4h0M437.9 439.4h0M438 439.4h0M438.2 439.4h0M438.3 439.4h0M438.5 425.1h0M438.8 425.1h0M438.9 439.4h0M439.1 439.4h0M439.5 439.4h0M439.8 439.4h0M440 439.4h0M440.5 410.9h0M440.6 425.1h0M440.8 439.4h0M440.9 425.1h0M441.1 439.4h0M441.2 439.4h0M441.4 439.4h0M441.7 439.4h0M441.8 402.5h0M442 416.8h0M442.1 406.3h0M442.3 439.4h0M442.4 439.4h0M442.9 416.8h0M443.2 439.4h0M443.4 439.4h0M443.5 425.1h0M443.7 439.4h0M443.8 439.4h0M444 439.4h0M444.1 439.4h0M444.3 439.4h0M444.7 439.4h0M445.1 439.4h0M445.4 425.1h0M445.7 439.4h0M445.8 425.1h0M446 425.1h0M446.1 439.4h0M446.6 439.4h0M446.9 425.1h0M447 439.4h0M447.4 439.4h0M447.5 425.1h0M447.7 439.4h0M448 425.1h0M448.1 439.4h0M448.3 425.1h0M448.6 439.4h0M448.7 425.1h0M448.9 425.1h0M449 439.4h0M449.2 425.1h0M449.3 439.4h0M449.5 439.4h0M449.7 439.4h0M449.8 425.1h0M450 439.4h0M450.3 425.1h0M450.7 425.1h0M451.2 425.1h0M451.3 425.1h0M451.6 425.1h0M451.9 425.1h0M452.1 439.4h0M452.4 439.4h0M452.6 425.1h0M452.7 439.4h0M452.9 439.4h0M453 425.1h0M453.2 425.1h0M453.3 439.4h0M453.5 425.1h0M453.8 439.4h0M453.9 439.4h0M454.2 439.4h0M454.4 439.4h0M454.6 439.4h0M454.7 439.4h0M454.9 425.1h0M455.2 439.4h0M455.8 439.4h0M455.9 425.1h0M456.1 439.4h0M456.2 439.4h0M456.5 439.4h0M456.7 425.1h0M457.5 439.4h0M457.6 439.4h0M457.8 439.4h0M457.9 439.4h0M458.2 439.4h0M458.4 439.4h0M458.5 439.4h0M459 439.4h0M459.3 439.4h0M459.6 439.4h0M459.8 439.4h0M459.9 439.4h0M460.1 425.1h0M460.2 439.4h0M460.4 439.4h0M460.5 425.1h0M460.7 439.4h0M460.8 439.4h0M461 439.4h0M461.1 439.4h0M461.4 425.1h0M461.6 439.4h0M461.8 439.4h0M462.1 425.1h0M462.5 439.4h0M462.7 439.4h0M463 439.4h0M463.3 439.4h0M463.4 406.3h0M463.7 439.4h0M464.1 425.1h0M464.2 439.4h0M464.5 425.1h0M464.8 439.4h0M465 425.1h0M465.1 439.4h0M465.3 425.1h0M465.4 439.4h0M465.6 425.1h0M465.7 439.4h0M465.9 439.4h0M466.2 425.1h0M466.7 425.1h0M467 425.1h0M467.1 439.4h0M467.3 439.4h0M467.7 439.4h0M468 425.1h0M468.2 439.4h0M468.3 439.4h0M468.8 439.4h0M469 439.4h0M469.1 439.4h0M469.3 439.4h0M469.4 425.1h0M469.6 439.4h0M469.9 425.1h0M470 416.8h0M470.3 439.4h0M470.5 439.4h0M470.6 439.4h0M470.9 439.4h0M471.1 439.4h0M471.4 439.4h0M471.6 439.4h0M471.7 439.4h0M471.9 439.4h0M472 425.1h0M472.3 425.1h0M472.6 439.4h0M472.8 439.4h0M473.1 439.4h0M473.2 416.8h0M473.9 425.1h0M474 439.4h0M474.2 439.4h0M474.3 425.1h0M474.5 439.4h0M474.6 439.4h0M474.8 439.4h0M474.9 439.4h0M475.2 439.4h0M475.4 439.4h0M475.5 425.1h0M475.7 439.4h0M475.8 439.4h0M476 439.4h0M476.2 439.4h0M476.3 439.4h0M476.5 439.4h0M476.6 439.4h0M476.8 439.4h0M476.9 439.4h0M477.2 439.4h0M477.5 439.4h0M478 425.1h0M478.3 439.4h0M478.6 439.4h0M478.9 439.4h0M479.1 410.9h0M479.2 439.4h0M479.5 439.4h0M479.7 439.4h0M480 439.4h0M480.3 425.1h0M480.4 439.4h0M480.6 439.4h0M480.9 439.4h0M481.2 439.4h0M481.5 439.4h0M481.7 439.4h0M481.8 425.1h0M482 425.1h0M482.1 439.4h0M482.3 439.4h0M482.4 439.4h0M482.6 439.4h0M482.7 439.4h0M482.9 439.4h0M483.2 439.4h0M483.4 439.4h0M483.8 439.4h0M484 439.4h0M484.1 439.4h0M484.3 439.4h0M484.4 439.4h0M484.7 425.1h0M484.9 439.4h0M485 425.1h0M485.2 425.1h0M485.3 439.4h0M485.7 439.4h0M485.8 425.1h0M486 425.1h0M486.1 439.4h0M486.4 439.4h0M486.6 439.4h0M486.9 439.4h0M487 439.4h0M487.2 439.4h0M487.5 439.4h0M487.6 425.1h0M487.8 439.4h0M488.1 439.4h0M488.4 439.4h0M488.6 439.4h0M488.9 439.4h0M489 425.1h0M489.2 439.4h0M489.3 439.4h0M489.5 439.4h0M489.8 439.4h0M490.1 439.4h0M490.7 425.1h0M490.9 439.4h0M491 425.1h0M491.2 439.4h0M491.3 439.4h0M491.5 439.4h0M491.6 410.9h0M491.8 425.1h0M491.9 439.4h0M492.1 439.4h0M492.2 425.1h0M492.4 425.1h0M492.7 439.4h0M492.9 425.1h0M493 402.5h0M493.2 439.4h0M493.3 425.1h0M493.6 439.4h0M494.1 439.4h0M494.4 439.4h0M494.5 439.4h0M494.7 416.8h0M494.8 439.4h0M495 425.1h0M495.2 439.4h0M495.3 425.1h0M495.8 439.4h0M495.9 439.4h0M496.1 425.1h0M496.2 425.1h0M496.4 439.4h0M496.5 425.1h0M497 425.1h0M497.1 439.4h0M497.4 439.4h0M497.6 439.4h0M497.8 439.4h0M497.9 439.4h0M498.1 410.9h0M498.2 425.1h0M498.7 439.4h0M498.8 425.1h0M499.1 439.4h0M499.3 439.4h0M499.4 439.4h0M499.7 425.1h0M499.9 439.4h0M500.1 439.4h0M500.2 439.4h0M500.5 425.1h0M500.7 425.1h0M501 439.4h0M501.1 439.4h0M501.3 439.4h0M501.6 439.4h0M501.7 439.4h0M501.9 439.4h0M502 439.4h0M502.4 439.4h0M502.7 439.4h0M502.8 425.1h0M503.1 439.4h0M503.3 425.1h0M503.6 425.1h0M503.9 439.4h0M504 439.4h0M504.5 439.4h0M504.6 439.4h0M504.8 425.1h0M505 425.1h0M505.1 439.4h0M505.3 425.1h0M505.4 425.1h0M505.6 439.4h0M506 425.1h0M506.2 439.4h0M506.5 439.4h0M506.6 439.4h0M506.9 425.1h0M507.1 425.1h0M507.6 439.4h0M507.9 425.1h0M508.5 439.4h0M508.6 439.4h0M508.8 425.1h0M509.1 425.1h0M509.2 439.4h0M509.4 439.4h0M509.7 439.4h0M510.2 425.1h0M510.6 439.4h0M510.8 439.4h0M510.9 439.4h0M511.1 439.4h0M511.2 425.1h0M511.4 439.4h0M511.5 439.4h0M511.7 439.4h0M512 439.4h0M512.3 439.4h0M512.5 439.4h0M512.6 439.4h0M512.8 439.4h0M513.1 439.4h0M513.4 439.4h0M513.5 439.4h0M513.8 425.1h0M514 425.1h0M514.3 439.4h0M514.6 425.1h0M514.8 439.4h0M515.1 425.1h0M515.2 425.1h0M515.4 425.1h0M515.7 439.4h0M515.8 425.1h0M516 439.4h0M516.1 439.4h0M516.3 439.4h0M516.4 439.4h0M516.6 439.4h0M516.8 439.4h0M517.1 439.4h0M517.4 439.4h0M517.7 439.4h0M518.1 439.4h0M518.3 425.1h0M518.4 439.4h0M518.6 439.4h0M518.7 439.4h0M519 439.4h0M519.2 425.1h0M519.4 425.1h0M519.7 425.1h0M520.3 425.1h0M520.4 439.4h0M520.6 425.1h0M520.9 425.1h0M521 439.4h0M521.2 425.1h0M521.5 439.4h0M521.8 439.4h0M522 425.1h0M522.1 425.1h0M522.3 439.4h0M522.4 439.4h0M522.6 439.4h0M522.7 425.1h0M522.9 410.9h0M523.2 416.8h0M523.3 439.4h0M523.5 439.4h0M523.6 416.8h0M523.8 439.4h0M524 425.1h0M524.1 439.4h0M524.4 439.4h0M524.7 439.4h0M525.2 425.1h0M525.3 439.4h0M525.5 439.4h0M525.6 439.4h0M525.8 439.4h0M525.9 439.4h0M526.1 439.4h0M526.3 425.1h0M526.6 439.4h0M526.7 439.4h0M527 425.1h0M527.2 416.8h0M527.3 439.4h0M527.5 439.4h0M527.8 439.4h0M527.9 439.4h0M528.2 439.4h0M528.4 425.1h0M528.7 425.1h0M528.9 425.1h0M529 425.1h0M529.3 439.4h0M529.5 416.8h0M529.6 425.1h0M529.9 439.4h0M530.1 439.4h0M530.2 439.4h0M530.4 439.4h0M530.7 439.4h0M530.8 425.1h0M531 439.4h0M531.3 439.4h0M531.5 425.1h0M531.8 439.4h0M532.2 439.4h0M532.4 425.1h0M532.5 425.1h0M532.7 425.1h0M532.8 439.4h0M533 425.1h0M533.3 439.4h0M533.5 439.4h0M533.6 439.4h0M533.8 439.4h0M533.9 425.1h0M534.1 425.1h0M534.2 425.1h0M534.4 439.4h0M534.5 439.4h0M534.7 439.4h0M534.8 439.4h0M535 439.4h0M535.1 425.1h0M535.7 425.1h0M535.9 439.4h0M536.1 439.4h0M536.2 439.4h0M536.4 410.9h0M536.5 425.1h0M536.8 425.1h0M537 439.4h0M537.1 425.1h0M537.3 439.4h0M537.4 439.4h0M537.6 439.4h0M537.9 425.1h0M538 439.4h0M538.2 439.4h0M538.5 425.1h0M538.7 439.4h0M538.8 439.4h0M539 425.1h0M539.1 425.1h0M539.3 439.4h0M539.6 439.4h0M539.9 439.4h0M540 439.4h0M540.3 439.4h0M540.5 439.4h0M540.7 425.1h0M540.8 425.1h0M541 439.4h0M541.1 439.4h0M541.3 439.4h0M541.7 439.4h0M541.9 439.4h0M542 439.4h0M542.2 439.4h0M542.3 439.4h0M542.5 425.1h0M542.6 439.4h0M543.1 425.1h0M543.3 439.4h0M543.4 425.1h0M543.7 439.4h0M543.9 425.1h0M544 425.1h0M544.2 425.1h0M544.3 439.4h0M544.5 439.4h0M544.8 425.1h0M544.9 439.4h0M545.1 425.1h0M545.6 439.4h0M545.7 425.1h0M545.9 425.1h0M546 425.1h0M546.2 439.4h0M546.5 425.1h0M546.6 425.1h0M546.8 410.9h0M546.9 439.4h0M547.1 425.1h0M547.2 439.4h0M547.5 439.4h0M547.7 439.4h0M547.9 439.4h0M548 439.4h0M548.2 439.4h0M548.5 439.4h0M548.8 439.4h0M548.9 439.4h0M549.1 425.1h0M549.2 425.1h0M549.5 425.1h0M549.7 425.1h0M550.1 439.4h0M550.3 439.4h0M550.5 425.1h0M550.6 439.4h0M550.8 439.4h0M550.9 410.9h0M551.1 439.4h0M551.4 439.4h0M551.5 439.4h0M551.7 439.4h0M551.8 439.4h0M552 425.1h0M552.3 439.4h0M552.4 425.1h0M552.6 425.1h0M552.8 439.4h0M552.9 439.4h0M553.1 439.4h0M553.2 425.1h0M553.4 439.4h0M553.5 439.4h0M554 425.1h0M554.3 439.4h0M554.6 416.8h0M554.7 439.4h0M554.9 439.4h0M555.2 425.1h0M555.4 425.1h0M555.5 439.4h0M555.7 439.4h0M556 439.4h0M556.1 439.4h0M556.3 439.4h0M556.4 439.4h0M556.6 439.4h0M556.7 439.4h0M556.9 439.4h0M557.2 439.4h0M557.4 439.4h0M557.7 439.4h0M558.1 425.1h0M559.2 425.1h0M559.3 439.4h0M559.5 425.1h0M559.8 439.4h0M560 439.4h0M560.1 439.4h0M560.3 439.4h0M560.4 425.1h0M560.6 439.4h0M560.7 439.4h0M560.9 439.4h0M561.5 425.1h0M561.6 439.4h0M561.9 425.1h0M562.1 425.1h0M562.4 425.1h0M562.6 439.4h0M562.7 439.4h0M563 439.4h0M563.2 410.9h0M563.3 439.4h0M563.5 439.4h0M563.6 439.4h0M563.8 439.4h0M563.9 439.4h0M564.1 425.1h0M564.2 402.5h0M564.4 439.4h0M564.6 439.4h0M564.7 439.4h0M565 439.4h0M565.2 416.8h0M565.3 439.4h0M565.5 425.1h0M565.6 425.1h0M565.8 425.1h0M565.9 425.1h0M566.2 439.4h0M566.4 439.4h0M566.5 425.1h0M566.7 439.4h0M566.8 425.1h0M567.2 439.4h0M567.3 439.4h0M567.5 439.4h0M567.6 439.4h0M567.8 439.4h0M567.9 425.1h0M568.1 439.4h0M568.2 439.4h0M568.4 425.1h0M568.5 439.4h0M568.8 439.4h0M569.1 439.4h0M569.3 439.4h0M569.5 439.4h0M569.6 425.1h0M569.8 425.1h0M570.5 439.4h0M571.3 439.4h0M571.4 439.4h0M571.6 439.4h0M571.9 439.4h0M572.1 425.1h0M572.4 439.4h0M572.7 439.4h0M572.8 439.4h0M573 439.4h0M573.4 439.4h0M573.6 439.4h0M574.2 439.4h0M574.8 425.1h0M575 439.4h0M575.1 439.4h0M575.3 425.1h0M575.4 425.1h0M575.6 439.4h0M575.7 439.4h0M576 439.4h0M576.2 439.4h0M576.3 439.4h0M576.5 425.1h0M576.7 439.4h0M576.8 439.4h0M577 439.4h0M577.3 439.4h0M577.4 439.4h0M577.7 439.4h0M577.9 439.4h0M578 416.8h0M578.3 425.1h0M578.8 439.4h0M579 439.4h0M579.1 439.4h0M579.3 425.1h0M579.4 439.4h0M579.6 425.1h0M579.7 439.4h0M579.9 439.4h0M580 425.1h0M580.2 439.4h0M580.3 425.1h0M580.5 425.1h0M580.6 439.4h0M580.8 439.4h0M581.2 439.4h0M581.4 439.4h0M581.7 439.4h0M581.9 439.4h0M582 425.1h0M582.2 439.4h0M582.9 425.1h0M583.1 439.4h0M583.2 425.1h0M583.4 425.1h0M583.5 439.4h0M583.7 439.4h0M584 425.1h0M584.2 439.4h0M584.3 439.4h0M584.5 425.1h0M584.6 439.4h0M584.8 416.8h0M585.2 439.4h0M585.4 439.4h0M585.5 410.9h0M585.7 439.4h0M585.8 439.4h0M586 439.4h0M586.2 425.1h0M586.3 439.4h0M586.5 425.1h0M586.6 439.4h0M586.8 425.1h0M586.9 439.4h0M587.2 439.4h0M587.4 439.4h0M587.5 439.4h0M587.8 439.4h0M588.3 439.4h0M588.4 439.4h0M588.6 439.4h0M588.8 439.4h0M589.1 439.4h0M589.4 439.4h0M589.5 425.1h0M589.8 425.1h0M590 439.4h0M590.1 439.4h0M590.3 439.4h0M590.6 439.4h0M590.7 425.1h0M590.9 439.4h0M591.1 425.1h0M591.2 439.4h0M591.7 425.1h0M591.8 439.4h0M592 425.1h0M592.1 439.4h0M592.4 425.1h0M592.6 439.4h0M592.9 439.4h0M593 439.4h0M593.4 439.4h0M593.5 439.4h0M594 439.4h0M594.1 439.4h0M594.3 425.1h0M594.6 439.4h0M594.9 439.4h0M595 425.1h0M595.2 425.1h0M595.3 439.4h0M595.6 439.4h0M595.8 439.4h0M596.1 439.4h0M596.4 425.1h0M596.6 425.1h0M596.7 425.1h0M597 439.4h0M597.2 439.4h0M597.3 425.1h0M597.6 439.4h0M597.8 439.4h0M597.9 406.3h0M598.1 439.4h0M598.4 425.1h0M598.6 425.1h0M598.7 439.4h0M598.9 439.4h0M599.2 439.4h0M599.3 439.4h0M599.8 439.4h0M600.1 410.9h0M600.2 439.4h0M600.9 410.9h0M601 439.4h0M601.2 439.4h0M601.3 410.9h0M601.8 439.4h0M601.9 425.1h0M602.2 439.4h0M602.4 416.8h0M603 439.4h0M603.5 439.4h0M603.6 439.4h0M604.2 439.4h0M604.4 439.4h0M604.5 425.1h0M604.7 425.1h0M604.8 439.4h0M605 439.4h0M605.1 439.4h0M605.5 439.4h0M605.8 425.1h0M606.1 439.4h0M606.4 425.1h0M606.8 439.4h0M607 425.1h0M607.1 439.4h0M607.3 439.4h0M607.6 439.4h0M607.8 439.4h0M607.9 439.4h0M608.2 425.1h0M608.4 439.4h0M608.5 425.1h0M608.7 425.1h0M608.8 425.1h0M609 439.4h0M609.1 425.1h0M609.3 439.4h0M609.4 439.4h0M609.6 439.4h0M609.7 425.1h0M609.9 406.3h0M610.4 439.4h0M610.5 439.4h0M610.8 425.1h0M611 439.4h0M611.1 439.4h0M611.3 439.4h0M611.4 439.4h0M611.6 416.8h0M611.7 425.1h0M611.9 439.4h0M612.2 439.4h0M612.3 439.4h0M612.5 439.4h0M612.7 439.4h0M612.8 425.1h0M613.1 439.4h0M613.3 425.1h0M613.4 439.4h0M613.6 439.4h0M613.9 439.4h0M614 425.1h0M614.2 425.1h0M614.5 439.4h0M614.6 439.4h0M614.8 439.4h0M615.1 439.4h0M615.3 439.4h0M615.6 439.4h0M615.9 439.4h0M616 439.4h0M616.2 439.4h0M616.5 439.4h0M616.6 425.1h0M616.8 425.1h0M616.9 439.4h0M617.1 439.4h0M617.3 439.4h0M617.6 425.1h0M617.7 439.4h0M617.9 439.4h0M618 425.1h0M618.2 439.4h0M618.3 425.1h0M618.9 439.4h0M619.1 439.4h0M619.2 439.4h0M619.5 439.4h0M619.7 425.1h0M619.9 425.1h0M620 410.9h0M620.2 439.4h0M620.3 439.4h0M620.5 439.4h0M620.8 425.1h0M620.9 439.4h0M621.4 439.4h0M621.7 439.4h0M622 439.4h0M622.5 425.1h0M622.6 439.4h0M622.8 425.1h0M623.1 439.4h0M623.2 425.1h0M623.5 425.1h0M623.7 425.1h0M623.8 425.1h0M624.1 425.1h0M624.5 439.4h0M624.8 416.8h0M625.1 425.1h0M625.2 439.4h0M625.4 439.4h0M625.5 439.4h0M625.7 439.4h0M625.8 439.4h0M626 425.1h0M626.1 425.1h0M626.3 439.4h0M626.4 425.1h0M626.6 439.4h0M626.9 439.4h0M627.4 439.4h0M627.5 439.4h0M628.1 439.4h0M628.3 425.1h0M628.4 425.1h0M628.6 425.1h0M628.7 439.4h0M628.9 439.4h0M629.2 425.1h0M629.4 439.4h0M629.5 425.1h0M629.7 425.1h0M630 439.4h0M630.3 425.1h0M630.4 439.4h0M630.6 439.4h0M630.7 425.1h0M631 439.4h0M631.2 439.4h0M631.5 439.4h0M631.7 425.1h0M631.8 439.4h0M632.3 439.4h0M632.4 425.1h0M632.6 439.4h0M632.7 425.1h0M632.9 439.4h0M633 439.4h0M633.2 425.1h0M633.3 439.4h0M633.5 439.4h0M633.6 439.4h0M633.8 439.4h0M634 425.1h0M634.3 439.4h0M634.9 425.1h0M635.2 425.1h0M635.5 439.4h0M635.8 439.4h0M635.9 439.4h0M636.2 439.4h0M636.7 439.4h0M636.9 425.1h0M637 439.4h0M637.2 425.1h0M637.5 439.4h0M637.6 425.1h0M637.9 425.1h0M638.1 439.4h0M638.7 439.4h0M638.9 439.4h0M639.2 425.1h0M639.3 425.1h0M639.5 425.1h0M639.6 425.1h0M639.8 425.1h0M639.9 439.4h0M640.1 439.4h0M640.2 439.4h0M640.4 439.4h0M640.5 439.4h0M640.7 425.1h0M640.8 425.1h0M641.2 439.4h0M641.3 425.1h0M642.1 439.4h0M642.2 425.1h0M642.4 425.1h0M642.5 439.4h0M642.7 439.4h0M642.8 425.1h0M643 439.4h0M643.3 439.4h0M643.6 406.3h0M643.8 439.4h0M643.9 439.4h0M644.1 425.1h0M644.2 439.4h0M644.4 425.1h0M644.7 439.4h0M644.8 439.4h0M645 439.4h0M645.1 425.1h0M645.3 439.4h0M645.4 439.4h0M645.6 439.4h0M645.7 439.4h0M646.2 425.1h0M646.4 439.4h0M646.5 439.4h0M646.7 439.4h0M647 439.4h0M647.1 425.1h0M647.4 439.4h0M647.6 439.4h0M647.7 425.1h0M647.9 439.4h0M648.2 439.4h0M648.5 425.1h0M648.7 439.4h0M648.8 439.4h0M649 425.1h0M649.1 439.4h0M649.4 425.1h0M649.6 406.3h0M649.7 439.4h0M649.9 439.4h0M650.5 439.4h0M650.6 439.4h0M651 439.4h0M651.1 425.1h0M651.3 439.4h0M651.6 439.4h0M651.7 439.4h0M651.9 439.4h0M652 439.4h0M652.2 425.1h0M652.3 425.1h0M652.5 439.4h0M652.6 439.4h0M652.8 439.4h0M652.9 439.4h0M653.1 425.1h0M653.3 439.4h0M653.6 425.1h0M653.7 425.1h0M653.9 425.1h0M654 439.4h0M654.2 439.4h0M654.5 425.1h0M654.6 439.4h0M654.9 439.4h0M655.2 439.4h0M655.7 439.4h0M656 416.8h0M656.2 425.1h0M656.3 439.4h0M656.5 425.1h0M656.6 439.4h0M656.8 439.4h0M657.1 439.4h0M657.2 439.4h0M657.4 439.4h0M657.8 439.4h0M658 425.1h0M658.2 425.1h0M658.5 439.4h0M658.8 416.8h0M658.9 439.4h0M659.1 439.4h0M659.2 439.4h0M659.4 425.1h0M659.7 425.1h0M659.8 439.4h0M660.1 439.4h0M660.3 439.4h0M660.6 439.4h0M660.8 439.4h0M660.9 425.1h0M661.1 425.1h0M661.4 439.4h0M661.5 439.4h0M661.7 439.4h0M661.8 425.1h0M662.1 416.8h0M662.3 439.4h0M662.4 425.1h0M662.6 439.4h0M662.8 425.1h0M662.9 439.4h0M663.1 439.4h0M663.2 439.4h0M663.4 425.1h0M663.7 439.4h0M663.8 425.1h0M664.1 425.1h0M664.3 425.1h0M664.4 425.1h0M664.6 439.4h0M664.7 425.1h0M664.9 439.4h0M665.2 439.4h0M665.7 425.1h0M665.8 439.4h0M666 425.1h0M666.1 439.4h0M666.3 439.4h0M666.6 439.4h0M666.7 410.9h0M666.9 439.4h0M667.2 416.8h0M667.3 439.4h0M667.7 439.4h0M668 439.4h0M668.1 439.4h0M668.3 439.4h0M668.6 425.1h0M669.2 425.1h0M669.3 439.4h0M669.6 425.1h0M669.8 439.4h0M670 439.4h0M670.1 425.1h0M670.4 439.4h0M670.6 425.1h0M670.7 406.3h0M670.9 439.4h0M671.2 439.4h0M671.3 439.4h0M671.5 439.4h0M671.8 439.4h0M671.9 425.1h0M672.1 439.4h0M672.2 439.4h0M672.4 439.4h0M672.6 416.8h0M672.7 439.4h0M672.9 439.4h0M673 425.1h0M673.2 439.4h0M673.3 439.4h0M673.5 439.4h0M673.6 425.1h0M673.8 439.4h0M673.9 439.4h0M674.1 416.8h0M674.7 410.9h0M674.9 425.1h0M675.3 439.4h0M675.5 439.4h0M675.6 425.1h0M675.8 425.1h0M676.2 439.4h0M676.5 425.1h0M676.7 439.4h0M677 439.4h0M677.2 439.4h0M677.3 425.1h0M677.5 439.4h0M677.6 425.1h0M677.8 439.4h0M678.1 439.4h0M678.4 425.1h0M678.5 410.9h0M678.7 439.4h0M678.8 425.1h0M679 425.1h0M679.1 425.1h0M679.3 439.4h0M679.5 439.4h0M679.8 425.1h0M679.9 439.4h0M680.1 439.4h0M680.2 439.4h0M680.4 439.4h0M680.7 439.4h0M680.8 425.1h0M681.1 439.4h0M681.3 439.4h0M681.6 439.4h0M681.7 425.1h0M682.1 439.4h0M682.2 439.4h0M682.4 439.4h0M682.5 439.4h0M682.7 425.1h0M683 425.1h0M683.1 439.4h0M683.3 425.1h0M683.4 425.1h0M683.7 439.4h0M684 439.4h0M684.4 425.1h0M684.7 439.4h0M684.8 439.4h0M685 425.1h0M685.1 439.4h0M685.4 439.4h0M685.7 425.1h0M685.9 416.8h0M686 439.4h0M686.2 439.4h0M686.3 439.4h0M686.5 439.4h0M686.7 425.1h0M686.8 439.4h0M687 425.1h0M687.1 425.1h0M687.3 425.1h0M687.6 439.4h0M687.7 439.4h0M687.9 439.4h0M688 425.1h0M688.2 439.4h0M688.3 439.4h0M688.5 425.1h0M688.6 410.9h0M688.8 439.4h0M688.9 439.4h0M689.1 425.1h0M689.3 439.4h0M689.6 439.4h0M690 439.4h0M690.5 425.1h0M690.6 439.4h0M690.8 439.4h0M691.1 439.4h0M691.4 425.1h0" stroke="#000" stroke-width="2.7" stroke-linecap="round" fill="none"/><path d="M385 260h0M385.2 258.3h0M385.4 256.8h0M385.6 255.6h0M385.8 254.5h0M386 253.5h0M386.1 252.4h0M386.3 252.1h0M386.5 251.4h0M386.7 251.3h0M386.9 250.4h0M387.1 250.2h0M387.3 250.2h0M387.5 249.9h0M387.7 249.5h0M387.9 249.7h0M388.1 249.3h0M388.3 249.5h0M388.4 249.5h0M388.6 249.5h0M388.8 249.7h0M389 249.2h0M389.2 249.5h0M389.4 249.3h0M389.6 249.2h0M389.8 249.4h0M390 249.3h0M390.2 249.5h0M390.4 249.8h0M390.6 249.5h0M390.7 249.7h0M390.9 249.6h0M391.1 249.5h0M391.3 249.6h0M391.5 250.3h0M391.7 249.9h0M391.9 250.1h0M392.1 250.3h0M392.3 250.7h0M392.5 250.5h0M392.7 250.6h0M392.9 250.6h0M393 250.6h0M393.2 251.1h0M393.4 251h0M393.6 250.9h0M393.8 251h0M394 251.1h0M394.2 251.4h0M394.4 251.2h0M394.6 251.8h0M394.8 252h0M395 251.9h0M395.1 251.9h0M395.3 252h0M395.5 252.2h0M395.7 252.1h0M395.9 252.6h0M396.1 252.7h0M396.3 253h0M396.5 252.6h0M396.7 253h0M396.9 252.8h0M397.1 253.3h0M397.3 253h0M397.4 253.5h0M397.6 253.7h0M397.8 254h0M398 253.6h0M398.2 254.3h0M398.4 253.8h0M398.6 254.1h0M398.8 254.2h0M399 254h0M399.2 254.2h0M399.4 254.8h0M399.6 254.5h0M399.7 254.4h0M399.9 255.1h0M400.1 255.1h0M400.3 255.1h0M400.5 254.8h0M400.7 255.3h0M400.9 255.5h0M401.1 255.4h0M401.3 255.6h0M401.5 256h0M401.7 255.7h0M401.9 256.1h0M402 256.3h0M402.2 255.8h0M402.4 256.5h0M402.6 256.5h0M402.8 256.7h0M403 256.5h0M403.2 256.5h0M403.4 257.5h0M403.6 257.2h0M403.8 257.2h0M404 257.3h0M404.1 257.3h0M404.3 257.5h0M404.5 257.4h0M404.7 257.6h0M404.9 258h0M405.1 257.8h0M405.3 258.2h0M405.5 257.7h0M405.7 257.9h0M405.9 258.7h0M406.1 258.3h0M406.3 258.4h0M406.4 259h0M406.6 259.1h0M406.8 259.1h0M407 259.4h0M407.2 259h0M407.4 259.3h0M407.6 259.7h0M407.8 259.2h0M408 259.7h0M408.2 260h0M408.4 260h0M408.6 260h0M408.7 260h0M408.9 260.1h0M409.1 260.9h0M409.3 260.3h0M409.5 260.9h0M409.7 260.9h0M409.9 260.6h0M410.1 260.9h0M410.3 261.6h0M410.5 261.2h0M410.7 260.9h0M410.9 261.6h0M411 261.4h0M411.2 261.1h0M411.4 261.8h0M411.6 261.6h0M411.8 262.2h0M412 261.8h0M412.2 262.4h0M412.4 262.7h0M412.6 262.2h0M412.8 262.2h0M413 263.3h0M413.2 263h0M413.3 263.4h0M413.5 262.8h0M413.7 262.9h0M413.9 263.3h0M414.1 263.1h0M414.3 263.6h0M414.5 264.3h0M414.7 263.3h0M414.9 264.3h0M415.1 264h0M415.3 264.6h0M415.4 264.3h0M415.6 264.3h0M415.8 264.7h0M416 264.9h0M416.2 264.7h0M416.4 265.1h0M416.6 265h0M416.8 264.3h0M417 264.9h0M417.2 265.6h0M417.4 265h0M417.6 265.5h0M417.7 265.3h0M417.9 266.1h0M418.1 265.9h0M418.3 266.7h0M418.5 266.2h0M418.7 266.3h0M418.9 266.6h0M419.1 266.5h0M419.3 266.2h0M419.5 266.5h0M419.7 266.9h0M419.9 266.5h0M420 267h0M420.2 267.3h0M420.4 267.3h0M420.6 267.7h0M420.8 267.3h0M421 267.4h0M421.2 267.7h0M421.4 267.8h0M421.6 268.1h0M421.8 267.5h0M422 267.8h0M422.2 268h0M422.3 268.1h0M422.5 268.5h0M422.7 268.1h0M422.9 268.5h0M423.1 268.6h0M423.3 269h0M423.5 269.8h0M423.7 269.6h0M423.9 269.2h0M424.1 269.6h0M424.3 269.6h0M424.4 270.1h0M424.6 270.4h0M424.8 269.7h0M425 270h0M425.2 270.2h0M425.4 270.9h0M425.6 270.4h0M425.8 270.4h0M426 270.8h0M426.2 271.1h0M426.4 270.6h0M426.6 270.6h0M426.7 271.2h0M426.9 271.6h0M427.1 271.6h0M427.3 271.4h0M427.5 271.3h0M427.7 271.5h0M427.9 271.7h0M428.1 272h0M428.3 271.8h0M428.5 271.3h0M428.7 272.3h0M428.9 272.4h0M429 272.3h0M429.2 272.9h0M429.4 273.2h0M429.6 272.3h0M429.8 273.2h0M430 273h0M430.2 273.8h0M430.4 272.8h0M430.6 273h0M430.8 273.8h0M431 273.6h0M431.2 273.8h0M431.3 274.3h0M431.5 275h0M431.7 274.4h0M431.9 274h0M432.1 273.8h0M432.3 274h0M432.5 273.6h0M432.7 274.5h0M432.9 274.2h0M433.1 276h0M433.3 275.3h0M433.4 275h0M433.6 275h0M433.8 275.9h0M434 275.9h0M434.2 274.9h0M434.4 275.7h0M434.6 276h0M434.8 275.5h0M435 276.1h0M435.2 276.2h0M435.4 276.6h0M435.6 276.8h0M435.7 277h0M435.9 276.3h0M436.1 276.9h0M436.3 277.2h0M436.5 275.7h0M436.7 277.8h0M436.9 277.7h0M437.1 277.4h0M437.3 277h0M437.5 277.2h0M437.7 277.9h0M437.9 278.3h0M438 277.8h0M438.2 277.7h0M438.4 278.6h0M438.6 277.6h0M438.8 278h0M439 278.3h0M439.2 278.3h0M439.4 278h0M439.6 278.9h0M439.8 279h0M440 278.2h0M440.2 279.6h0M440.3 278.5h0M440.5 278.6h0M440.7 278.9h0M440.9 280.3h0M441.1 279.3h0M441.3 279.7h0M441.5 279.8h0M441.7 280.2h0M441.9 280.1h0M442.1 280.8h0M442.3 280.2h0M442.4 280.4h0M442.6 280.4h0M442.8 281.1h0M443 281.5h0M443.2 281.6h0M443.4 281.7h0M443.6 282.3h0M443.8 281.3h0M444 281.7h0M444.2 281.4h0M444.4 281.9h0M444.6 281.7h0M444.7 282.7h0M444.9 281.7h0M445.1 283.6h0M445.3 282.8h0M445.5 283.1h0M445.7 283.3h0M445.9 282.7h0M446.1 282.8h0M446.3 283.1h0M446.5 283.8h0M446.7 282h0M446.9 283.4h0M447 283.3h0M447.2 283.5h0M447.4 283.2h0M447.6 284.2h0M447.8 283.1h0M448 284.1h0M448.2 284.6h0M448.4 285h0M448.6 284h0M448.8 284.5h0M449 284.8h0M449.2 285h0M449.3 284.4h0M449.5 284h0M449.7 283.7h0M449.9 285.2h0M450.1 285.4h0M450.3 285.9h0M450.5 285.5h0M450.7 284.9h0M450.9 285.6h0M451.1 284.9h0M451.3 286.5h0M451.5 286.2h0M451.6 285.4h0M451.8 286.4h0M452 285.9h0M452.2 286.7h0M452.4 286.5h0M452.6 287.7h0M452.8 287.5h0M453 286.4h0M453.2 285.7h0M453.4 288.6h0M453.6 287.8h0M453.7 286.5h0M453.9 287.3h0M454.1 287.3h0M454.3 287.9h0M454.5 288h0M454.7 287.5h0M454.9 287.8h0M455.1 288h0M455.3 287.6h0M455.5 288.6h0M455.7 288.4h0M455.9 289.3h0M456 289.4h0M456.2 288.9h0M456.4 289.2h0M456.6 288.3h0M456.8 289.4h0M457 289.3h0M457.2 289.5h0M457.4 289.6h0M457.6 288.9h0M457.8 290h0M458 289.7h0M458.2 289.3h0M458.3 289.7h0M458.5 289.3h0M458.7 290.7h0M458.9 289.8h0M459.1 289.9h0M459.3 291.3h0M459.5 290.6h0M459.7 290.6h0M459.9 291.1h0M460.1 291h0M460.3 292h0M460.5 291.6h0M460.6 290.9h0M460.8 291h0M461 291.2h0M461.2 291.1h0M461.4 292.2h0M461.6 293.2h0M461.8 292h0M462 291.5h0M462.2 292.7h0M462.4 294h0M462.6 291.6h0M462.7 292.6h0M462.9 292.5h0M463.1 292.9h0M463.3 292.9h0M463.5 293.5h0M463.7 292.9h0M463.9 292.7h0M464.1 294.3h0M464.3 294.5h0M464.5 293.1h0M464.7 293.4h0M464.9 294h0M465 295.2h0M465.2 293.9h0M465.4 294.6h0M465.6 294.8h0M465.8 294.2h0M466 295.3h0M466.2 295h0M466.4 294.6h0M466.6 294.5h0M466.8 294.7h0M467 296.3h0M467.2 295.4h0M467.3 294.7h0M467.5 295.5h0M467.7 295.5h0M467.9 296.1h0M468.1 296.5h0M468.3 295.3h0M468.5 296h0M468.7 296.7h0M468.9 296.3h0M469.1 297.5h0M469.3 297h0M469.5 297.1h0M469.6 297.2h0M469.8 296.2h0M470 297h0M470.2 296.7h0M470.4 296.9h0M470.6 298.7h0M470.8 299.6h0M471 296.2h0M471.2 298h0M471.4 298.1h0M471.6 297.3h0M471.7 297.6h0M471.9 298h0M472.1 299.1h0M472.3 299.5h0M472.5 298.1h0M472.7 299.8h0M472.9 298.1h0M473.1 298h0M473.3 296.9h0M473.5 300.8h0M473.7 299.7h0M473.9 298.1h0M474 298.8h0M474.2 299.6h0M474.4 300.8h0M474.6 300.8h0M474.8 298.6h0M475 300.2h0M475.2 300.5h0M475.4 300.7h0M475.6 300.3h0M475.8 300.7h0M476 299h0M476.2 301.2h0M476.3 300.3h0M476.5 302.3h0M476.7 300.5h0M476.9 301.5h0M477.1 301.1h0M477.3 302.1h0M477.5 301.5h0M477.7 303.5h0M477.9 301.7h0M478.1 303.2h0M478.3 301.8h0M478.5 303.2h0M478.6 301.2h0M478.8 302.6h0M479 302.6h0M479.2 303.2h0M479.4 303.1h0M479.6 303.2h0M479.8 302.9h0M480 302.7h0M480.2 303.4h0M480.4 303.6h0M480.6 305.4h0M480.8 304.8h0M480.9 303h0M481.1 304.2h0M481.3 302.8h0M481.5 305.2h0M481.7 306.9h0M481.9 304.6h0M482.1 304.5h0M482.3 304.4h0M482.5 305.1h0M482.7 304.5h0M482.9 304.6h0M483 304.2h0M483.2 304.1h0M483.4 304.6h0M483.6 304h0M483.8 305.4h0M484 305.9h0M484.2 306.9h0M484.4 307.6h0M484.6 305.5h0M484.8 306.1h0M485 307.6h0M485.2 306.3h0M485.3 305.7h0M485.5 305.8h0M485.7 305.2h0M485.9 307.4h0M486.1 305.8h0M486.3 307.1h0M486.5 307.1h0M486.7 306.8h0M486.9 307.7h0M487.1 305.9h0M487.3 306.4h0M487.5 306.9h0M487.6 308.1h0M487.8 306.9h0M488 308.5h0M488.2 309.2h0M488.4 309.1h0M488.6 307.4h0M488.8 306.9h0M489 308.7h0M489.2 307h0M489.4 309.7h0M489.6 306.9h0M489.8 308.5h0M489.9 311.4h0M490.1 308.7h0M490.3 310h0M490.5 306.4h0M490.7 308.3h0M490.9 310.6h0M491.1 310.2h0M491.3 310.5h0M491.5 309.7h0M491.7 310.5h0M491.9 309.7h0M492 310.6h0M492.2 309.8h0M492.4 310.3h0M492.6 310.8h0M492.8 311.4h0M493 313.5h0M493.2 310.3h0M493.4 316.7h0M493.6 312.1h0M493.8 311.8h0M494 311.9h0M494.2 310.6h0M494.3 309.5h0M494.5 312.3h0M494.7 311.9h0M494.9 310.1h0M495.1 314h0M495.3 309.6h0M495.5 312h0M495.7 312.8h0M495.9 313.3h0M496.1 314h0M496.3 311.1h0M496.5 314.3h0M496.6 311.1h0M496.8 315.6h0M497 312.3h0M497.2 314.5h0M497.4 315.5h0M497.6 313.3h0M497.8 313.5h0M498 313.2h0M498.2 315.2h0M498.4 315.7h0M498.6 315.2h0M498.8 314.9h0M498.9 317.8h0M499.1 314.8h0M499.3 316.3h0M499.5 317.3h0M499.7 316.6h0M499.9 314.5h0M500.1 313.5h0M500.3 315.1h0M500.5 317.5h0M500.7 315.3h0M500.9 316.5h0M501 319.5h0M501.2 314.1h0M501.4 315.8h0M501.6 314.1h0M501.8 316.4h0M502 316.3h0M502.2 317.2h0M502.4 314.9h0M502.6 315.8h0M502.8 313h0M503 318.1h0M503.2 314.9h0M503.3 317.9h0M503.5 316.6h0M503.7 316.5h0M503.9 316.6h0M504.1 318.5h0M504.3 317.5h0M504.5 317.9h0M504.7 317.9h0M504.9 320.7h0M505.1 316.8h0M505.3 318.7h0M505.5 321.4h0M505.6 317.8h0M505.8 316.6h0M506 317h0M506.2 318.1h0M506.4 318.7h0M506.6 318.1h0M506.8 322.1h0M507 320.3h0M507.2 318.8h0M507.4 321.9h0M507.6 320.6h0M507.8 318.6h0M507.9 320.9h0M508.1 318.1h0M508.3 320.8h0M508.5 318.7h0M508.7 317.4h0M508.9 322h0M509.1 321.1h0M509.3 318.8h0M509.5 322.5h0M509.7 317.9h0M509.9 320.8h0M510 322.1h0M510.2 320.5h0M510.4 320.7h0M510.6 320.8h0M510.8 320.3h0M511 322.3h0M511.2 322h0M511.4 324.9h0M511.6 319.3h0M511.8 323.3h0M512 322.2h0M512.2 324.5h0M512.3 321.9h0M512.5 322.5h0M512.7 323.4h0M512.9 322.2h0M513.1 322.1h0M513.3 322.5h0M513.5 325.7h0M513.7 323.8h0M513.9 322.1h0M514.1 320.3h0M514.3 323.9h0M514.5 322h0M514.6 323.1h0M514.8 326h0M515 321.9h0M515.2 322.7h0M515.4 325.1h0M515.6 323.9h0M515.8 323.9h0M516 325.8h0M516.2 321.7h0M516.4 323.6h0M516.6 324.7h0M516.8 323.8h0M516.9 325.4h0M517.1 324.4h0M517.3 323.9h0M517.5 323.6h0M517.7 324.9h0M517.9 326.4h0M518.1 328.7h0M518.3 324.1h0M518.5 328.9h0M518.7 326h0M518.9 325.2h0M519 329.4h0M519.2 326.8h0M519.4 328h0M519.6 326.6h0M519.8 325.4h0M520 326.7h0M520.2 324.5h0M520.4 327.6h0M520.6 326.8h0M520.8 326.9h0M521 328.6h0M521.2 328.2h0M521.3 327.8h0M521.5 324.4h0M521.7 327h0M521.9 329.4h0M522.1 328.5h0M522.3 330.1h0M522.5 330.2h0M522.7 326.1h0M522.9 328h0M523.1 332.3h0M523.3 328.7h0M523.5 327h0M523.6 327h0M523.8 328.9h0M524 329.5h0M524.2 326.6h0M524.4 329.4h0M524.6 332h0M524.8 329.4h0M525 329h0M525.2 331.4h0M525.4 326.6h0M525.6 330.1h0M525.8 332.5h0M525.9 330.7h0M526.1 333.6h0M526.3 330.7h0M526.5 333.9h0M526.7 333.2h0M526.9 330.4h0M527.1 329.1h0M527.3 333.7h0M527.5 331.2h0M527.7 329.4h0M527.9 332.2h0M528.1 332.5h0M528.2 331.9h0M528.4 333.8h0M528.6 333.8h0M528.8 328.1h0M529 332.5h0M529.2 331.7h0M529.4 333.2h0M529.6 334.8h0M529.8 335.7h0M530 331.7h0M530.2 332.8h0M530.3 331.7h0M530.5 330.9h0M530.7 332.7h0M530.9 329.9h0M531.1 336.7h0M531.3 334.3h0M531.5 329.7h0M531.7 330.4h0M531.9 335.4h0M532.1 331.4h0M532.3 336.4h0M532.5 332h0M532.6 333h0M532.8 331.1h0M533 334.3h0M533.2 331h0M533.4 338.3h0M533.6 334.2h0M533.8 338.6h0M534 337.2h0M534.2 339.7h0M534.4 337h0M534.6 331.3h0M534.8 333.4h0M534.9 338.3h0M535.1 334.7h0M535.3 339.7h0M535.5 337h0M535.7 339.2h0M535.9 337.7h0M536.1 336h0M536.3 335.4h0M536.5 337.7h0M536.7 338.3h0M536.9 336.7h0M537.1 338.3h0M537.2 335.4h0M537.4 340.3h0M537.6 337.4h0M537.8 336.5h0M538 335.7h0M538.2 335.8h0M538.4 335.6h0M538.6 337.5h0M538.8 339h0M539 335.3h0M539.2 337.5h0M539.3 338.6h0M539.5 334.3h0M539.7 334.9h0M539.9 334.9h0M540.1 337.5h0M540.3 340.3h0M540.5 337.5h0M540.7 337.7h0M540.9 343.6h0M541.1 339.2h0M541.3 340h0M541.5 337.8h0M541.6 343.2h0M541.8 340.8h0M542 342.5h0M542.2 340.5h0M542.4 342.8h0M542.6 342.1h0M542.8 341.2h0M543 339h0M543.2 338.4h0M543.4 341.2h0M543.6 338.1h0M543.8 339.8h0M543.9 339.5h0M544.1 339.2h0M544.3 340.5h0M544.5 338.9h0M544.7 340.5h0M544.9 341.2h0M545.1 343.2h0M545.3 337.7h0M545.5 346.5h0M545.7 342.1h0M545.9 341.9h0M546.1 340.7h0M546.2 344.6h0M546.4 341.7h0M546.6 344.6h0M546.8 337.8h0M547 345.7h0M547.2 339.8h0M547.4 342.1h0M547.6 345h0M547.8 345.4h0M548 342.6h0M548.2 344.4h0M548.3 343.4h0M548.5 340.2h0M548.7 345.9h0M548.9 341.5h0M549.1 350.5h0M549.3 340.8h0M549.5 347h0M549.7 343.4h0M549.9 344.8h0M550.1 340.7h0M550.3 342.6h0M550.5 345h0M550.6 342.8h0M550.8 344.6h0M551 345h0M551.2 347.7h0M551.4 341.5h0M551.6 345.7h0M551.8 344.4h0M552 347h0M552.2 344.4h0M552.4 344.2h0M552.6 348.4h0M552.8 350.2h0M552.9 350.5h0M553.1 341.9h0M553.3 346.5h0M553.5 350.5h0M553.7 344.2h0M553.9 347h0M554.1 346.3h0M554.3 347h0M554.5 344h0M554.7 340.8h0M554.9 348.7h0M555.1 341.4h0M555.2 345h0M555.4 347.2h0M555.6 342.8h0M555.8 346.5h0M556 346.3h0M556.2 343.6h0M556.4 345.7h0M556.6 343.4h0M556.8 347.2h0M557 348.2h0M557.2 350.8h0M557.4 348.7h0M557.5 347.5h0M557.7 345.7h0M557.9 351.9h0M558.1 350h0M558.3 346.8h0M558.5 351.1h0M558.7 347h0M558.9 345.7h0M559.1 348.9h0M559.3 347.9h0M559.5 348.4h0M559.6 349.5h0M559.8 348.4h0M560 348.4h0M560.2 352.8h0M560.4 348.9h0M560.6 345h0M560.8 349.7h0M561 351.7h0M561.2 354.8h0M561.4 348.7h0M561.6 350.5h0M561.8 352.2h0M561.9 347.7h0M562.1 348.2h0M562.3 347.5h0M562.5 352.8h0M562.7 347h0M562.9 350.5h0M563.1 350.5h0M563.3 351.4h0M563.5 352.8h0M563.7 349.5h0M563.9 347.7h0M564.1 349.5h0M564.2 351.4h0M564.4 354.1h0M564.6 350.8h0M564.8 352.2h0M565 356.5h0M565.2 351.4h0M565.4 348.4h0M565.6 351.7h0M565.8 350.8h0M566 348.2h0M566.2 349.5h0M566.4 357.3h0M566.5 348.7h0M566.7 349.7h0M566.9 356.2h0M567.1 350h0M567.3 351.1h0M567.5 351.7h0M567.7 350.8h0M567.9 356.2h0M568.1 350.5h0M568.3 349.7h0M568.5 352.5h0M568.6 354.4h0M568.8 350.2h0M569 355.5h0M569.2 351.7h0M569.4 348.2h0M569.6 352.8h0M569.8 355.8h0M570 360.1h0M570.2 347.9h0M570.4 349.2h0M570.6 354.4h0M570.8 356.5h0M570.9 356.9h0M571.1 353.5h0M571.3 359.3h0M571.5 359.3h0M571.7 347.9h0M571.9 352.8h0M572.1 361.5h0M572.3 354.1h0M572.5 351.9h0M572.7 354.4h0M572.9 352.5h0M573.1 353.2h0M573.2 360.6h0M573.4 352.8h0M573.6 350.8h0M573.8 352.8h0M574 360.1h0M574.2 355.5h0M574.4 356.5h0M574.6 358.5h0M574.8 352.5h0M575 353.5h0M575.2 357.3h0M575.4 354.4h0M575.5 356.2h0M575.7 356.5h0M575.9 355.1h0M576.1 350.8h0M576.3 350.2h0M576.5 355.8h0M576.7 351.4h0M576.9 360.6h0M577.1 357.7h0M577.3 355.8h0M577.5 358.1h0M577.6 359.3h0M577.8 357.3h0M578 365.6h0M578.2 360.6h0M578.4 359.7h0M578.6 353.8h0M578.8 356.2h0M579 356.5h0M579.2 356.5h0M579.4 356.5h0M579.6 356.5h0M579.8 354.8h0M579.9 358.1h0M580.1 356.5h0M580.3 360.1h0M580.5 358.9h0M580.7 356.5h0M580.9 354.8h0M581.1 361h0M581.3 355.8h0M581.5 359.7h0M581.7 363.5h0M581.9 368.7h0M582.1 359.3h0M582.2 358.9h0M582.4 360.1h0M582.6 367.4h0M582.8 354.8h0M583 361h0M583.2 361h0M583.4 356.5h0M583.6 355.8h0M583.8 360.6h0M584 356.9h0M584.2 358.1h0M584.4 363h0M584.5 356.9h0M584.7 358.5h0M584.9 355.1h0M585.1 357.3h0M585.3 364h0M585.5 362.5h0M585.7 361.5h0M585.9 361.5h0M586.1 361.5h0M586.3 361h0M586.5 363.5h0M586.6 366.8h0M586.8 358.1h0M587 363h0M587.2 357.7h0M587.4 359.3h0M587.6 358.1h0M587.8 365.1h0M588 359.3h0M588.2 360.6h0M588.4 359.3h0M588.6 361.5h0M588.8 360.6h0M588.9 364.5h0M589.1 358.5h0M589.3 363h0M589.5 355.8h0M589.7 370.8h0M589.9 361.5h0M590.1 358.5h0M590.3 359.7h0M590.5 358.9h0M590.7 362h0M590.9 370.1h0M591.1 366.8h0M591.2 364h0M591.4 364.5h0M591.6 364.5h0M591.8 370.1h0M592 363.5h0M592.2 363.5h0M592.4 363.5h0M592.6 364h0M592.8 378.8h0M593 358.9h0M593.2 361h0M593.4 364.5h0M593.5 370.8h0M593.7 365.1h0M593.9 365.6h0M594.1 360.6h0M594.3 365.6h0M594.5 362h0M594.7 352.5h0M594.9 366.2h0M595.1 360.6h0M595.3 373.1h0M595.5 367.4h0M595.6 363.5h0M595.8 360.6h0M596 368.1h0M596.2 369.4h0M596.4 365.1h0M596.6 362h0M596.8 359.7h0M597 369.4h0M597.2 362.5h0M597.4 364h0M597.6 363.5h0M597.8 366.2h0M597.9 366.8h0M598.1 363.5h0M598.3 373.1h0M598.5 364h0M598.7 374h0M598.9 377.7h0M599.1 359.7h0M599.3 372.3h0M599.5 365.1h0M599.7 366.2h0M599.9 365.6h0M600.1 366.8h0M600.2 366.8h0M600.4 362.5h0M600.6 365.6h0M600.8 369.4h0M601 369.4h0M601.2 363h0M601.4 360.1h0M601.6 364h0M601.8 373.1h0M602 365.6h0M602.2 362h0M602.4 368.7h0M602.5 365.1h0M602.7 362.5h0M602.9 372.3h0M603.1 366.8h0M603.3 361h0M603.5 368.7h0M603.7 367.4h0M603.9 362h0M604.1 368.1h0M604.3 362.5h0M604.5 365.6h0M604.7 374h0M604.8 373.1h0M605 370.1h0M605.2 365.6h0M605.4 370.8h0M605.6 372.3h0M605.8 361h0M606 365.6h0M606.2 371.6h0M606.4 381.1h0M606.6 367.4h0M606.8 370.8h0M606.9 362h0M607.1 370.1h0M607.3 363.5h0M607.5 381.1h0M607.7 370.1h0M607.9 362.5h0M608.1 364.5h0M608.3 373.1h0M608.5 370.8h0M608.7 368.1h0M608.9 367.4h0M609.1 370.8h0M609.2 371.6h0M609.4 383.7h0M609.6 375.8h0M609.8 373.1h0M610 371.6h0M610.2 374h0M610.4 372.3h0M610.6 374.9h0M610.8 376.7h0M611 369.4h0M611.2 364.5h0M611.4 369.4h0M611.5 370.1h0M611.7 369.4h0M611.9 366.2h0M612.1 361.5h0M612.3 377.7h0M612.5 374.9h0M612.7 379.9h0M612.9 372.3h0M613.1 379.9h0M613.3 371.6h0M613.5 367.4h0M613.7 379.9h0M613.8 368.1h0M614 373.1h0M614.2 371.6h0M614.4 374.9h0M614.6 374h0M614.8 374h0M615 370.8h0M615.2 374h0M615.4 377.7h0M615.6 368.1h0M615.8 368.7h0M615.9 377.7h0M616.1 372.3h0M616.3 373.1h0M616.5 374.9h0M616.7 370.1h0M616.9 372.3h0M617.1 374.9h0M617.3 372.3h0M617.5 368.7h0M617.7 370.1h0M617.9 381.1h0M618.1 383.7h0M618.2 372.3h0M618.4 374.9h0M618.6 376.7h0M618.8 382.3h0M619 383.7h0M619.2 370.8h0M619.4 371.6h0M619.6 382.3h0M619.8 378.8h0M620 374.9h0M620.2 379.9h0M620.4 373.1h0M620.5 382.3h0M620.7 370.8h0M620.9 375.8h0M621.1 375.8h0M621.3 374.9h0M621.5 374.9h0M621.7 374.9h0M621.9 378.8h0M622.1 379.9h0M622.3 381.1h0M622.5 383.7h0M622.7 368.7h0M622.8 378.8h0M623 370.1h0M623.2 381.1h0M623.4 370.8h0M623.6 383.7h0M623.8 378.8h0M624 381.1h0M624.2 374h0M624.4 372.3h0M624.6 381.1h0M624.8 376.7h0M624.9 388.2h0M625.1 374h0M625.3 379.9h0M625.5 370.1h0M625.7 383.7h0M625.9 375.8h0M626.1 375.8h0M626.3 396.6h0M626.5 379.9h0M626.7 378.8h0M626.9 379.9h0M627.1 372.3h0M627.2 368.7h0M627.4 375.8h0M627.6 378.8h0M627.8 375.8h0M628 379.9h0M628.2 373.1h0M628.4 381.1h0M628.6 374.9h0M628.8 375.8h0M629 377.7h0M629.2 378.8h0M629.4 371.6h0M629.5 379.9h0M629.7 379.9h0M629.9 379.9h0M630.1 381.1h0M630.3 375.8h0M630.5 377.7h0M630.7 382.3h0M630.9 368.7h0M631.1 378.8h0M631.3 385.1h0M631.5 381.1h0M631.7 382.3h0M631.8 379.9h0M632 388.2h0M632.2 379.9h0M632.4 386.6h0M632.6 375.8h0M632.8 385.1h0M633 382.3h0M633.2 383.7h0M633.4 373.1h0M633.6 379.9h0M633.8 379.9h0M634 385.1h0M634.1 374h0M634.3 385.1h0M634.5 378.8h0M634.7 386.6h0M634.9 376.7h0M635.1 379.9h0M635.3 390h0M635.5 381.1h0M635.7 379.9h0M635.9 385.1h0M636.1 383.7h0M636.2 383.7h0M636.4 378.8h0M636.6 382.3h0M636.8 383.7h0M637 382.3h0M637.2 376.7h0M637.4 381.1h0M637.6 386.6h0M637.8 377.7h0M638 374h0M638.2 379.9h0M638.4 373.1h0M638.5 376.7h0M638.7 374h0M638.9 374.9h0M639.1 381.1h0M639.3 381.1h0M639.5 386.6h0M639.7 376.7h0M639.9 394.2h0M640.1 377.7h0M640.3 390h0M640.5 375.8h0M640.7 373.1h0M640.8 381.1h0M641 381.1h0M641.2 379.9h0M641.4 388.2h0M641.6 382.3h0M641.8 390h0M642 386.6h0M642.2 386.6h0M642.4 385.1h0M642.6 381.1h0M642.8 388.2h0M643 381.1h0M643.1 374.9h0M643.3 379.9h0M643.5 392h0M643.7 386.6h0M643.9 390h0M644.1 381.1h0M644.3 388.2h0M644.5 379.9h0M644.7 375.8h0M644.9 385.1h0M645.1 385.1h0M645.2 388.2h0M645.4 372.3h0M645.6 388.2h0M645.8 388.2h0M646 394.2h0M646.2 381.1h0M646.4 382.3h0M646.6 385.1h0M646.8 390h0M647 378.8h0M647.2 402.5h0M647.4 386.6h0M647.5 378.8h0M647.7 394.2h0M647.9 383.7h0M648.1 379.9h0M648.3 382.3h0M648.5 385.1h0M648.7 377.7h0M648.9 379.9h0M649.1 390h0M649.3 379.9h0M649.5 375.8h0M649.7 386.6h0M649.8 394.2h0M650 378.8h0M650.2 378.8h0M650.4 382.3h0M650.6 390h0M650.8 388.2h0M651 374.9h0M651.2 379.9h0M651.4 388.2h0M651.6 388.2h0M651.8 385.1h0M652 388.2h0M652.1 386.6h0M652.3 377.7h0M652.5 390h0M652.7 383.7h0M652.9 377.7h0M653.1 378.8h0M653.3 392h0M653.5 372.3h0M653.7 382.3h0M653.9 392h0M654.1 396.6h0M654.2 386.6h0M654.4 376.7h0M654.6 377.7h0M654.8 376.7h0M655 396.6h0M655.2 382.3h0M655.4 396.6h0M655.6 392h0M655.8 386.6h0M656 383.7h0M656.2 383.7h0M656.4 390h0M656.5 383.7h0M656.7 385.1h0M656.9 383.7h0M657.1 381.1h0M657.3 383.7h0M657.5 386.6h0M657.7 385.1h0M657.9 383.7h0M658.1 385.1h0M658.3 379.9h0M658.5 382.3h0M658.7 388.2h0M658.8 390h0M659 383.7h0M659.2 386.6h0M659.4 383.7h0M659.6 390h0M659.8 376.7h0M660 386.6h0M660.2 377.7h0M660.4 392h0M660.6 381.1h0M660.8 396.6h0M661 383.7h0M661.1 388.2h0M661.3 385.1h0M661.5 399.3h0M661.7 386.6h0M661.9 388.2h0M662.1 382.3h0M662.3 399.3h0M662.5 388.2h0M662.7 379.9h0M662.9 383.7h0M663.1 388.2h0M663.2 386.6h0M663.4 390h0M663.6 385.1h0M663.8 382.3h0M664 388.2h0M664.2 394.2h0M664.4 390h0M664.6 382.3h0M664.8 388.2h0M665 376.7h0M665.2 385.1h0M665.4 385.1h0M665.5 386.6h0M665.7 379.9h0M665.9 392h0M666.1 386.6h0M666.3 396.6h0M666.5 390h0M666.7 394.2h0M666.9 388.2h0M667.1 379.9h0M667.3 390h0M667.5 392h0M667.7 388.2h0M667.8 386.6h0M668 382.3h0M668.2 385.1h0M668.4 388.2h0M668.6 388.2h0M668.8 374.9h0M669 383.7h0M669.2 399.3h0M669.4 392h0M669.6 394.2h0M669.8 379.9h0M670 394.2h0M670.1 392h0M670.3 386.6h0M670.5 390h0M670.7 383.7h0M670.9 386.6h0M671.1 392h0M671.3 394.2h0M671.5 385.1h0M671.7 406.3h0M671.9 386.6h0M672.1 396.6h0M672.2 399.3h0M672.4 392h0M672.6 386.6h0M672.8 386.6h0M673 392h0M673.2 392h0M673.4 385.1h0M673.6 394.2h0M673.8 402.5h0M674 385.1h0M674.2 388.2h0M674.4 385.1h0M674.5 392h0M674.7 386.6h0M674.9 388.2h0M675.1 385.1h0M675.3 386.6h0M675.5 396.6h0M675.7 402.5h0M675.9 385.1h0M676.1 399.3h0M676.3 377.7h0M676.5 383.7h0M676.7 382.3h0M676.8 381.1h0M677 386.6h0M677.2 390h0M677.4 396.6h0M677.6 394.2h0M677.8 392h0M678 396.6h0M678.2 383.7h0M678.4 394.2h0M678.6 383.7h0M678.8 388.2h0M679 390h0M679.1 382.3h0M679.3 406.3h0M679.5 386.6h0M679.7 388.2h0M679.9 390h0M680.1 394.2h0M680.3 386.6h0M680.5 406.3h0M680.7 396.6h0M680.9 406.3h0M681.1 390h0M681.3 392h0M681.4 402.5h0M681.6 386.6h0M681.8 394.2h0M682 396.6h0M682.2 396.6h0M682.4 392h0M682.6 396.6h0M682.8 390h0M683 390h0M683.2 386.6h0M683.4 399.3h0M683.5 382.3h0M683.7 390h0M683.9 382.3h0M684.1 396.6h0M684.3 388.2h0M684.5 390h0M684.7 399.3h0M684.9 390h0M685.1 399.3h0M685.3 392h0M685.5 394.2h0M685.7 392h0M685.8 386.6h0M686 394.2h0M686.2 374h0M686.4 406.3h0M686.6 392h0M686.8 392h0M687 416.8h0M687.2 402.5h0M687.4 394.2h0M687.6 394.2h0M687.8 382.3h0M688 402.5h0M688.1 385.1h0M688.3 385.1h0M688.5 396.6h0M688.7 399.3h0M688.9 386.6h0M689.1 390h0M689.3 399.3h0M689.5 396.6h0M689.7 390h0M689.9 396.6h0M690.1 392h0M690.3 386.6h0M690.4 394.2h0M690.6 382.3h0M690.8 394.2h0M691 392h0M691.2 392h0M691.4 385.1h0" stroke="#fa5b23" stroke-width="2.7" stroke-linecap="round" fill="none"/><path d="M385 260.1L385.6 255.3L386.1 252.6L386.7 251.1L387.3 250.1L387.9 249.6L388.4 249.4L389 249.3L389.6 249.3L390.2 249.5L390.7 249.7L391.3 249.9L391.9 250.2L392.5 250.5L393 250.8L393.6 251.1L394.2 251.4L394.8 251.8L395.3 252.1L395.9 252.5L396.5 252.8L397.1 253.1L397.6 253.5L398.2 253.8L398.8 254.2L399.4 254.5L399.9 254.9L400.5 255.2L401.1 255.6L401.7 255.9L402.2 256.3L402.8 256.6L403.4 257L404 257.3L404.5 257.6L405.1 258L405.7 258.3L406.3 258.7L406.8 259L407.4 259.4L408 259.7L408.6 260.1L409.1 260.4L409.7 260.8L410.3 261.1L410.9 261.5L411.4 261.8L412 262.2L412.6 262.5L413.2 262.9L413.7 263.2L414.3 263.6L414.9 263.9L415.4 264.2L416 264.6L416.6 264.9L417.2 265.3L417.7 265.6L418.3 266L418.9 266.3L419.5 266.7L420 267L420.6 267.4L421.2 267.7L421.8 268.1L422.3 268.4L422.9 268.8L423.5 269.1L424.1 269.5L424.6 269.8L425.2 270.1L425.8 270.5L426.4 270.8L426.9 271.2L427.5 271.5L428.1 271.9L428.7 272.2L429.2 272.6L429.8 272.9L430.4 273.3L431 273.6L431.5 274L432.1 274.3L432.7 274.7L433.3 275L433.8 275.4L434.4 275.7L435 276L435.6 276.4L436.1 276.7L436.7 277.1L437.3 277.4L437.9 277.8L438.4 278.1L439 278.5L439.6 278.8L440.2 279.2L440.7 279.5L441.3 279.9L441.9 280.2L442.4 280.6L443 280.9L443.6 281.2L444.2 281.6L444.7 281.9L445.3 282.3L445.9 282.6L446.5 283L447 283.3L447.6 283.7L448.2 284L448.8 284.4L449.3 284.7L449.9 285.1L450.5 285.4L451.1 285.7L451.6 286.1L452.2 286.4L452.8 286.8L453.4 287.1L453.9 287.5L454.5 287.8L455.1 288.2L455.7 288.5L456.2 288.9L456.8 289.2L457.4 289.6L458 289.9L458.5 290.2L459.1 290.6L459.7 290.9L460.3 291.3L460.8 291.6L461.4 292L462 292.3L462.6 292.7L463.1 293L463.7 293.4L464.3 293.7L464.9 294L465.4 294.4L466 294.7L466.6 295.1L467.2 295.4L467.7 295.8L468.3 296.1L468.9 296.5L469.5 296.8L470 297.2L470.6 297.5L471.2 297.8L471.7 298.2L472.3 298.5L472.9 298.9L473.5 299.2L474 299.6L474.6 299.9L475.2 300.3L475.8 300.6L476.3 301L476.9 301.3L477.5 301.6L478.1 302L478.6 302.3L479.2 302.7L479.8 303L480.4 303.4L480.9 303.7L481.5 304.1L482.1 304.4L482.7 304.7L483.2 305.1L483.8 305.4L484.4 305.8L485 306.1L485.5 306.5L486.1 306.8L486.7 307.1L487.3 307.5L487.8 307.8L488.4 308.2L489 308.5L489.6 308.9L490.1 309.2L490.7 309.5L491.3 309.9L491.9 310.2L492.4 310.6L493 310.9L493.6 311.3L494.2 311.6L494.7 311.9L495.3 312.3L495.9 312.6L496.5 313L497 313.3L497.6 313.7L498.2 314L498.8 314.3L499.3 314.7L499.9 315L500.5 315.4L501 315.7L501.6 316.1L502.2 316.4L502.8 316.7L503.3 317.1L503.9 317.4L504.5 317.8L505.1 318.1L505.6 318.4L506.2 318.8L506.8 319.1L507.4 319.5L507.9 319.8L508.5 320.1L509.1 320.5L509.7 320.8L510.2 321.2L510.8 321.5L511.4 321.8L512 322.2L512.5 322.5L513.1 322.9L513.7 323.2L514.3 323.5L514.8 323.9L515.4 324.2L516 324.5L516.6 324.9L517.1 325.2L517.7 325.6L518.3 325.9L518.9 326.2L519.4 326.6L520 326.9L520.6 327.2L521.2 327.6L521.7 327.9L522.3 328.3L522.9 328.6L523.5 328.9L524 329.3L524.6 329.6L525.2 329.9L525.8 330.3L526.3 330.6L526.9 330.9L527.5 331.3L528.1 331.6L528.6 331.9L529.2 332.3L529.8 332.6L530.3 332.9L530.9 333.3L531.5 333.6L532.1 333.9L532.6 334.3L533.2 334.6L533.8 334.9L534.4 335.3L534.9 335.6L535.5 335.9L536.1 336.3L536.7 336.6L537.2 336.9L537.8 337.3L538.4 337.6L539 337.9L539.5 338.2L540.1 338.6L540.7 338.9L541.3 339.2L541.8 339.6L542.4 339.9L543 340.2L543.6 340.5L544.1 340.9L544.7 341.2L545.3 341.5L545.9 341.8L546.4 342.2L547 342.5L547.6 342.8L548.2 343.1L548.7 343.5L549.3 343.8L549.9 344.1L550.5 344.4L551 344.8L551.6 345.1L552.2 345.4L552.8 345.7L553.3 346L553.9 346.4L554.5 346.7L555.1 347L555.6 347.3L556.2 347.6L556.8 348L557.4 348.3L557.9 348.6L558.5 348.9L559.1 349.2L559.6 349.5L560.2 349.9L560.8 350.2L561.4 350.5L561.9 350.8L562.5 351.1L563.1 351.4L563.7 351.7L564.2 352.1L564.8 352.4L565.4 352.7L566 353L566.5 353.3L567.1 353.6L567.7 353.9L568.3 354.2L568.8 354.5L569.4 354.8L570 355.1L570.6 355.4L571.1 355.7L571.7 356.1L572.3 356.4L572.9 356.7L573.4 357L574 357.3L574.6 357.6L575.2 357.9L575.7 358.2L576.3 358.5L576.9 358.8L577.5 359.1L578 359.3L578.6 359.6L579.2 359.9L579.8 360.2L580.3 360.5L580.9 360.8L581.5 361.1L582.1 361.4L582.6 361.7L583.2 362L583.8 362.3L584.4 362.6L584.9 362.8L585.5 363.1L586.1 363.4L586.6 363.7L587.2 364L587.8 364.3L588.4 364.5L588.9 364.8L589.5 365.1L590.1 365.4L590.7 365.7L591.2 365.9L591.8 366.2L592.4 366.5L593 366.8L593.5 367L594.1 367.3L594.7 367.6L595.3 367.8L595.8 368.1L596.4 368.4L597 368.7L597.6 368.9L598.1 369.2L598.7 369.4L599.3 369.7L599.9 370L600.4 370.2L601 370.5L601.6 370.7L602.2 371L602.7 371.3L603.3 371.5L603.9 371.8L604.5 372L605 372.3L605.6 372.5L606.2 372.8L606.8 373L607.3 373.3L607.9 373.5L608.5 373.8L609.1 374L609.6 374.2L610.2 374.5L610.8 374.7L611.4 375L611.9 375.2L612.5 375.4L613.1 375.7L613.7 375.9L614.2 376.1L614.8 376.4L615.4 376.6L615.9 376.8L616.5 377L617.1 377.3L617.7 377.5L618.2 377.7L618.8 377.9L619.4 378.1L620 378.4L620.5 378.6L621.1 378.8L621.7 379L622.3 379.2L622.8 379.4L623.4 379.6L624 379.9L624.6 380.1L625.1 380.3L625.7 380.5L626.3 380.7L626.9 380.9L627.4 381.1L628 381.3L628.6 381.5L629.2 381.7L629.7 381.9L630.3 382L630.9 382.2L631.5 382.4L632 382.6L632.6 382.8L633.2 383L633.8 383.2L634.3 383.4L634.9 383.5L635.5 383.7L636.1 383.9L636.6 384.1L637.2 384.2L637.8 384.4L638.4 384.6L638.9 384.8L639.5 384.9L640.1 385.1L640.7 385.3L641.2 385.4L641.8 385.6L642.4 385.7L643 385.9L643.5 386.1L644.1 386.2L644.7 386.4L645.2 386.5L645.8 386.7L646.4 386.8L647 387L647.5 387.1L648.1 387.3L648.7 387.4L649.3 387.6L649.8 387.7L650.4 387.9L651 388L651.6 388.1L652.1 388.3L652.7 388.4L653.3 388.5L653.9 388.7L654.4 388.8L655 388.9L655.6 389.1L656.2 389.2L656.7 389.3L657.3 389.4L657.9 389.6L658.5 389.7L659 389.8L659.6 389.9L660.2 390L660.8 390.2L661.3 390.3L661.9 390.4L662.5 390.5L663.1 390.6L663.6 390.7L664.2 390.8L664.8 390.9L665.4 391.1L665.9 391.2L666.5 391.3L667.1 391.4L667.7 391.5L668.2 391.6L668.8 391.7L669.4 391.8L670 391.9L670.5 392L671.1 392.1L671.7 392.1L672.2 392.2L672.8 392.3L673.4 392.4L674 392.5L674.5 392.6L675.1 392.7L675.7 392.8L676.3 392.9L676.8 392.9L677.4 393L678 393.1L678.6 393.2L679.1 393.3L679.7 393.3L680.3 393.4L680.9 393.5L681.4 393.6L682 393.6L682.6 393.7L683.2 393.8L683.7 393.9L684.3 393.9L684.9 394L685.5 394.1L686 394.1L686.6 394.2L687.2 394.3L687.8 394.3L688.3 394.4L688.9 394.5L689.5 394.5L690.1 394.6L690.6 394.6L691.2 394.7" stroke="#000" stroke-width="1.9" fill="none" stroke-linejoin="round"/></g><circle cx="630.9" cy="251.6" r="2.1" fill="#000"/><circle cx="630.4" cy="259.7" r="2.1" fill="#fa5b23"/><path d="M623.3 269H638.6" stroke="#000" stroke-width="1.6"/><g font-size="6" fill="#111" stroke="#111" stroke-width="0.12"><text x="639.9" y="253.7">Prompt</text><text x="638" y="261.8">AB<tspan font-size="4" dy="1.5">3</tspan><tspan dy="-1.5">TTP-Por-C6</tspan></text><text x="639.9" y="271.1">Fit</text></g><g fill="#111" stroke="#111" stroke-width="0.55" font-size="11.2"><text x="0" y="259.7" transform="translate(518.9 0) scale(0.86 1)">D</text><text x="0" y="259.7" transform="translate(526.6 0) scale(0.86 1)">)</text></g>
</svg></body></html>
